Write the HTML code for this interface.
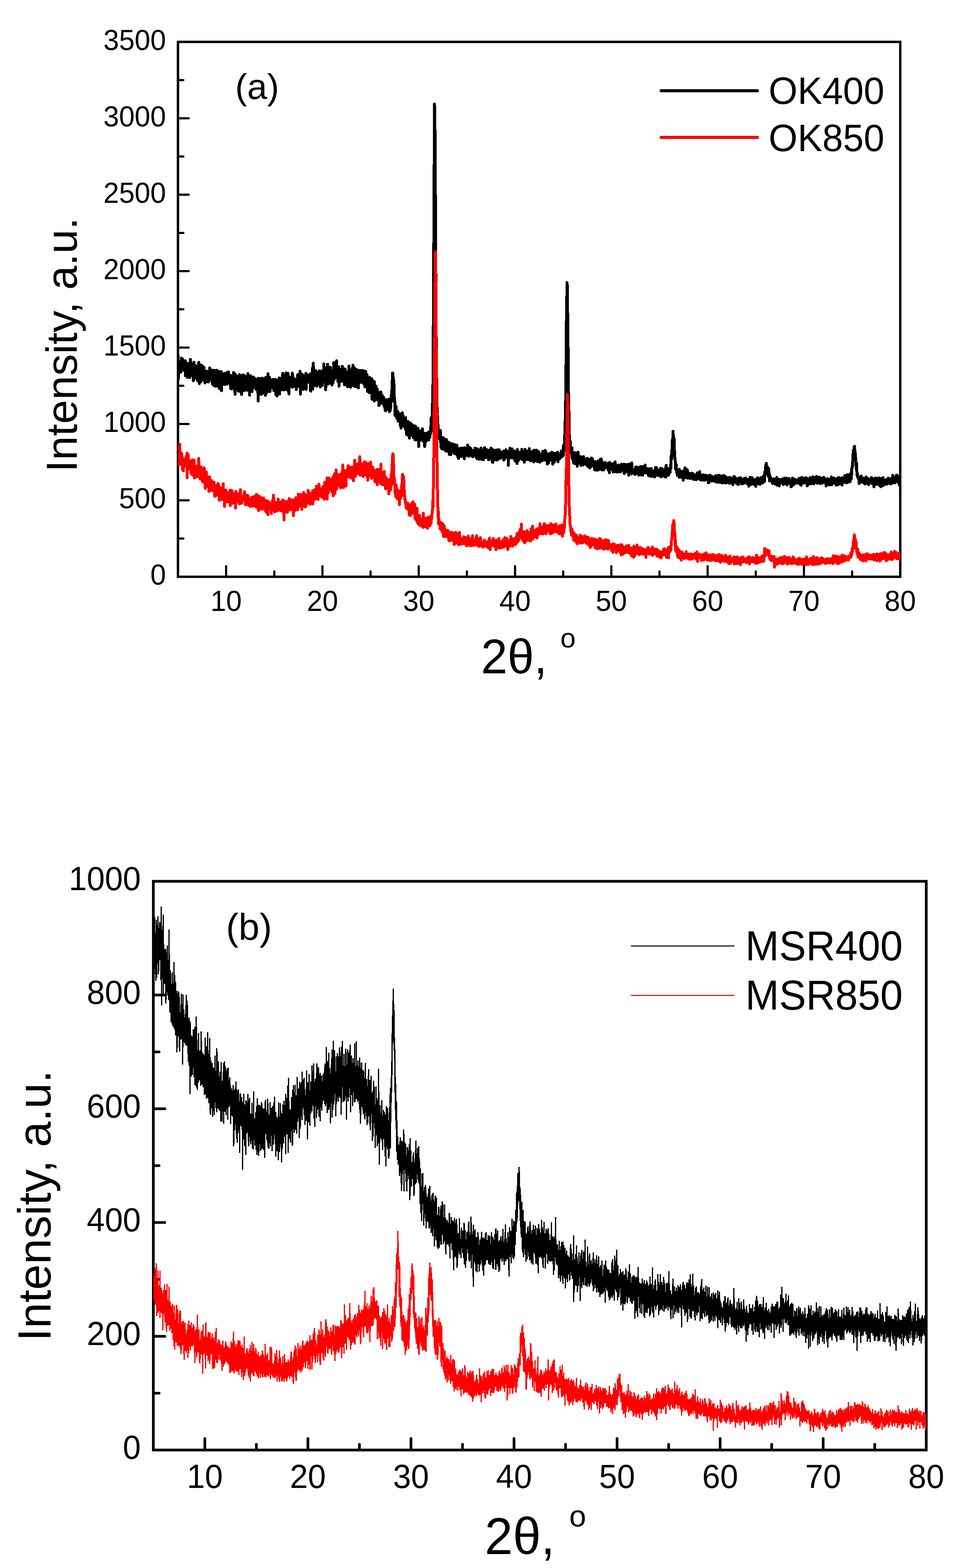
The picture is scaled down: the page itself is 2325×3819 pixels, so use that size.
<!DOCTYPE html>
<html lang="en"><head><meta charset="utf-8"><title>XRD patterns</title>
<style>
html,body{margin:0;padding:0;background:#fff;width:2325px;height:3819px;}
svg{display:block;}
text{font-family:"Liberation Sans", sans-serif;fill:#000;}
</style></head><body>
<svg width="2325" height="3819" viewBox="0 0 2325 3819">
<rect width="2325" height="3819" fill="#fff"/>
<defs>
<clipPath id="ct"><rect x="433.3" y="102.0" width="1758.4" height="1302.8"/></clipPath>
<clipPath id="cb"><rect x="373.3" y="2146.5" width="1881.7" height="1385.2"/></clipPath>
</defs>
<rect x="433.3" y="102.0" width="1758.4" height="1302.8" fill="none" stroke="#000" stroke-width="5.8"/>
<path d="M550.5 1404.8V1378.8M785.0 1404.8V1378.8M1019.4 1404.8V1378.8M1253.9 1404.8V1378.8M1488.3 1404.8V1378.8M1722.8 1404.8V1378.8M1957.2 1404.8V1378.8M667.8 1404.8V1391.8M902.2 1404.8V1391.8M1136.7 1404.8V1391.8M1371.1 1404.8V1391.8M1605.6 1404.8V1391.8M1840.0 1404.8V1391.8M2074.5 1404.8V1391.8M433.3 1218.7H459.3M433.3 1032.6H459.3M433.3 846.5H459.3M433.3 660.3H459.3M433.3 474.2H459.3M433.3 288.1H459.3M433.3 1311.7H446.3M433.3 1125.6H446.3M433.3 939.5H446.3M433.3 753.4H446.3M433.3 567.3H446.3M433.3 381.2H446.3M433.3 195.1H446.3" fill="none" stroke="#000" stroke-width="5.2" stroke-linecap="round"/>
<path shape-rendering="crispEdges" clip-path="url(#ct)" d="M433.3 867l.47 25.3 .47 2.6 .47 27.1 .47-32.7 .46 4 .47 2.9 .47-10.4 .47-1.1 .47 18.5 .47-2 .47-4.9 .47-14.2 .47 1.8 .46 23.2 .47-2.1 .47-22.7 .47-10.2 .47 20.1 .47 8.3 .47-21.8 .47 17.6 .47-12.6 .46-9.9 .47 11.5 .47 7.1 .47-7.9 .47 17.1 .47-5.5 .47 5.1 .47-4.3 .47 3.6 .47-3.4 .46 2.6 .47-5.6 .47 .5 .47-2.6 .47-13.4 .47 36.4 .47-34.7 .47 19.1 .47 12.4 .46-12.8 .47-3.1 .47-11.7 .47 26.3 .47-15.5 .47 1.4 .47 22.3 .47-5.9 .47-21.7 .46-.9 .47-4.6 .47 7 .47 1.9 .47 3.5 .47-13.1 .47 25.3 .47-8.4 .47-6.2 .46 24.1 .47-35 .47 25.8 .47-8.6 .47-26.9 .47 36.5 .47-3.4 .47-25.3 .47 32.3 .46-7.7 .47-11.3 .47 .9 .47-1.5 .47 2.9 .47-11.6 .47 4.2 .47 5.3 .47 15.6 .46 .6 .47 14.7 .47-31.3 .47 30.6 .47-32.6 .47-11.5 .47 35.4 .47-4.4 .47-2.3 .46-15.7 .47 20.7 .47-8.7 .47 4.9 .47-3.1 .47-18.4 .47 27.4 .47-12.4 .47-2.2 .47-6.9 .46 25.8 .47-28.6 .47 8.4 .47-5.1 .47 9.8 .47 20.8 .47-11.8 .47-17.5 .47 9.6 .46 1.2 .47-22 .47-4.7 .47 27.1 .47-23.6 .47 47.4 .47 .8 .47-34.9 .47 13.8 .46-10 .47 .9 .47 7.5 .47-9.1 .47 6.5 .47 20.3 .47-20.8 .47 .5 .47-19.5 .46 35.6 .47-13.6 .47 5.5 .47-3.4 .47-21.3 .47 15.5 .47 10.2 .47-7.2 .47-7.2 .46 21.2 .47-8.6 .47-21.4 .47 8.3 .47 10.9 .47 5.4 .47-3.8 .47 16.8 .47-29.6 .46 7.4 .47 2.5 .47 17.3 .47-6.8 .47-14.5 .47 3.2 .47 9.1 .47-11.8 .47-5 .46 19.3 .47-1.6 .47 4.2 .47 3.5 .47-23.1 .47 3.6 .47 2.1 .47 18.1 .47-1.4 .47-11.4 .46 4.2 .47-6.2 .47 9.8 .47-15.9 .47-13.5 .47 3.2 .47-.6 .47 18.3 .47-9.9 .46 15.5 .47-15.3 .47 15.5 .47 1.5 .47 1.9 .47-15.8 .47 5.2 .47 1.1 .47 15.9 .46-15.1 .47 18.8 .47-34.3 .47 19.1 .47-3.8 .47 3.7 .47 17.6 .47-2.4 .47-15.8 .46-17.8 .47 30.9 .47-4.8 .47-7.6 .47 19.4 .47 .3 .47-15.1 .47-4.2 .47 4.2 .46-22.6 .47 20.1 .47-6.1 .47-14.5 .47-1.1 .47 38.9 .47-14.2 .47-18 .47 30 .46-5.2 .47 4.4 .47 .9 .47-2.6 .47-15.3 .47-12.8 .47-2.9 .47 17.9 .47 23.4 .46-22.4 .47 3.4 .47-8 .47 5.7 .47 19.7 .47-25.9 .47 29.3 .47-16.1 .47-11.7 .47-.4 .46-14.2 .47 46.2 .47-31.6 .47-4 .47 12 .47-11.2 .47 20.5 .47-20.6 .47 1.5 .46 17.9 .47-3.6 .47-5.5 .47 5.5 .47-19.8 .47 10.3 .47-13.3 .47 1.7 .47 13.1 .46 3.1 .47 8.9 .47-1.6 .47 .1 .47-13.4 .47 14.5 .47-11.2 .47-1.2 .47 8.1 .46-3.5 .47-19 .47-1.9 .47 28.1 .47-6.8 .47 2.1 .47-1 .47-21.1 .47 10 .46-6.6 .47-6 .47 26 .47-2.9 .47-2.5 .47-11.5 .47 13.2 .47-8.6 .47-6 .46 .2 .47 8.4 .47 14.5 .47 9 .47-31.1 .47 7.8 .47 16.3 .47-4.9 .47-.6 .46 14.4 .47-22.4 .47 12.2 .47-5.7 .47-11.9 .47 9.8 .47-7.4 .47 1.5 .47 4.6 .47-.1 .46-21 .47 23.7 .47-20.8 .47 29.6 .47-19 .47 6.5 .47 10.6 .47 22.4 .47-49.3 .46 32.1 .47-2.2 .47-12.6 .47 .9 .47-2.5 .47 6.3 .47 14.5 .47-27.4 .47 20.6 .46-13 .47-4 .47-7 .47 16.4 .47 1.1 .47-.8 .47 18.8 .47-12.6 .47 3 .46 1.7 .47-15.2 .47 5.6 .47-22 .47 1.3 .47 39.2 .47-23.2 .47 13.1 .47-18 .46 4.7 .47-8.9 .47 7.3 .47-5.2 .47 12.4 .47 25.6 .47-15.2 .47-3.8 .47-4.1 .46 6.1 .47-30.6 .47 20.9 .47-16.8 .47 18.9 .47-22.9 .47 33 .47-20.7 .47 22.4 .46-20.5 .47-13.1 .47 37.3 .47-8.8 .47-12.8 .47 5 .47 13.8 .47-29.1 .47 12.8 .47-14.3 .46 11.3 .47 17.1 .47-7.7 .47-21.5 .47 32 .47-10.5 .47-12.3 .47-4.7 .47 2.2 .46 26.6 .47-40.9 .47 26 .47-2 .47 .2 .47 2.7 .47 8.5 .47-7.3 .47-18.9 .46 31 .47 12.3 .47-34.1 .47 2.4 .47-4.5 .47-11.4 .47 28.3 .47-10.4 .47-3.7 .46-8.3 .47 2.4 .47 21.6 .47 6.2 .47-12.7 .47 15.5 .47-31.3 .47 17.4 .47-.4 .46 6.2 .47-27.7 .47 14.2 .47 8.1 .47-11.7 .47 8.1 .47-7.8 .47-8.3 .47 18.3 .46-8.9 .47 .4 .47-7.5 .47 6.3 .47 6.5 .47 7.8 .47-10.8 .47 15.5 .47-19.5 .47 6.9 .46-5.6 .47 12.3 .47 3.3 .47 1.3 .47-23.1 .47 15.2 .47 .2 .47 17.9 .47-19.8 .46 39.1 .47-55.3 .47 18.4 .47-3 .47 16.7 .47-3.8 .47-19.5 .47 9.4 .47-7.3 .46-9.6 .47 7 .47 29.4 .47-10.4 .47 1.7 .47-2.5 .47 13.4 .47-.3 .47-15 .46-1.6 .47-12.7 .47 9.6 .47-20 .47 37.3 .47-5 .47-18.8 .47 6.1 .47 8.2 .46-20.1 .47-3.7 .47-2.5 .47 19.6 .47-4.4 .47-2.7 .47 2 .47-11 .47 17.3 .46-9.8 .47 29.5 .47-33.9 .47-10.1 .47 19.1 .47-12.2 .47 30.9 .47-15.2 .47 13.9 .46-21.3 .47-2.3 .47 21.7 .47-6 .47-3 .47-34.5 .47 28.6 .47-2.2 .47-2.7 .47 .7 .46 6.2 .47 12.5 .47-7.5 .47-26.5 .47 15.8 .47 7.2 .47 11.2 .47-14.8 .47-1 .46 7.8 .47-17.7 .47 17 .47-4.8 .47-11.6 .47 7.1 .47-10.3 .47 15.5 .47 2.3 .46-10.3 .47 2.9 .47-11.2 .47 8.9 .47 5 .47-5.5 .47-2.3 .47 20.3 .47-11.2 .46 2.2 .47-17.6 .47 19.2 .47-17.7 .47 26.6 .47-13.8 .47-12.9 .47 15.2 .47-16.2 .46 36.4 .47-23.6 .47-1.5 .47 3.2 .47 15.8 .47-24.9 .47 34.3 .47-37.6 .47 7.5 .46-8 .47 14.2 .47 9.8 .47-6.8 .47-.7 .47-12.2 .47 10.4 .47-8.3 .47-.9 .46-10.8 .47 39.1 .47-18.2 .47-12.6 .47-.1 .47 14.3 .47-3.4 .47-2.1 .47-2.6 .47 7.9 .46 .9 .47 5.4 .47-8.5 .47-20.4 .47 26.8 .47-22 .47-11.3 .47 19.9 .47-24.8 .46 28.6 .47-20.8 .47 19.6 .47 13.3 .47-18 .47-17.7 .47 28.3 .47-12.3 .47 16.8 .46-1.3 .47-15.5 .47 7.3 .47-8.7 .47-8.2 .47 28.1 .47-5.7 .47-8.5 .47-26.2 .46 30.3 .47 1.8 .47-10.7 .47-19.3 .47 30.8 .47-3.2 .47-4.1 .47-8.3 .47-16.5 .46 39.4 .47 4.7 .47-21.1 .47-4.4 .47 31.8 .47-18.8 .47-18.2 .47 17.1 .47-11.8 .46 3.5 .47-5.6 .47 2.4 .47 1.9 .47-11.4 .47 20.7 .47-7.9 .47-11.7 .47 19.4 .46-2.3 .47 4.3 .47 2.1 .47-34.3 .47 17.8 .47-16.3 .47 13.1 .47 7.5 .47 4.1 .47-6.4 .46 3.5 .47-11.2 .47 20.6 .47-12.1 .47-3.5 .47 7.9 .47 0 .47-9.2 .47-.2 .46 7.6 .47-1.1 .47 6.2 .47-12.9 .47 7.7 .47 16.7 .47-14.6 .47-10.8 .47 3.8 .46 13.5 .47-18.8 .47 1.4 .47-.1 .47-10.7 .47 21.5 .47-10.9 .47 9.9 .47-14.5 .46-2 .47 7.7 .47-3.1 .47 18 .47-16.7 .47 21 .47-39 .47 11.7 .47 31.1 .46 13.1 .47-46.1 .47 25 .47-16.3 .47 21.4 .47-16 .47 8.3 .47-14.5 .47 10.7 .46-21.2 .47 26 .47-23.8 .47 15 .47-6.3 .47 24.5 .47 1.8 .47-32.7 .47 26.4 .46-10.4 .47-.3 .47 6.7 .47-13 .47 18.7 .47-2.6 .47-24.7 .47 20 .47-18.1 .47 .9 .46-10.1 .47 12.3 .47 26.6 .47-13.9 .47-2.9 .47-19.2 .47 10.2 .47 9.7 .47-10.9 .46 9.2 .47-10.7 .47 4.5 .47-11.2 .47 8.9 .47-7.8 .47 11.7 .47-8.6 .47 10 .46-9.4 .47 4.8 .47 4 .47 3.4 .47-1.8 .47-8.9 .47 32.3 .47-41.4 .47 42.1 .46-25.6 .47 1.6 .47-12.6 .47 5.8 .47 3.1 .47-1.5 .47-10.3 .47-16.4 .47 22.9 .46 28.5 .47-19.3 .47-10 .47-34 .47 47.8 .47-4.7 .47-11.1 .47 2.7 .47 19.3 .46-26.8 .47 26.5 .47-12.4 .47-18.8 .47 30.9 .47-11.5 .47-23.8 .47 22.6 .47 9.2 .46-5.6 .47-16.8 .47 28.3 .47-11.2 .47 9.7 .47-3.7 .47-28.9 .47 16.1 .47 4.1 .47-10.3 .46 13.4 .47 5.7 .47-27.9 .47 3.1 .47 20.3 .47-18.5 .47-9 .47 11.4 .47-.2 .46 20.4 .47-13.1 .47 20.4 .47-35.4 .47 15.1 .47-17.8 .47 24.7 .47-19.6 .47 29.1 .46-14.2 .47-11.4 .47 2.2 .47 4.8 .47 18.8 .47-35.5 .47 7.8 .47-5.9 .47 .1 .46 17.8 .47-9.3 .47-27.1 .47 41.5 .47-15 .47 11.4 .47-27.7 .47 18.7 .47 14.4 .46-5.4 .47 9.5 .47 10.4 .47 5 .47-23.9 .47 4.7 .47-15.5 .47 11.6 .47-12.8 .46-18.7 .47 35.3 .47 .3 .47-26.6 .47-16.5 .47 38.6 .47 9.7 .47-17 .47 1.3 .47-13.6 .46 21.2 .47-9.7 .47 .4 .47 15.2 .47-.2 .47-24.5 .47-1.3 .47 16.1 .47-28.7 .46 7.5 .47 5.6 .47-1.9 .47 3 .47-4.6 .47-1.8 .47 9.5 .47 25.6 .47-23 .46 8.1 .47 4.2 .47-21.8 .47 28.9 .47-31.9 .47 17.8 .47 7.1 .47-4.4 .47-39.1 .46 10.4 .47 21.3 .47-16.5 .47-8.7 .47 32.3 .47-7.2 .47-14.8 .47 6.3 .47 9.4 .46-24.5 .47 13.7 .47-3.5 .47-19.6 .47 23.2 .47-26.4 .47 28.6 .47 5.7 .47-3.5 .46-9.2 .47 2.7 .47 3.5 .47 22.7 .47-4.8 .47-10.1 .47-12.1 .47-8.8 .47 47.1 .46-27.5 .47 3.8 .47-4.2 .47-3.9 .47 13.1 .47 5.8 .47-28.6 .47 3.2 .47 14.4 .47-3.6 .46 7.1 .47 8.8 .47-25.1 .47 16.1 .47 5.6 .47-6.3 .47-27.3 .47 14.7 .47 2.6 .46 1.8 .47-9.4 .47 1.7 .47 25 .47-13 .47 5.1 .47-10.5 .47 3.5 .47 23.7 .46-38.4 .47 11 .47 24.4 .47-35 .47 12.5 .47-4.1 .47 5.5 .47-1.5 .47 8.2 .46 14.2 .47-12.6 .47-9.6 .47 1.8 .47-7.4 .47 9.2 .47 26.3 .47-36.1 .47 18.9 .46 6.6 .47-12.3 .47 12.8 .47-20.9 .47 15.7 .47-34.7 .47 26.8 .47 3.8 .47 1.3 .46 18.4 .47-15.6 .47-1.2 .47-5.1 .47 23 .47-27.3 .47-15.1 .47 20.9 .47-4.5 .46-5.7 .47 14.9 .47-4.3 .47-16.8 .47 9.3 .47 17.2 .47 6.8 .47-49.1 .47 22.3 .47 24.6 .46-21 .47-6.2 .47 6.8 .47 24.2 .47-44.5 .47 14.7 .47 9.7 .47-10.5 .47 11 .46 1.4 .47-14.7 .47 34.7 .47-35.9 .47 7.4 .47-4.3 .47-1.8 .47-7.7 .47 1.5 .46 6.8 .47 15.4 .47-12.9 .47 14.2 .47 5.8 .47-16.9 .47 1.3 .47-10 .47 40.2 .46-32.8 .47-.8 .47 6.8 .47-16.3 .47 28.4 .47-14.4 .47 8.6 .47-4.1 .47 11.6 .46-9.9 .47-9.5 .47 6.7 .47-2.5 .47 13.5 .47-28.1 .47 27.6 .47-8.4 .47-6.6 .46 9.3 .47-11 .47 7 .47-17.9 .47 14 .47 2.1 .47 14.6 .47-14.9 .47-6.2 .46 7.3 .47 16.3 .47-4.2 .47-3.4 .47-2.7 .47 17 .47-38.2 .47 23.7 .47-2.1 .47 7 .46-4.3 .47-22.7 .47 34.3 .47-4.6 .47 6.6 .47-5.2 .47-23.9 .47 25.9 .47-1.5 .46 16.3 .47-16.3 .47-6.3 .47 8.9 .47-.4 .47-13.3 .47 3.8 .47 7.9 .47 8.5 .46 9 .47-36.2 .47 37.9 .47-24.6 .47 10.3 .47 6.8 .47-17.9 .47 19.3 .47-22.3 .46 26.8 .47-16.7 .47-8.3 .47 26.2 .47-34.2 .47 14.7 .47 35.4 .47-40.1 .47-5.3 .46 25.2 .47-.2 .47-5.7 .47 26.1 .47-22.5 .47-8.1 .47 17.2 .47-18 .47-11.6 .46 47.2 .47-1.1 .47-11.8 .47-14.3 .47 3.4 .47 15 .47 3 .47-3.9 .47-26.3 .46 29.9 .47-3.6 .47-16.3 .47 14.1 .47 8.5 .47-26.1 .47 12.6 .47 11.8 .47-2.8 .47-13.9 .46 14.7 .47-6.2 .47-6.4 .47-.6 .47 31.4 .47-14.2 .47-1.1 .47-4.2 .47-6.8 .46-3.7 .47 18 .47 7.6 .47-13.5 .47 9 .47-24.5 .47 15.2 .47 3.8 .47-9.6 .46 18.3 .47-2.9 .47-1.3 .47-8.3 .47-6.4 .47 5.9 .47 .9 .47 10.9 .47-5.9 .46 7 .47-14.3 .47 19.4 .47-5.4 .47-2.8 .47-5.3 .47 16.4 .47-4.8 .47 6.7 .46 5.9 .47-25 .47 7 .47 21 .47-5.1 .47-15.6 .47 12.6 .47 5.1 .47-23.6 .46 18.4 .47-.8 .47-9.3 .47 13.6 .47-7.2 .47-1.1 .47-5.7 .47 15.6 .47-18.6 .46 8 .47-14.8 .47 16.5 .47 7.9 .47 .2 .47 6.2 .47-11.6 .47 .5 .47-10.1 .47 7.9 .46 8.9 .47-20.6 .47 13.5 .47-9.9 .47-16.2 .47-3.1 .47 15.1 .47-14.6 .47-25.8 .46-7 .47-6.4 .47-15 .47 27.9 .47-27.2 .47 14.4 .47-4.2 .47 6.4 .47 1.6 .46 4.4 .47 16.2 .47 16.1 .47 15.7 .47-10.1 .47 16.5 .47 25.5 .47-14.2 .47-3.1 .46 16.9 .47-10.4 .47-11.7 .47 18.9 .47-1 .47 .7 .47 10.1 .47-4.2 .47 6 .46-6.4 .47 5.7 .47-16.9 .47 11.3 .47-8.9 .47 21.4 .47-11.7 .47-5.4 .47-.6 .46 13.5 .47-4.6 .47-1.6 .47 4.9 .47 1.2 .47-8.7 .47 17.2 .47 6.6 .47-12.5 .47-7 .46 25.4 .47-34.8 .47 12.6 .47-4.2 .47 14.2 .47-7.2 .47-17.6 .47 .1 .47 12.4 .46 9.2 .47-1.2 .47-13.2 .47 20 .47 2.5 .47-7.1 .47-9.5 .47 19.4 .47-13.1 .46 .4 .47 2.8 .47 3.2 .47-9.8 .47 3.9 .47 19.7 .47-28.4 .47 11.3 .47 1.9 .46 6.8 .47 0 .47 21.4 .47-21 .47-7.2 .47 .3 .47 12.6 .47 16.2 .47-11.1 .46-7.1 .47-14.3 .47 27.3 .47-14.7 .47-4.8 .47 .1 .47 7.1 .47 25.2 .47-30.8 .46 4.8 .47-3.3 .47 14.1 .47-3.9 .47-17.8 .47 15 .47-.4 .47 6.9 .47-17.7 .46 26.9 .47-9.9 .47-8.3 .47 4.7 .47-8 .47 4.5 .47-8.9 .47 15.5 .47-.5 .47-3.4 .46 18.9 .47-28.4 .47 21.2 .47-18 .47-2.5 .47 4.2 .47 7.7 .47 7.7 .47 13.8 .46-23.8 .47 7.5 .47-17.1 .47 18.2 .47-7.8 .47 9.5 .47-7.1 .47 7.2 .47-1.2 .46 15.5 .47-10.1 .47-4.6 .47-12.3 .47 9.2 .47 13.5 .47-24.4 .47 11.2 .47-6.4 .46 18.1 .47 21.2 .47-21.8 .47 2.6 .47-11 .47 16.1 .47-5.4 .47 4.5 .47-12.9 .46 9.6 .47-19.8 .47 5.4 .47-.2 .47 9.4 .47-3.7 .47-5.1 .47 15 .47-17.8 .46 11.6 .47-11.4 .47-8.3 .47 6.2 .47 23 .47-19.6 .47 13.4 .47 1.1 .47-1.5 .46 8.3 .47-12.1 .47 8.3 .47-15.6 .47 6.9 .47 25.1 .47-13.9 .47 .5 .47-2.7 .47-.2 .46-7.5 .47 3.1 .47 8 .47-13.2 .47-4.1 .47 7.6 .47-10.2 .47 6.3 .47 8.3 .46-1.6 .47-3.7 .47-4.9 .47 2.7 .47-7.3 .47-2 .47 18.2 .47 .7 .47-9.7 .46-5.7 .47-4.8 .47 1.4 .47-.9 .47 12.4 .47-12.9 .47 7.5 .47-11.3 .47-6.4 .46 11.7 .47-6.7 .47-28.1 .47 25.6 .47-7.3 .47-.7 .47-4.8 .47-35.5 .47 1.5 .46-21.8 .47-26.9 .47-13.9 .47-95.3 .47-48.1 .47-84.3 .47-108 .47-78.8 .47-102 .46-88.4 .47-76.1 .47 10.6 .47 12.9 .47 82.9 .47 60.2 .47 91.1 .47 111.7 .47 59.6 .46 91.1 .47 52.4 .47 74.2 .47 20.8 .47 56 .47 11.8 .47 18.9 .47 17.1 .47-11.2 .47 10.1 .46 23.9 .47-8.3 .47 9 .47 2.6 .47-1.2 .47 12 .47-3.9 .47 .9 .47 9.5 .46 .7 .47-10.3 .47 8.3 .47-18.5 .47 3.1 .47 25.1 .47-7.8 .47 20.4 .47-10.5 .46 2.8 .47-.3 .47 12 .47-19.2 .47 1.6 .47 8.4 .47-5.5 .47-7.7 .47-5 .46 24.4 .47-23.3 .47 27.3 .47-6.8 .47-3.1 .47-15.3 .47 8 .47 .5 .47-7.5 .46 11.1 .47 5.8 .47-15 .47 13.8 .47 8.8 .47 4 .47-14.8 .47-13.4 .47 9.3 .46 5.9 .47-9 .47 21.8 .47-15 .47 8 .47-14.9 .47 17.8 .47-12.7 .47 5.1 .46 1.7 .47-5.1 .47 6.8 .47-12.1 .47 13.2 .47 15.7 .47-28.1 .47 1.1 .47 6.8 .47-6.7 .46 5.7 .47 12.1 .47 9.8 .47-7.6 .47-5.7 .47-6 .47 15.3 .47-3.8 .47-18.5 .46 17.4 .47 .5 .47 1.9 .47-19.6 .47 6.6 .47-.5 .47-5.7 .47 5.6 .47-2.7 .46 7.7 .47-3.7 .47 2.1 .47-.4 .47 14.5 .47-7.1 .47 1.3 .47 2.4 .47-4.4 .46-13.9 .47 6.7 .47 6.7 .47-1.7 .47-7.9 .47 20 .47-12 .47-9.4 .47-.9 .46 6.9 .47 2.8 .47 18 .47-8.2 .47-4.9 .47-3 .47-.1 .47 20.4 .47-13 .46-6 .47 7.9 .47-3.9 .47-5.4 .47 1.6 .47 1.1 .47-4.1 .47-2.9 .47 10.7 .46 5.8 .47-2.6 .47-1.4 .47-3.3 .47 11 .47-5.5 .47-3.7 .47-11.9 .47 6.3 .47 5 .46-7.6 .47 5.3 .47-.3 .47-6.2 .47 5.5 .47 1.4 .47-4.1 .47 9.4 .47-4.3 .46 16 .47-12.5 .47-14.4 .47 14.1 .47-2.6 .47 3.2 .47 4.5 .47-11.2 .47 3.9 .46-8.2 .47 14.7 .47-6.8 .47 2.8 .47 1.9 .47-12.3 .47 13.5 .47-.1 .47-23.9 .46 19.2 .47 1.1 .47-4.9 .47 10.8 .47-9.9 .47 11.3 .47-5.1 .47 .7 .47-14.1 .46 5.4 .47-8.9 .47 1.3 .47 17.4 .47-8.9 .47 7.1 .47 1.5 .47-13.4 .47-1.7 .46 9.7 .47-1.5 .47 .3 .47-.2 .47-.1 .47 10 .47-11.9 .47 9.6 .47 3.7 .47-7.6 .46-3 .47-4.1 .47 3.4 .47 .7 .47 7 .47-7.7 .47 1.4 .47-.5 .47 7.6 .46-17.9 .47 7 .47 .6 .47 4.3 .47 2.8 .47-8.9 .47 16.6 .47-6.3 .47-1.2 .46-6.3 .47 6.5 .47-12.6 .47 23.3 .47-24.3 .47 9.2 .47-4.6 .47 10.7 .47-11.3 .46 10 .47-4.2 .47 12.7 .47-14.8 .47 3.1 .47 14.7 .47-12.9 .47 1.6 .47-8.3 .46 10.9 .47-6.3 .47-7.9 .47 15.8 .47-20.1 .47 12 .47 3.4 .47 8.4 .47 3 .46-19.9 .47 10.4 .47 1.2 .47-12.3 .47 2.8 .47 4.1 .47 11.6 .47 3.6 .47-21.1 .46 7.2 .47 1.6 .47-15.8 .47 17 .47-5.6 .47-13.1 .47 11.3 .47 8.5 .47 2.1 .47-15 .46 17.9 .47-15.1 .47-5.7 .47 12.6 .47-6.7 .47 5.5 .47-9.8 .47 8.3 .47 7.1 .46-7.7 .47 1.6 .47 5.6 .47-2.8 .47 7.1 .47-2.6 .47-10.8 .47 18.2 .47-15.5 .46 2 .47 4.4 .47-14.5 .47 5.2 .47 9.4 .47-5.8 .47-5.2 .47 18.2 .47-13 .46 3.4 .47-4.7 .47-12.4 .47 20.1 .47-2.2 .47 6.2 .47-10.3 .47-2.9 .47 22.5 .46-28.6 .47-.9 .47 31 .47-8.3 .47-14.5 .47 2.8 .47-7.8 .47 10.6 .47-11.5 .46 19.3 .47-12.9 .47 6.2 .47 .2 .47 9.5 .47-9.9 .47-12.9 .47 14.7 .47-3 .46-2.6 .47 8 .47-9 .47-2.1 .47 5.8 .47 11.8 .47-24.6 .47 10.7 .47 .6 .47 1.4 .46 2.7 .47 7.8 .47-11.7 .47-1.4 .47-6 .47-4.7 .47 17.1 .47-16.9 .47 11 .46-3.6 .47 11.7 .47-9.9 .47 9.3 .47-11.6 .47 13.9 .47-9.3 .47 3.3 .47-5.6 .46 .8 .47 .7 .47 4.8 .47-9.9 .47 2.1 .47 9.8 .47-11.1 .47 10.1 .47-5.3 .46 1.4 .47-.1 .47-6.4 .47 18.8 .47-22.2 .47 22 .47-21.8 .47 4.9 .47 14.8 .46-13.3 .47 4.9 .47 6.2 .47-17.3 .47 .7 .47 5.3 .47-9.4 .47 11.1 .47 3 .46-11.5 .47 14.9 .47-11.1 .47-2.3 .47 6.4 .47 .9 .47-2.8 .47 1.8 .47 6.8 .46 20.9 .47-22.2 .47 6.9 .47-17.7 .47 10.4 .47-5 .47-3.7 .47-2 .47 14.2 .47-22.4 .46 9 .47 2 .47 11.3 .47-21.2 .47 9.8 .47-3.3 .47 10.3 .47-16 .47 3.2 .46 11.4 .47-15.2 .47 22.2 .47-14 .47 1.7 .47-.3 .47 10.2 .47-2.4 .47-9.6 .46-.7 .47 8.2 .47 1.6 .47 1.9 .47-13.4 .47 10.8 .47 2.9 .47 9.9 .47-.8 .46-4.7 .47 6.7 .47-11.7 .47-.7 .47 5.1 .47-4.1 .47-2.4 .47 12.2 .47-17.9 .46 25.2 .47-34.2 .47 24.9 .47-10.9 .47 2.8 .47-5.3 .47 8.2 .47-9.3 .47 15.3 .46-16.9 .47 7.6 .47-4.8 .47-4.6 .47 16 .47-4.3 .47 1.2 .47-4.7 .47-1.9 .46-4 .47 3.7 .47 2.7 .47-5.1 .47-3.5 .47 .5 .47-8.2 .47 19.8 .47-6.2 .47 11.4 .46-4.7 .47-9.5 .47-4.6 .47 12.7 .47-7 .47 2.9 .47-3.1 .47 2.1 .47 5 .46 12.8 .47-5.4 .47-13.5 .47 3.4 .47-15.6 .47 14.7 .47-6.3 .47 15.2 .47 1.5 .46-11.5 .47-10.5 .47 9.1 .47 5.2 .47-5.1 .47-1.5 .47 1.2 .47 3.1 .47 7.8 .46 .6 .47-4.5 .47-2.7 .47 8.5 .47-20.9 .47 7.2 .47 8.1 .47-9.2 .47-12 .46 15.7 .47 .2 .47-5.7 .47 17.1 .47-5.7 .47 1.5 .47-11 .47 17.6 .47-14.3 .46 5.8 .47-1.4 .47 1.9 .47-14.4 .47 16.7 .47 2.4 .47-10.7 .47 6.3 .47-7.7 .46 4.1 .47-.7 .47-.1 .47 12.5 .47 2.4 .47-28.7 .47 22.7 .47-12 .47 11.7 .47-7.3 .46 1.3 .47-12.2 .47 11.8 .47 9.5 .47-.8 .47-12.2 .47-4.1 .47-8 .47-.8 .46 25.2 .47-9.2 .47 7.8 .47-10.6 .47-3.7 .47 18.8 .47-19.1 .47 1 .47 6.9 .46 2.5 .47-16 .47 12.9 .47 6.7 .47-8.5 .47-6.6 .47 2.5 .47 18.9 .47-4.3 .46-6.7 .47-3.9 .47 0 .47 10 .47-15.4 .47 3.2 .47 14.6 .47-4.4 .47-6 .46 10.1 .47-11 .47-1 .47 4.3 .47-7.1 .47-8.7 .47 17.5 .47-8 .47 6.5 .46-14 .47 2 .47 8.9 .47 4.4 .47-9.9 .47 6 .47 8.3 .47-1.5 .47-6 .47-16.5 .46 7.7 .47-2 .47 3.1 .47-3.1 .47-.8 .47 18.5 .47-12.1 .47-.2 .47 1 .46 .6 .47 20.7 .47-19 .47 10.9 .47-16.3 .47 10.4 .47-1.7 .47-1.5 .47 14 .46-13.1 .47 7.7 .47-15.6 .47 10.5 .47 4.3 .47-16.8 .47 10.9 .47 4.7 .47-6 .46 .6 .47-3 .47 8.7 .47-14.6 .47 5.3 .47-9.2 .47 7.5 .47 10.9 .47-14.4 .46 9.3 .47-2.5 .47 18 .47-8.5 .47-18.5 .47 1.9 .47 20.1 .47-14.7 .47-.1 .46-6.4 .47 16.5 .47 4.5 .47-14.4 .47 6.8 .47-.5 .47 2.1 .47-15.1 .47 14.8 .46-12.9 .47 2.4 .47 8.9 .47-11.6 .47-2.1 .47 6.4 .47 4.1 .47-7.1 .47 10.6 .47-8.9 .46-7.4 .47 20.2 .47 3.2 .47-18 .47 11.2 .47-3.1 .47-4.5 .47 5.3 .47-5.4 .46 7.7 .47-3.4 .47-3.4 .47-4.8 .47 6.6 .47-5.7 .47-2.2 .47 .3 .47 4.1 .46-10.7 .47 14.5 .47-13.7 .47-.3 .47 .1 .47 9.5 .47-11.7 .47 2.6 .47 10.7 .46-7.2 .47 6 .47-14.3 .47-9.7 .47 1.1 .47 11.8 .47-3.7 .47-11.4 .47-7 .46-16.5 .47-2.9 .47-29 .47-5.1 .47-41.7 .47-5.2 .47-47.1 .47-49.9 .47-56.3 .46-43.4 .47-26.3 .47-29.1 .47-35.2 .47 .8 .47 23.2 .47 30 .47 60.1 .47 24.3 .46 40.5 .47 65.8 .47 36.7 .47 10 .47 28.3 .47 38.2 .47 14.6 .47 20.9 .47-9.6 .47 9.2 .46 6.5 .47-13.1 .47 21.8 .47 2 .47-.7 .47 5.1 .47-8 .47 10.7 .47-1 .46-14.3 .47 21.4 .47 5.2 .47-8.9 .47 6.3 .47 .7 .47-5.4 .47-3.9 .47 17.3 .46-8.9 .47 13.7 .47-20.7 .47 14.1 .47-11.3 .47-7.7 .47 3.5 .47 6.8 .47 17 .46-26.6 .47 16.2 .47-8.1 .47 9.3 .47-1.6 .47-12.5 .47 22.7 .47-2.7 .47-6.3 .46-9 .47 24.5 .47-25.5 .47 11.6 .47-7.4 .47-13 .47 14.7 .47-3.9 .47-1.7 .46 11.6 .47-2.9 .47 2.3 .47-2.4 .47 3.6 .47 1.7 .47 .7 .47-9.1 .47 14.3 .46-9.5 .47-8.4 .47 18.8 .47 2.6 .47-16.2 .47 10 .47-.3 .47-9 .47 2.3 .47 6.8 .46-2.2 .47 7.9 .47-5.9 .47-3.2 .47-4.1 .47-.1 .47-7.6 .47 12.3 .47-7 .46 5 .47 8.4 .47-8.5 .47-.1 .47-2 .47 1.3 .47 2.6 .47 6.9 .47-3.7 .46-3.8 .47-2.3 .47-.9 .47 3.1 .47-1.7 .47-5.1 .47 8.2 .47 5 .47 5.9 .46-9.4 .47-3.7 .47 6.6 .47-12 .47 15.5 .47-3.1 .47-2.1 .47 8 .47-14.6 .46 11.7 .47 2.9 .47 4.4 .47-17.8 .47-2.2 .47 15 .47 2.8 .47-6.2 .47-2.7 .46 3.5 .47-6.5 .47 10.1 .47-20.2 .47 11.2 .47-4.2 .47 9.3 .47-8.7 .47-4.5 .46 15.5 .47-5.4 .47-5.5 .47 3.8 .47 8.2 .47-2.3 .47-6.7 .47 1.7 .47 6.5 .47-6.3 .46 16.5 .47-14.6 .47-5.6 .47 .3 .47 8.8 .47-4.3 .47 .3 .47 2.3 .47 4.6 .46 4.1 .47-5.1 .47 4.2 .47 5.9 .47-20.9 .47 17.2 .47-4.9 .47 .2 .47 7.3 .46-13 .47 13.2 .47-22 .47 20.3 .47-3.7 .47-3.8 .47-.1 .47-.8 .47-7.1 .46-1.6 .47-6.7 .47 21.8 .47-14.5 .47 2.4 .47 6.2 .47 6.5 .47-23.6 .47 7.6 .46 19.1 .47-20.9 .47 6.8 .47 1.5 .47-3.4 .47 9 .47-2.9 .47-6.8 .47 13.5 .46 1.4 .47 2.1 .47-15.3 .47 11.6 .47-4.4 .47 1.1 .47-6.8 .47 1.6 .47 7.5 .46-13.9 .47 6.2 .47 .7 .47 5 .47-.5 .47-.5 .47-1.6 .47-2.5 .47 .1 .47 4.4 .46-.7 .47-5.1 .47-3 .47-.3 .47 8.1 .47 7.8 .47-8.8 .47 .1 .47 .6 .46-2.6 .47 6.4 .47-3.8 .47 15.2 .47-25.3 .47 10.9 .47 2.3 .47-5.1 .47 4.8 .46 3.1 .47-9.6 .47 4.9 .47 4.6 .47-8.3 .47 1.6 .47 .5 .47 4.2 .47-8.4 .46 12.3 .47-10.6 .47-4.2 .47 15.1 .47-6.9 .47 12.5 .47-11.2 .47 10.8 .47-2.2 .46-9.3 .47-5.3 .47 3.6 .47 4.5 .47 3.5 .47-4.8 .47-14.6 .47 6.2 .47 16.9 .46-3.7 .47 4.5 .47-12.1 .47 5.2 .47 7.7 .47-8.2 .47 1.9 .47 3.6 .47-4.2 .47-7.4 .46 11 .47-3.4 .47 6.6 .47-6.1 .47-10.8 .47 5.1 .47 7.7 .47-.6 .47-11.2 .46 8.4 .47 2.4 .47-10 .47 9.4 .47 1.9 .47-6.8 .47 10.4 .47-5.2 .47 2.1 .46-5.5 .47 1.5 .47-11.7 .47 7 .47 4 .47-3.2 .47 4.8 .47-2.9 .47-1.9 .46 .8 .47-5.7 .47 5.2 .47 7.7 .47-5.8 .47 8.4 .47-18.8 .47 23.4 .47-10.4 .46-3.7 .47 8.7 .47-3 .47-8.6 .47 13.5 .47-12.8 .47 7 .47 .8 .47-13.9 .46 7.2 .47 2.4 .47 3.9 .47-2.5 .47 2.1 .47-11.9 .47 9.8 .47 5.6 .47-1.3 .46-5.4 .47 9 .47-2 .47 5.1 .47 4.2 .47-27.2 .47 14.8 .47-11.8 .47 7.2 .47 1.7 .46 8.3 .47-6.3 .47-1.2 .47 6.4 .47-9.5 .47-3 .47 4.5 .47 1.6 .47 11.4 .46-26.5 .47 12 .47 11.5 .47-.1 .47-2.8 .47 1.9 .47-6.1 .47 5.4 .47-5.8 .46 3.5 .47-1.1 .47 5.5 .47-8 .47-.5 .47 6.4 .47 5 .47-10 .47 11 .46-5.9 .47-7.3 .47-4.6 .47 9.1 .47-3.6 .47-5.6 .47 13.9 .47-3.6 .47-4.2 .46-6.1 .47 14.9 .47 .2 .47-12.8 .47-1.3 .47 10.8 .47-4 .47-5.3 .47 7 .46 10 .47-12.4 .47-4.2 .47 13 .47-15 .47 9.6 .47 8.7 .47-11.7 .47 10.2 .46-16.9 .47 5.2 .47-7.6 .47 20.4 .47-10.6 .47-7.7 .47 1.5 .47 3.4 .47 1.6 .47-1.6 .46-2.1 .47-4.6 .47 20.9 .47-4.3 .47-2.5 .47-4.5 .47-1.1 .47 4.4 .47-1.6 .46-4.9 .47-2.4 .47 11.7 .47-3.1 .47-1.8 .47-14.2 .47 18.5 .47-5.6 .47 1.5 .46 2.8 .47-7.9 .47 6 .47 2.5 .47-3.2 .47-1.2 .47 5.4 .47 .6 .47-10.8 .46 10 .47-8.7 .47 6.4 .47 4 .47 1.8 .47 3.3 .47-13.7 .47 .3 .47 6.2 .46 3.9 .47-3 .47-3.9 .47-6.4 .47 11.1 .47 6.1 .47-11 .47 3.5 .47 2.8 .46 6 .47-14 .47-4.8 .47 14.1 .47 2.8 .47-5.4 .47-1.3 .47-4.7 .47 2.5 .46 10.4 .47-11.3 .47 0 .47 4.8 .47-4.7 .47 9.6 .47-5.8 .47 5.9 .47-7.8 .47-4.4 .46 15.7 .47-11.4 .47-4 .47 2.8 .47-7.8 .47 9.7 .47-12.8 .47 11.9 .47 7.5 .46-6.1 .47 3.1 .47-10.8 .47-2.4 .47-.5 .47 5.4 .47 5.1 .47 2.6 .47 3.2 .46-10.3 .47 11.1 .47-5.7 .47-2.7 .47-1.3 .47 10.6 .47-.8 .47-.4 .47-11.6 .46 11.4 .47-1.2 .47-8.6 .47-1.9 .47-5.4 .47 10.8 .47-5.4 .47 15.4 .47-13.7 .46-1.3 .47-.6 .47 8.2 .47-10.8 .47-1.2 .47 9.1 .47-.2 .47 2.2 .47-.2 .46-1.6 .47 7.2 .47 .6 .47-6.2 .47 1.4 .47-8.4 .47 6.7 .47 4.2 .47 4.7 .46-8.3 .47 4.2 .47 4.1 .47-21.1 .47 21.7 .47-20.4 .47-8.2 .47 16.8 .47 3.1 .47-6.5 .46 8.9 .47-6.4 .47-3.4 .47 11.4 .47-16.2 .47 8.2 .47-1.4 .47-6.2 .47 15.4 .46-1.1 .47-9.4 .47-1 .47 2.9 .47-1.5 .47-.1 .47 3 .47 .7 .47-5.2 .46-7.6 .47-4.7 .47 7.5 .47-23.3 .47-8.9 .47 9.2 .47 1.4 .47-10.6 .47-13.9 .46-.1 .47-22.3 .47 11.1 .47-15.4 .47 .1 .47-17.1 .47 15.5 .47 1.6 .47 15 .46 .4 .47 14.6 .47-28.5 .47 31.3 .47 8.5 .47 4.7 .47 3.3 .47 4.3 .47 19.9 .46-15.7 .47 11.1 .47 3.6 .47-8.8 .47 11.3 .47 7.8 .47 1.7 .47-8.5 .47 5.1 .46 .3 .47 8.7 .47-7.7 .47 5.1 .47 1.2 .47-11.4 .47 5.9 .47 3.5 .47-6.9 .47-4.7 .46 19.2 .47-13.5 .47 4 .47 2.1 .47-8.1 .47 3.3 .47 7.3 .47-9.3 .47 8.2 .46-.9 .47 7.3 .47-7.3 .47-2.9 .47 5.2 .47-1.9 .47-6.7 .47 7.9 .47 2.8 .46-12.7 .47 13.3 .47 9.3 .47-6 .47-5.5 .47 5.3 .47-.2 .47-3.5 .47-1.6 .46 .5 .47-1.3 .47-5.9 .47-11.9 .47 11.5 .47 2.9 .47 7.4 .47-4.1 .47 6.3 .46-5.6 .47 5.9 .47-11.7 .47-5.4 .47 6.2 .47-9.1 .47 20.4 .47-10.7 .47 5.5 .46-1.5 .47 6.7 .47-5.4 .47 .3 .47 3.3 .47-9.8 .47 2.1 .47-2.2 .47 9.2 .47 .8 .46 2.8 .47-10.6 .47-.7 .47 5.4 .47 3.7 .47-4.2 .47-2.1 .47-.1 .47 4.2 .46-7.3 .47-.9 .47 11.7 .47-6.3 .47 1.3 .47 7.3 .47-3.8 .47-4.3 .47-4.9 .46 10.1 .47-1.6 .47-.9 .47 1.2 .47 5.4 .47-12 .47 5.7 .47-3.5 .47-1.2 .46 6 .47 2.9 .47-1.4 .47-.9 .47 1.7 .47-2.7 .47 5.9 .47-5 .47 .8 .46-4.4 .47-1.2 .47-6.8 .47 3.2 .47 2.7 .47 3.6 .47-.3 .47-1.5 .47 3.1 .46-1.3 .47 4.7 .47-6.4 .47 6.7 .47-2.2 .47 .5 .47-16 .47 12.6 .47-4.3 .46 11.5 .47-9.4 .47 4.6 .47-6.3 .47 6.9 .47 3.9 .47-9.7 .47 3.7 .47 7.1 .47-6.2 .46 4.4 .47-8.4 .47 3.2 .47-1.3 .47 6.7 .47-11.6 .47 9.8 .47-4.4 .47 2.8 .46-1.5 .47 6.7 .47-6.6 .47-1.6 .47 8.6 .47-11.7 .47 10.4 .47-2.2 .47 .5 .46-9.1 .47 8.6 .47-.4 .47-3.8 .47 1 .47-5 .47 8 .47 1 .47 1 .46 .1 .47-7.5 .47 1.1 .47 4.3 .47-.9 .47 10.5 .47-15.3 .47 2 .47 13 .46-7.8 .47-2.3 .47-7.6 .47 6 .47-4.9 .47-1.6 .47 4.3 .47 8.5 .47 1.9 .46-5.1 .47-5.3 .47 1.8 .47 8.7 .47-10.1 .47 8.2 .47-2.5 .47-6.9 .47 4.4 .46 3.4 .47 1.2 .47-4.1 .47-1 .47 2.2 .47 3.2 .47-6.1 .47-1.8 .47 9.8 .47-8.7 .46 6.2 .47-1.7 .47-5.9 .47 10.9 .47-5.5 .47-8.9 .47 1.2 .47 10.1 .47 2.6 .46-11.5 .47 5 .47-.1 .47 9 .47-8 .47 8.1 .47-6.2 .47-10.3 .47 3 .46-1.6 .47 7.6 .47-1.6 .47 3.8 .47-11.7 .47 12.5 .47 4.4 .47-4.6 .47-7.4 .46 7.8 .47-3.4 .47 8 .47-3.7 .47 3.3 .47-.9 .47-4.1 .47-4 .47-6.5 .46 6.6 .47 8.1 .47 .2 .47 2.1 .47-6.8 .47 4.2 .47-3.5 .47 4.4 .47-13 .46 9.1 .47-5 .47 5 .47-12.4 .47 17.9 .47-9.5 .47-4.1 .47 6.8 .47-4.8 .46 4.8 .47-5.7 .47 5.6 .47-8.6 .47 16.1 .47-11.3 .47 6.1 .47-.3 .47-4.8 .47 5.9 .46 .2 .47-6 .47 8.3 .47-4.2 .47-6.1 .47 9 .47-9.8 .47 11.1 .47-6.3 .46 .8 .47 7.2 .47-10.4 .47 10.6 .47-13.5 .47-.6 .47 10.5 .47-3.4 .47 1.3 .46 6.1 .47-2.9 .47-3.7 .47-.2 .47-6 .47 8.3 .47 .4 .47-5.9 .47-.5 .46 4.9 .47-2.2 .47 3.9 .47-2 .47 9.4 .47-1.7 .47-12.6 .47 7.3 .47 2.2 .46-7.7 .47-7.5 .47 5 .47 2.9 .47 1.9 .47-8.7 .47 .4 .47 7.1 .47 2.8 .46-2.2 .47-2 .47 3.3 .47 1.7 .47 .5 .47 4.1 .47-5.6 .47-2.6 .47 7.7 .46-2.1 .47-8.7 .47 8.6 .47-5.7 .47 7.2 .47 4 .47-10.9 .47-1.2 .47 1.9 .47 1.4 .46-7.2 .47 8.4 .47 2.4 .47-5 .47-3.7 .47 3.4 .47-3.3 .47-2.4 .47 11 .46-3.1 .47 .7 .47-4 .47 10.4 .47-12.2 .47 11.2 .47-8.4 .47 3.4 .47 .6 .46-4.7 .47 8.4 .47-8.6 .47 4.4 .47 4.9 .47-11.1 .47 10.4 .47-8.6 .47 4.8 .46-.2 .47-8.2 .47 5.1 .47 2.5 .47-5.2 .47 6.3 .47-9.6 .47 10.3 .47-5.3 .46 5.1 .47-5.9 .47 7.4 .47-3.7 .47-3.7 .47 9.4 .47-5.1 .47-2.8 .47 4.2 .46-.6 .47-4.9 .47-.8 .47 11.4 .47-3.1 .47 8.1 .47-12 .47-3 .47 7 .46 1.6 .47-7.7 .47 4.5 .47-12.1 .47 2.7 .47 15.7 .47-11.9 .47 .1 .47-.3 .47 3.5 .46 6.7 .47-7.3 .47 3 .47-10.9 .47 5.7 .47-3.3 .47 10.9 .47-4.9 .47 1.1 .46 3.1 .47-2 .47 5.2 .47-7.8 .47 4.8 .47-4.8 .47-1.1 .47 3 .47 2.2 .46-7.2 .47 .1 .47 6 .47-7.2 .47 17.2 .47-13 .47-1.6 .47 2.4 .47 7.6 .46-7.8 .47-4.5 .47 3 .47 7.5 .47-6.5 .47-8 .47 2.2 .47-1.2 .47 7.3 .46-4 .47 3.6 .47 .3 .47 4.5 .47-5.2 .47-4.8 .47 4.2 .47 9.2 .47-11.5 .46 7.9 .47-7.8 .47 6.2 .47-11.3 .47 8.2 .47-6.1 .47 11.6 .47-6.1 .47-1.7 .47 7.2 .46-4.3 .47-.5 .47-3.4 .47-.4 .47 7.9 .47-14.5 .47 1.9 .47 5.2 .47-8.9 .46 4.9 .47 .4 .47 2.6 .47 5.3 .47-17.2 .47-6.5 .47 .7 .47-2.1 .47-9.7 .46 17.6 .47-14.7 .47-9.6 .47 11.1 .47-13.7 .47 12.8 .47 1.3 .47 8.4 .47-14.5 .46-.3 .47 3 .47 3.9 .47-1 .47 7.3 .47 10.7 .47-9.2 .47 .6 .47-9.8 .46 18.8 .47-1.4 .47 11.3 .47 1.4 .47-2.1 .47-12.1 .47 7.6 .47 1.1 .47 3.6 .46-3.1 .47-2.6 .47 1.8 .47 3.6 .47-.9 .47-.8 .47-1.2 .47 1.7 .47 3.3 .46 5.4 .47-7 .47 .6 .47 .7 .47 1.6 .47 3.5 .47-10.2 .47 8.2 .47-2.7 .47 2 .46 3.8 .47-9.1 .47 10.5 .47-7.1 .47 2 .47-2 .47 4.8 .47-9.4 .47-1.3 .46 2.8 .47 5.6 .47 4 .47-15.7 .47 18.7 .47-3.5 .47-7.2 .47-.8 .47 7.9 .46-7.6 .47 8.7 .47-9.9 .47 1.5 .47 1.9 .47-5.1 .47 3.5 .47 12.4 .47-14.6 .46 2.4 .47-3.2 .47 5.6 .47-4.7 .47 5.2 .47-3.7 .47-2.1 .47 6.7 .47 .4 .46-3.2 .47-3.5 .47 2 .47 1 .47-2.4 .47 1.4 .47 6.5 .47-11 .47 .3 .46 1 .47 12.8 .47-13.6 .47 10.8 .47-5 .47 .9 .47-8.5 .47 3.1 .47 4.6 .46-2.3 .47 5 .47 2.2 .47-8 .47-.5 .47 3.3 .47-7 .47-1.1 .47 10.3 .47-3.3 .46-1.1 .47 11.1 .47-14.2 .47 .8 .47 2.7 .47 1.9 .47 1.6 .47-8.1 .47 9.2 .46-4.7 .47 2.3 .47-6.4 .47-.8 .47 6.1 .47 .6 .47 5.7 .47-.7 .47-6.5 .46-.3 .47 1.9 .47 5.7 .47-1.1 .47 9 .47-12.4 .47 11 .47-2.6 .47-4.2 .46-9 .47 10.1 .47-8.3 .47-6 .47 5.6 .47 .7 .47 8.2 .47-4 .47 6.2 .46-10.6 .47 .4 .47-4.1 .47 6.3 .47-1.3 .47 5.5 .47-5.9 .47-3.8 .47 3.3 .46-1.5 .47 3.3 .47-1.8 .47 1.6 .47 4.5 .47-3.7 .47-3.8 .47 1.8 .47 2.2 .46 3.4 .47-6.4 .47 4.8 .47-1.5 .47-3.9 .47-2 .47 7.5 .47-.7 .47-5.3 .47 4.7 .46-9.2 .47 3.4 .47 4.1 .47 5.4 .47-8.8 .47 2.9 .47 7.8 .47-2.8 .47-3.3 .46-3.9 .47 12.3 .47-8.5 .47-1.2 .47-9.6 .47 9 .47 .3 .47 1.1 .47-1.7 .46-1.2 .47 3.8 .47-3.3 .47-6.4 .47 9.8 .47-4.1 .47-5.9 .47 12.3 .47-3.4 .46 2.8 .47-6.9 .47-1.2 .47 3 .47 2.2 .47 .2 .47-1.2 .47-4.3 .47 3.3 .46-5.2 .47-2.3 .47 10.5 .47-9.1 .47 1.6 .47 6.3 .47 10.5 .47-6.2 .47-7.9 .46 12 .47-14.7 .47 10.1 .47-5.1 .47 4.2 .47-1.1 .47-2.9 .47 6.6 .47-4.4 .46 1.4 .47-6 .47 8.1 .47-14.2 .47 1.5 .47 13.7 .47 .2 .47-3.5 .47-4 .47-1.2 .46-.3 .47-.9 .47 4.2 .47 5.1 .47-1.1 .47-2.5 .47 1.8 .47-14.7 .47 13 .46-7.7 .47 2.2 .47 7.3 .47 2.3 .47-4.7 .47-2.9 .47 3 .47-6.7 .47 8 .46 0 .47-4.2 .47-8 .47 5.4 .47-4.8 .47 10.5 .47-7.2 .47 2.9 .47-9.3 .46 13.1 .47-2.9 .47 4.9 .47 1.4 .47-8.9 .47 1 .47 6.9 .47-9 .47 4.9 .46-.7 .47-8.7 .47 5 .47-1.6 .47-2.1 .47 5.6 .47 2.9 .47-8.3 .47-1.1 .46 14.8 .47-2.9 .47-.3 .47 .1 .47-9.9 .47 7.4 .47-.3 .47-2.2 .47-1.8 .46 2.9 .47-1.8 .47 8.2 .47-6.9 .47 4.2 .47-3.6 .47-6.1 .47 4.2 .47 2.2 .47-6.4 .46-2.3 .47 5.6 .47 6.1 .47-10.2 .47 6.6 .47 4.5 .47-6.5 .47 5.6 .47-.2 .46 2.8 .47-.6 .47-7.6 .47 14.8 .47-14.3 .47-1.2 .47 .7 .47 3.5 .47 5.4 .46-5.4 .47-3.2 .47-3.2 .47 5.8 .47 9.5 .47-5.5 .47 1.7 .47-8.1 .47 1.3 .46 1.2 .47 1.7 .47 7.4 .47-7.1 .47-6.1 .47 9.6 .47-.6 .47 2.3 .47-4.3 .46-3.6 .47 10.1 .47-10.3 .47 6.4 .47-15.1 .47 12 .47-3.4 .47 9.9 .47-12.7 .46 4 .47 2.3 .47-8.8 .47 7.3 .47 1.3 .47-8.6 .47 8.9 .47-5.2 .47 5.9 .47 2.1 .46-12.4 .47 5.5 .47-3.1 .47 .4 .47 3.9 .47-1.9 .47 4.5 .47 .1 .47-4.1 .46 11.5 .47-9.4 .47 4.4 .47-4.6 .47 5.1 .47-11.2 .47 2.9 .47 6.3 .47-6.4 .46 12.4 .47-2.4 .47-9.6 .47-5.2 .47 8.1 .47-3.9 .47 2.6 .47-6.8 .47 10.2 .46 5 .47-3.8 .47-4.1 .47-2.3 .47 5.7 .47-8.4 .47 12.5 .47-8.2 .47 5.8 .46-2.8 .47 .7 .47-7.9 .47-2.4 .47 17.9 .47-8.7 .47-3.3 .47 5.7 .47-3.5 .46-.3 .47-4.2 .47 7.4 .47-7.5 .47 4.6 .47-1.3 .47 3.3 .47-2.6 .47-1 .46-11.6 .47 7.2 .47 2.7 .47 1.2 .47 4.2 .47-9 .47 10.8 .47-2.2 .47-7.7 .47 6.8 .46 1.7 .47-17.6 .47 17.7 .47-3.3 .47 4.6 .47-7.3 .47-4.4 .47-7.7 .47 6 .46 3.3 .47 2.5 .47-6.1 .47 5.7 .47-3.7 .47 9.5 .47-10.2 .47 9 .47-5.7 .46 6.6 .47-3.7 .47-15.2 .47 4.9 .47 5 .47-13.6 .47 15.4 .47-13.4 .47 3.7 .46-14.1 .47-5.7 .47 2.8 .47-4.2 .47-3.2 .47-16.5 .47-.3 .47-17.7 .47 6.4 .46-3.5 .47 5 .47-2.4 .47-14.7 .47 7.5 .47-8.7 .47 6 .47 12.8 .47 3.3 .46-5.5 .47 6.7 .47 5.8 .47 16.9 .47-1.8 .47 10.8 .47-14.3 .47 19.6 .47 1.6 .46 4.7 .47 5.8 .47-5.3 .47 7.9 .47-1.9 .47-.7 .47 3.7 .47 3 .47-4.4 .47 3.9 .46 6.7 .47 5.7 .47-4.5 .47-6.1 .47-5.3 .47 9.7 .47-3.6 .47 6.1 .47-8.8 .46-4.5 .47 12.9 .47-4.3 .47-9.7 .47 12.3 .47 1.9 .47-4 .47-1.5 .47 2.8 .46-.8 .47-5.5 .47 9.8 .47-9.8 .47 8.4 .47-7.3 .47-1.4 .47 5.5 .47 2.8 .46 3.1 .47 1.4 .47-9.9 .47 11.5 .47-7.9 .47 1.9 .47-6.6 .47 7.3 .47-8.7 .46 6.8 .47-10.3 .47 11.4 .47 .2 .47 2.9 .47-10.3 .47 7.7 .47-6.7 .47 6.6 .46 4.6 .47-13 .47 .9 .47 7.5 .47-6.2 .47 13.3 .47-12.5 .47 5.1 .47-2.7 .46 2.4 .47-1.9 .47 1.8 .47 1.3 .47-1.7 .47-1.5 .47-3.1 .47 3 .47 4 .47-2.1 .46 .8 .47-10.4 .47 14.6 .47-6.7 .47 6.2 .47-7.8 .47 5.2 .47-2.8 .47 2.9 .46-6.7 .47-1.8 .47 2.9 .47-1.1 .47 2.1 .47 16 .47-9.2 .47-6.3 .47 3.4 .46 4.9 .47 2.6 .47-6.1 .47-10.9 .47 11.8 .47-9.7 .47 9.1 .47-7.4 .47 1.6 .46 6.5 .47-.8 .47-.3 .47-5.9 .47 10 .47-6.9 .47 2.7 .47-11 .47 13.8 .46-7.5 .47 .7 .47-5.8 .47 2 .47 11.9 .47-15.3 .47 9.9 .47-4.1 .47 13.4 .46-18.1 .47 6.5 .47-.1 .47 2.5 .47-7.7 .47 19.2 .47-12.6 .47 3.6 .47-3.7 .46-7.5 .47 11.4 .47-3.6 .47 5 .47-9.5 .47 4 .47-5.9 .47-3.2 .47 19.2 .47-1.6 .46-5.8 .47-3.7 .47 4.3 .47-6.8 .47 3.2 .47 6.2 .47-6.4 .47 4.5 .47 1.4 .46-5 .47 .4 .47-4.7 .47 10.3 .47 .8 .47-10.9 .47 4.3 .47-.6 .47 .4 .46 6.3 .47-1.6 .47-7.4 .47 .9 .47 1.6 .47-4.9 .47-3.3 .47 7.7 .47-3.9 .46-1.7 .47 5.2 .47 .4 .47 4.5 .47-10.5 .47 3.1 .47 1.4 .47 3.7 .47-8.1 .46 12.5 .47-10.9 .47-2.1 .47 5.8 .47 4.5 .47 0 .47-8.8 .47 4.6 .47-4.3 .46 6.9 .47 2.3 .47-19 .47 17.7 .47-8.2 .47-1.7 .47 5.2 .47-1.4 .47-.6 .46-6.6 .47 8.4 .47-2.8 .47-5.6 .47 12.7 .47 1 .47-6.4 .47 1.4 .47-5.6 .47 .5 .46 4 .47-3.5 .47 4.4 .47-13.3 .47 6.5 .47 6 .47-12.7 .47 11.2 .47-3.3 .46 8.1 .47 1.3 .47-13.5 .47 10.1 .47 2.6 .47-.9 .47-7.6 .47 6.3 .47 2.2 .46 7.9 .47-8.4 .47-4.8 .47 3.5 .47 .6" fill="none" stroke="#000" stroke-width="7.0" stroke-linejoin="round" stroke-linecap="round"/>
<path shape-rendering="crispEdges" clip-path="url(#ct)" d="M433.3 1107.4l.47 13.4 .47-10.3 .47 22.5 .47-27.9 .46 26.5 .47-17.4 .47 1.7 .47 8.2 .47-41.8 .47 40 .47-11.9 .47-6.8 .47 26.7 .46-28.8 .47 17 .47-12.6 .47 22.3 .47 1.6 .47-25 .47 8.4 .47 4.4 .47-5.3 .46 1.7 .47 19.4 .47 12.3 .47-5.6 .47 1.5 .47 5.2 .47-17.4 .47-.9 .47-5.2 .47-2.5 .46 7.1 .47-1.1 .47-3.3 .47 12.4 .47-2.9 .47-8 .47 8.3 .47-.8 .47-4.9 .46-15.8 .47 11.8 .47 7.7 .47 3.1 .47-4.9 .47-26 .47 60.5 .47-40.8 .47 3.8 .46-6.8 .47 22.8 .47-35.9 .47 12.7 .47 12 .47-2 .47 10.1 .47-8.2 .47 2.5 .46-11.7 .47 6.8 .47 5.2 .47-8 .47 1.7 .47 4 .47 19.6 .47-27.8 .47 24.5 .46-1.4 .47-9.6 .47-6.5 .47-9.5 .47 34.3 .47-34.3 .47-1.5 .47 23.4 .47-2.6 .46 4.4 .47 .7 .47 8.4 .47 4.1 .47-15.9 .47-4.7 .47-16.8 .47 31.2 .47 12.2 .46-24 .47 7 .47-8.6 .47 8.5 .47 9.7 .47-5.9 .47-15.8 .47 6.1 .47 13.8 .47-19.6 .46 25.4 .47-9.5 .47-7.6 .47 17.2 .47-1.5 .47-12.7 .47 1.4 .47 2.2 .47 3.7 .46 6.1 .47-3.1 .47-40.6 .47 39.7 .47-22.5 .47 22.7 .47-20.5 .47 1.8 .47 8.7 .46 12 .47 8.3 .47-24.7 .47 24.4 .47 .2 .47-29.4 .47 1 .47 15.6 .47 3.4 .46 4.8 .47-10.4 .47 9.2 .47 11.3 .47-7.6 .47-10.3 .47 19.8 .47-6.1 .47-11.2 .46-16.1 .47 16.3 .47 2 .47-19.6 .47 31.9 .47-3.1 .47-16.1 .47-2 .47 6.9 .46 32.6 .47-34.6 .47 1.1 .47 7 .47-6 .47-7.3 .47 14.6 .47 10.7 .47 9.8 .46-19.3 .47 8.6 .47-1.1 .47 6.3 .47-14 .47-4.3 .47 3.6 .47 16.5 .47-20.1 .47 6.4 .46 29.2 .47-31.1 .47 27.5 .47-8.7 .47-21.9 .47 4.6 .47 13.8 .47 3 .47-12 .46 22.3 .47-21.9 .47 7.7 .47-9.9 .47 9.2 .47 10.3 .47-12.5 .47 6.1 .47 11.3 .46-2.1 .47-1 .47-10.1 .47-6.6 .47 8.5 .47 12.3 .47-7.7 .47-9 .47-4.5 .46 20.6 .47-11.7 .47 7.2 .47 18 .47-8 .47-6.7 .47 0 .47-.7 .47 2.5 .46-9.1 .47 13.5 .47 6.7 .47-20.1 .47 11.5 .47-13.4 .47 16.4 .47-20.5 .47 25.3 .46 0 .47-18 .47-10.1 .47 25.4 .47-22.6 .47 .9 .47 7.5 .47 10.1 .47 19.4 .46-5.7 .47-6.9 .47-12.3 .47 7 .47 4.8 .47-6.8 .47 17 .47-19.3 .47 13.1 .47-21 .46 11 .47 9 .47-1.9 .47 10.5 .47-16.7 .47 11.5 .47-8.3 .47-11.8 .47 7.9 .46-1.1 .47-20.4 .47 18.8 .47-3.8 .47 13.3 .47 9.1 .47-13.3 .47 13.4 .47 17.7 .46-34 .47 2.6 .47 13.5 .47-22.2 .47 13.2 .47 3.9 .47 4.8 .47-19.9 .47 15.3 .46 .8 .47-.1 .47 3.1 .47 8.7 .47-8.8 .47 1.5 .47-14.7 .47 19.1 .47-18.7 .46 11.5 .47 2.9 .47-5.8 .47-1.9 .47-.4 .47-4.4 .47 3.6 .47 16.8 .47-8 .46-21.6 .47 16.5 .47 21.1 .47-23.5 .47-14.2 .47 5.1 .47 10.6 .47-1.4 .47-3.9 .46 7.7 .47 3.2 .47-19.7 .47 19.2 .47-13.1 .47 24.3 .47-7.2 .47 3.5 .47-14.5 .47 9.9 .46 .3 .47 2.7 .47-9.9 .47-7.6 .47 14.8 .47-11.1 .47 5.9 .47 5.8 .47-8.9 .46-9.1 .47 36.7 .47-30.5 .47-9.8 .47 18.1 .47-8.6 .47-1.9 .47 4.4 .47 2.6 .46-9.6 .47 1.8 .47 8.7 .47-4.3 .47 14.7 .47-6.8 .47-2.6 .47 1.7 .47 5.9 .46-17.8 .47 8.6 .47-3.5 .47 18.9 .47-7.1 .47 1.7 .47-4.6 .47-17.1 .47-7.7 .46 21.6 .47-1.5 .47 5.3 .47 3.3 .47-13.1 .47 12.1 .47 5.9 .47-15.3 .47 7.4 .46-4.4 .47 .2 .47-6 .47 3.3 .47-2.7 .47 9.5 .47 0 .47-4.4 .47 1.4 .46-2.2 .47 1.2 .47-16.3 .47 21.7 .47-6.1 .47 3.2 .47-10.9 .47 19.4 .47 4.4 .47-22.2 .46 4.2 .47 5.3 .47 8.7 .47-18.4 .47 7.8 .47 9.5 .47-.9 .47 1.6 .47-18.6 .46 14.5 .47 7.9 .47-3.9 .47-15.5 .47 4.7 .47 12.2 .47 4.3 .47-5.2 .47-7.8 .46 6.4 .47 1.5 .47-5.2 .47 5.5 .47 4.9 .47 2.9 .47-4.2 .47-1.9 .47-8.8 .46 1.7 .47 8.4 .47-17.4 .47 21.1 .47-19.7 .47 19.4 .47-7.4 .47-10.5 .47-.2 .46 15.7 .47-8.3 .47 10.9 .47-8.2 .47-5.6 .47 9 .47-18.4 .47 9.1 .47-1.6 .46 11.4 .47-3.8 .47-3.8 .47-5 .47 1.5 .47 10.2 .47 4 .47 3.2 .47-29.9 .47 9.2 .46-2.7 .47 14.5 .47-19.5 .47 13.8 .47 2.6 .47 7 .47 8.1 .47-18.8 .47 5.6 .46 .9 .47 12.2 .47 6 .47-7.9 .47-17.9 .47-9 .47 23.1 .47-2.8 .47 11.3 .46-4.9 .47-11.8 .47 9.9 .47-7.7 .47-10 .47 12.8 .47 8.9 .47-25.2 .47 9.6 .46 3.7 .47-.9 .47 4.9 .47-8 .47 18.8 .47-12.1 .47 10.5 .47-9.9 .47-6.2 .46 7.4 .47-17.1 .47 16.1 .47 6 .47-8.9 .47 .8 .47-.7 .47 2.6 .47 1.5 .46-9.1 .47 22.9 .47-21 .47 11.9 .47-4.1 .47 7.1 .47-19 .47 29.6 .47-7.2 .46-7 .47-9.7 .47 17.8 .47-16.2 .47-4.8 .47 17.6 .47 14.8 .47-29.2 .47 8.3 .47-.6 .46-10.2 .47 2.9 .47 11.8 .47-6.2 .47 9.2 .47-11.6 .47 4.7 .47-5.1 .47 10.3 .46-7.5 .47-.9 .47-2 .47 4.3 .47 18.7 .47-22.2 .47 15 .47-19.4 .47 9.3 .46-.1 .47 5.8 .47-21.1 .47 22.3 .47-18.9 .47-2.2 .47-13.3 .47 15.7 .47 12.9 .46 7.4 .47-1.7 .47 6.6 .47-25 .47 9 .47 12.7 .47-16.3 .47 5.8 .47-8.2 .46 5.9 .47 12.8 .47-11 .47-6.5 .47 7 .47 .1 .47 11.8 .47-5.2 .47-6.1 .46-6.5 .47 12.1 .47-1.8 .47-22 .47 27.3 .47-6.4 .47 6.4 .47-8.4 .47-7.1 .46-.1 .47 3.6 .47-7.5 .47 11.2 .47-5.8 .47 14.5 .47-17.8 .47 14.4 .47-16.7 .47 20.4 .46-11.9 .47 .1 .47 0 .47 3.9 .47-15.1 .47 10.1 .47 13.6 .47-5.6 .47-15.5 .46 18.7 .47-24 .47 19.3 .47 12.8 .47-24 .47 15.7 .47 24.7 .47-32.9 .47 11.5 .46-13 .47-4.5 .47-1.1 .47 9 .47 12 .47-25.6 .47 10.5 .47 .3 .47 14 .46-7.5 .47-7.6 .47 3 .47-3.3 .47 10.1 .47 6.2 .47-18.1 .47 4.1 .47-11.1 .46-2.5 .47 13.2 .47 1.7 .47-14.8 .47 3.2 .47 15.8 .47-24.5 .47 14 .47 3.6 .46 10.2 .47-8.6 .47-8.4 .47 1.5 .47-9.4 .47 3.7 .47 17.3 .47-7 .47 1.2 .46 3.2 .47-.2 .47 1.8 .47 0 .47-7.8 .47-4.1 .47-8 .47 18.4 .47-3 .47 23.1 .46-26.6 .47-3.4 .47 6.4 .47-5.4 .47 7.5 .47-.6 .47 5.8 .47-3.1 .47 6.7 .46-27.5 .47 3 .47 6.6 .47 1.6 .47-14.9 .47 8.5 .47 10.9 .47-7.1 .47-2.6 .46 .2 .47-.4 .47 17.8 .47-8.2 .47 10.8 .47-21.1 .47 6.3 .47 7.7 .47-31.6 .46 8 .47 16 .47-12.2 .47 12.9 .47-14.5 .47 1.2 .47 11.6 .47-10.1 .47-11.3 .46 7 .47 19.6 .47-14.8 .47-3.6 .47 4.7 .47-8.4 .47 16.3 .47 14.8 .47-35.6 .46 24.1 .47-9.4 .47 13 .47-22 .47 17.1 .47-11.1 .47 1 .47-13.7 .47-4.3 .46 10.3 .47-2.6 .47 7 .47 .2 .47 9.8 .47-13.1 .47 23.7 .47-26.8 .47 6.8 .47 1.1 .46-11 .47 27.7 .47-8.5 .47-14.2 .47 8.1 .47-8.7 .47 7.5 .47 8.4 .47-15 .46 1.9 .47-3.3 .47 0 .47-14.2 .47 27.6 .47-3.6 .47-19.3 .47 21.2 .47-9.1 .46-9.7 .47 6.5 .47-1 .47 4.9 .47 16.1 .47-24 .47-1.4 .47 3.7 .47 7.8 .46-6.2 .47-5 .47 10 .47 1.1 .47 5.2 .47-14.7 .47 15.7 .47-7.3 .47-17.5 .46 31.8 .47-12.1 .47-16.3 .47 11 .47-14.1 .47 22.3 .47-2.8 .47-19.8 .47 20.1 .46-10.1 .47 2.6 .47-15.8 .47 23.3 .47-11.6 .47-7.8 .47-4.3 .47 10.5 .47-6.6 .46 13.5 .47-25.1 .47 13.5 .47-3.4 .47-10 .47 14.3 .47 2 .47-7.1 .47-6.1 .47 26.3 .46 2.6 .47-22.7 .47 7.7 .47-2.4 .47-19.5 .47 21.2 .47-1.2 .47-13.2 .47 19.8 .46-9.7 .47 3.2 .47-3.8 .47-.9 .47 13.7 .47-7.3 .47 1.3 .47 7 .47-17.4 .46 10.2 .47 4.9 .47 4 .47-11 .47 6.4 .47-15.5 .47-5.8 .47 13.8 .47 2.1 .46-3.1 .47-11.4 .47 13.7 .47-13 .47 11.5 .47 17 .47-40 .47 7.5 .47 10.2 .46-4 .47-.6 .47-15.1 .47 19.4 .47-6.4 .47 5 .47 3.1 .47-10.9 .47-.5 .46 9.6 .47-29.3 .47 51.8 .47-43.2 .47 25.8 .47-4.1 .47-14.3 .47-3.4 .47-4.7 .47 27.6 .46-35.5 .47 30.7 .47-13.9 .47-10.2 .47 12.2 .47 1 .47-9.6 .47 8.1 .47 11.3 .46-23.1 .47-.4 .47 4.7 .47 1.7 .47-7.9 .47 1 .47-2.5 .47 7.9 .47 23.4 .46-27.1 .47 .1 .47-2.5 .47-6.5 .47 29.1 .47 15.8 .47-40.5 .47 2.8 .47 6.5 .46 12.7 .47-30.7 .47 21.3 .47-25.5 .47 17.8 .47-8.2 .47 38.1 .47-32.9 .47 13.4 .46 5.8 .47-10.3 .47-32.8 .47 35 .47 11.9 .47-30.5 .47 20.9 .47-8.6 .47-18.4 .46 5.8 .47 3.6 .47-4.8 .47 12.1 .47 12.1 .47-11.9 .47 3.2 .47-5 .47 .7 .46-6.4 .47-5.2 .47 15.8 .47-3.3 .47-6.5 .47-9.7 .47 15.9 .47 16.9 .47-31.3 .47 23.6 .46-9.8 .47 .6 .47-11.9 .47 25.1 .47-33.5 .47 17.9 .47-17.3 .47 15.3 .47-34.3 .46 28.7 .47 4.5 .47 3.7 .47 18.3 .47-44.4 .47 33 .47-18 .47-7.2 .47 .9 .46 8 .47 6.8 .47-14.4 .47 7.2 .47 15.8 .47-6.8 .47-17.7 .47-3.4 .47 36 .46-30 .47 5.6 .47-13 .47 8.8 .47 3.1 .47-13.2 .47-2.2 .47-1 .47 12.1 .46-5.8 .47-14.2 .47 20.1 .47 6.5 .47-13.3 .47 14.7 .47-20.8 .47 19 .47-5.9 .46-16.4 .47 22.1 .47-6.7 .47-8.3 .47 .2 .47 19.2 .47-26.1 .47 11.8 .47-3.7 .46-6.5 .47-1.4 .47 5.8 .47-7.2 .47 6.8 .47 16.5 .47 .1 .47-4.5 .47 1 .47-7.3 .46 21.1 .47-26.1 .47-7.2 .47-.5 .47 7.9 .47 12.3 .47-36.2 .47 31.6 .47-3.1 .46-6 .47 16.9 .47-1.9 .47-15.4 .47-11.9 .47 16.2 .47-9.5 .47-1.2 .47 2.8 .46 12.7 .47-21.7 .47 13.7 .47 8.7 .47 .9 .47-23.3 .47 9.6 .47 8.6 .47-18.9 .46 2.7 .47 8.2 .47 13.4 .47-12.1 .47-4.8 .47 14.1 .47-38.9 .47 29.1 .47 10.5 .46 5.8 .47-29.6 .47 13.3 .47-1.1 .47 7.7 .47-15.6 .47 3.8 .47 15.9 .47-7 .46 9.6 .47-19.3 .47 5.2 .47-10.5 .47 3.9 .47-2.7 .47 28.9 .47-11.7 .47 4.8 .46 3.4 .47-6.6 .47-20.7 .47 2.6 .47-7.4 .47 10.4 .47 .3 .47 9.6 .47 0 .47 .6 .46 5.3 .47 5.5 .47-15.7 .47-13.2 .47 26.2 .47 2.3 .47-24.6 .47 13 .47 17 .46-16 .47 24.2 .47-28.9 .47 7.6 .47 9.5 .47-15.6 .47 7.4 .47-20.6 .47 23 .46-12.5 .47 16 .47-14.8 .47-3.4 .47-1.1 .47-1.4 .47 24.3 .47-33.4 .47 1.9 .46 19.2 .47-3.1 .47-7.6 .47 29 .47-15.7 .47-6.8 .47-.6 .47 .5 .47 18.3 .46-22.7 .47 .5 .47 5.4 .47 11.9 .47 5.1 .47-9.3 .47-5.7 .47 16.6 .47-6.7 .46-10.3 .47 1.4 .47 14.3 .47 12.5 .47-18.2 .47 16.5 .47-2.3 .47-23.8 .47 4.7 .46 16.2 .47-9.7 .47-1.9 .47-4.7 .47-7.1 .47 7.7 .47 29.3 .47-28 .47 7.5 .47-1.4 .46-.7 .47 2.3 .47 2.4 .47-15 .47-.2 .47-3.6 .47 5.7 .47 1.5 .47 4.6 .46 17.8 .47-23.7 .47 14.8 .47-1.5 .47 15 .47-9.8 .47-37.4 .47 36.6 .47-11.8 .46-3.3 .47 7.4 .47 11.2 .47-3.6 .47-5.7 .47 9.4 .47 10 .47-2.2 .47-26.5 .46 9.2 .47 .8 .47-2 .47 7.4 .47 13.4 .47-32.8 .47 27.4 .47-6.1 .47 1.7 .46-10.9 .47 15.6 .47 13.8 .47 .8 .47-4.9 .47-18.3 .47-4.1 .47 15.7 .47 2.8 .46-10.9 .47 6.3 .47 8.6 .47 4.1 .47-11.4 .47-8.9 .47-.1 .47 3.8 .47 13.5 .46-17.2 .47 33.1 .47-22.2 .47-5.2 .47 16.6 .47 4.9 .47-29.1 .47 18.2 .47-.6 .47-17.2 .46 8.2 .47 16.1 .47-14.8 .47 .1 .47-14.7 .47-8 .47 26.1 .47-16.8 .47-33.1 .46 6.9 .47-9.8 .47-2 .47-21.1 .47 8.7 .47-7.4 .47 5.8 .47 16.2 .47 18.6 .46 12.7 .47 1.6 .47 8.4 .47-2.6 .47 10.6 .47 4.4 .47 15.2 .47-1.6 .47 4.2 .46 6.7 .47 2.9 .47-29.6 .47 18.2 .47-7.5 .47 9 .47 11.2 .47-21.3 .47 9 .46 6 .47 11 .47-10.6 .47-6.7 .47-2.7 .47 9.2 .47 4.7 .47 1.9 .47-7.3 .46 13 .47-8.2 .47 20.6 .47-33.6 .47 5.3 .47 10.5 .47 3.2 .47-12 .47 6.6 .47 2.5 .46-3.5 .47-3.5 .47 3.4 .47-24.9 .47 22.2 .47-25.6 .47-4.3 .47 9.5 .47-29.9 .46 22.2 .47-16 .47 2.4 .47-2.1 .47 7.1 .47-7.5 .47 19.3 .47 8.8 .47 6.4 .46 4.2 .47 14.9 .47-7.4 .47 8.6 .47 1.6 .47 6.5 .47 2.4 .47 1.6 .47 7.5 .46-6.4 .47-5.1 .47 13.7 .47-3.5 .47-5.1 .47 8.6 .47 1.9 .47-3.7 .47 .2 .46-10.6 .47 12.6 .47-6.1 .47 9 .47-8.9 .47-1.4 .47 .2 .47 23.1 .47-10.7 .46 9.9 .47-9.8 .47 1 .47 9.1 .47 1.4 .47-3.7 .47-5.6 .47-4.2 .47-9 .46-6 .47 22.8 .47-12.1 .47 1.5 .47-3.2 .47 8.2 .47-19.9 .47-1.1 .47 7.4 .47-8.4 .46 10.1 .47 18.3 .47-14.1 .47-.6 .47 10.4 .47-6.5 .47-12.2 .47 18.9 .47 5.4 .46 11.4 .47-7.8 .47 1.6 .47-8.4 .47 14.5 .47 3 .47 0 .47-17.2 .47 2.8 .46 14.5 .47-28.2 .47 32.9 .47-.5 .47-12 .47 9.6 .47 5 .47 2.7 .47-8.5 .46 .9 .47 .4 .47 8.4 .47-17.2 .47 15.9 .47-12.2 .47-8.2 .47 24.6 .47-6 .46-3.4 .47-2.9 .47 4.5 .47 8.3 .47-12.1 .47 5.5 .47-10.5 .47 13.5 .47 4.4 .46-1.1 .47-2.5 .47-6.7 .47-3.4 .47 15.9 .47-12.1 .47 13.6 .47-34.7 .47 22.5 .46 1.9 .47 4.3 .47-11.1 .47-4.5 .47 14 .47-3.3 .47 .5 .47-3.5 .47 10.2 .47-8.9 .46 4.6 .47-14.8 .47 22.1 .47-8.4 .47-3.6 .47-5 .47 3.4 .47 6.7 .47-3.5 .46-5.7 .47 18.7 .47-19 .47 11.9 .47-12.8 .47-6.9 .47 18.7 .47-1.9 .47-4.3 .46 2.8 .47-12 .47 .2 .47 17 .47 .4 .47-9.1 .47 3.4 .47-11.9 .47-5.3 .46 10.8 .47 6.1 .47-5.3 .47-9.4 .47-.4 .47-.3 .47-.6 .47-14.3 .47 2.9 .46-10.3 .47-15.8 .47 14 .47-30.5 .47-14.7 .47-26 .47-45.7 .47-34.3 .47-58.2 .46-114.1 .47-66 .47-71.7 .47-53.2 .47-68.4 .47-31.6 .47-7.4 .47 30.8 .47 58.1 .46 102.7 .47 53.2 .47 88.2 .47 59.7 .47 72.6 .47 38.6 .47 61.1 .47 6.6 .47 34 .47 14.6 .46 5 .47 10.7 .47 26 .47-28.2 .47 20 .47-.1 .47 3.2 .47 5.5 .47-.8 .46-.6 .47 5.2 .47 8.5 .47-3.1 .47-12.9 .47 9.4 .47 4.2 .47-11 .47 15.2 .46-16.8 .47 10.2 .47 5.6 .47 6 .47-.3 .47 .9 .47-13.9 .47-4.8 .47 7.9 .46 9.4 .47-3.9 .47 16.5 .47-5.8 .47-4.5 .47-15.6 .47 11.3 .47-4.6 .47 3.1 .46 11.1 .47-5.9 .47 5.8 .47 5.2 .47-11 .47 .4 .47-1.3 .47-.7 .47 10.5 .46 1.9 .47-5.1 .47-.1 .47-9.5 .47 7.5 .47 6.4 .47-7.9 .47 1.4 .47 7.9 .46-13.8 .47 21.2 .47-11.3 .47-6.2 .47 7.7 .47-2.6 .47 15.3 .47-13.1 .47-2.5 .47 9.2 .46-7 .47 3.3 .47-1.3 .47-2.7 .47 3.6 .47-4.2 .47 6 .47-11.9 .47 7.5 .46 11.2 .47-2.8 .47-9.5 .47-5 .47 13.4 .47-4.1 .47 6 .47-15.1 .47 8.4 .46 4.2 .47-10.1 .47 25.5 .47-19 .47 11.6 .47-10.1 .47 5.6 .47 3.7 .47-6 .46 2.1 .47-17.7 .47 17 .47-15 .47 7.2 .47 8 .47 9.1 .47-14.8 .47 2.4 .46 12.6 .47-24.2 .47 12.2 .47 2.8 .47-8.5 .47 2 .47 3.2 .47 2.3 .47-1.7 .46 15.6 .47-8.9 .47-1.1 .47-19.9 .47 14.4 .47 4.3 .47-2.3 .47 4.9 .47-7 .46 6.5 .47-4.9 .47 .4 .47 3.5 .47 1.5 .47 3 .47 3.9 .47-6.9 .47 1.2 .47-.6 .46-1.3 .47-2.2 .47 1.6 .47 1.2 .47-8.7 .47-2 .47 14.5 .47-5.9 .47-.1 .46 7.8 .47-9.3 .47 6.2 .47-12.3 .47 15.8 .47-8.4 .47 9.2 .47 1.3 .47-11.5 .46 3.7 .47-6.9 .47 2.3 .47 16.2 .47-18.8 .47 15.7 .47-5.3 .47 3.4 .47-7.7 .46 1.2 .47 1.3 .47-14.1 .47 17.9 .47-.7 .47 3.9 .47-17.4 .47 16.8 .47-5.6 .46 2.3 .47-1 .47-2.5 .47 9.7 .47-5.4 .47-7.1 .47 13.1 .47-13 .47 8.6 .46-9.8 .47 6.7 .47 3.8 .47 1.9 .47-18 .47 6.4 .47 10 .47-21.5 .47 21.5 .47 2 .46-14.1 .47 9.6 .47-9.3 .47 11.1 .47-9.4 .47 4.3 .47-.3 .47-2.6 .47 9.8 .46-1.4 .47-3.2 .47 1.5 .47-1.9 .47-3.4 .47 6.5 .47 1.3 .47-9.9 .47-12.1 .46 13.4 .47-.4 .47 7.6 .47 2.1 .47-9.2 .47-6.1 .47 10.8 .47-4.7 .47 6.6 .46 4.6 .47-2.7 .47 4.3 .47-9.1 .47 4.3 .47-13.1 .47 1.6 .47 9.5 .47-3.3 .46 3.9 .47-9.6 .47-6.2 .47 12.9 .47 6.5 .47 .6 .47-4.2 .47-2.7 .47 2 .46 1.3 .47-2.2 .47-.8 .47 2.6 .47 5.9 .47-5.1 .47 6.7 .47-7.4 .47 1.1 .46-5.9 .47 3.6 .47 6.6 .47-.9 .47-14.1 .47 14.6 .47-9.1 .47 3.1 .47 0 .47-4.1 .46 6.8 .47-5.1 .47 3.9 .47-5.3 .47 5 .47 3.8 .47-6.1 .47 .6 .47 2 .46 6.2 .47-11.9 .47 12.6 .47-7.8 .47 2 .47-8 .47 1.8 .47-3.7 .47 18.1 .46-10.6 .47 7.9 .47-11.7 .47-10.1 .47 17.3 .47-8.8 .47 19.5 .47-12.9 .47-7.2 .46 8.9 .47-1.7 .47-.2 .47-6.1 .47 6.5 .47 .7 .47 1.7 .47-6.1 .47-2.3 .46 7 .47-6 .47 2.1 .47-4.1 .47-7.4 .47 9 .47 1.5 .47 3.5 .47 2.8 .46 2.5 .47-6.2 .47 2.2 .47-7.3 .47 5.4 .47-8.4 .47 5.6 .47 5.1 .47-.7 .46 12.4 .47-23.4 .47 10.1 .47 8.4 .47-11.1 .47 7.9 .47-.4 .47-4.1 .47 4.3 .47-10.5 .46 7.4 .47 3.4 .47-8.4 .47 7.5 .47-2.7 .47-9.2 .47-6.6 .47 23.8 .47-2.1 .46-4.2 .47-9.3 .47 8.4 .47-7.4 .47 9.7 .47-7.1 .47 6.7 .47 5 .47-5.4 .46-8.2 .47 3 .47-4 .47 3.7 .47 9.2 .47-9 .47-1.7 .47-6.8 .47 1.8 .46 4.4 .47 4.3 .47-9.4 .47 15.8 .47-3.2 .47 1.6 .47-6.4 .47-7 .47 12 .46-20 .47 18.8 .47-16.5 .47 14.7 .47-7.3 .47 10.4 .47-6.3 .47 3.4 .47-11.6 .46 13.9 .47-11.1 .47-6.6 .47 11.8 .47 2 .47-6 .47 19.2 .47-15.8 .47-2.5 .46 2.6 .47 7.1 .47-8.7 .47-3.3 .47-.7 .47 7.8 .47-1.5 .47 1.2 .47 5.5 .47-3.4 .46 1.4 .47-5.4 .47-1.7 .47-14.3 .47 9.6 .47 2 .47 6.3 .47-14.2 .47 .9 .46 10.2 .47 2.6 .47-2.4 .47-.2 .47 8.6 .47-8.6 .47 1.1 .47-8.1 .47 4 .46 3 .47-8.9 .47 2.9 .47 3.5 .47 3.8 .47 1.9 .47-10.1 .47 1.6 .47 3.3 .46-3.6 .47 10.2 .47-15.8 .47 4.3 .47-6.5 .47 14.9 .47-8.1 .47 5 .47-12 .46-8.3 .47 15.2 .47-3.1 .47-7.3 .47 14.8 .47-8.2 .47 2 .47-4.4 .47 6.5 .46 .4 .47-2.8 .47-12.1 .47-1.1 .47-6.5 .47 .1 .47-3.6 .47 2.5 .47 1.4 .46-2.5 .47 6.7 .47-2.8 .47 2.8 .47-20.8 .47 32.8 .47-13.5 .47 2.7 .47 3.8 .47 2.8 .46 4.2 .47 6.8 .47-6.9 .47-.7 .47 6.6 .47-10.1 .47 13.1 .47-16.5 .47-6.9 .46 16.5 .47-2.8 .47-13.1 .47 26.5 .47-9.1 .47 3.7 .47-4.1 .47-12.5 .47 .9 .46 9.8 .47-10.8 .47 17.3 .47-6.1 .47-13 .47-5.7 .47 5.6 .47 2 .47 6.3 .46-8.7 .47 9.1 .47-10.8 .47 8.5 .47-4 .47 14.9 .47-9.2 .47-5.7 .47 13.1 .46-11.2 .47-1.9 .47 5.5 .47 2.4 .47-2 .47 11.6 .47-9.2 .47-19.1 .47 20.8 .46-7 .47 9.7 .47-25.9 .47 18.3 .47-4.1 .47-4.3 .47 5.6 .47-21.2 .47 14.1 .46 4.9 .47 12.4 .47-16 .47 7.8 .47-11.9 .47 8 .47 5 .47-13 .47 4.6 .47 2.1 .46 1.7 .47-1.5 .47 2.7 .47-10 .47 14.8 .47-10.1 .47 5.3 .47-12 .47 4.9 .46-6.7 .47 15.1 .47 6.4 .47-19.9 .47 6.7 .47 8.1 .47-13.1 .47-4.9 .47 11.2 .46-4.6 .47 8.1 .47-2.9 .47-6.7 .47 1.7 .47 .7 .47 2.7 .47-10.8 .47 2.7 .46-13.5 .47 19.8 .47 .5 .47-4.7 .47 6.1 .47 2 .47-1.4 .47-3.7 .47-1.5 .46 2.4 .47-9.2 .47-1.8 .47 1.6 .47 2.8 .47 6.6 .47-2.1 .47 7.4 .47-18.3 .46-1.3 .47-2.1 .47 18.4 .47-21.7 .47 11.7 .47-1.5 .47-7.9 .47 8.5 .47 5.8 .47-5.8 .46 6.2 .47-1.8 .47-10.1 .47 17.7 .47 1.8 .47-16.5 .47 2.8 .47 1.3 .47-4.3 .46 9.9 .47-12.3 .47 12.7 .47-.3 .47-13.3 .47 8.1 .47 .1 .47 5.6 .47-14.2 .46 .8 .47 13.7 .47-8.6 .47 .6 .47 2.6 .47 10.7 .47-19.2 .47 3.5 .47 16.3 .46-4.9 .47-19.9 .47 7.8 .47 15.9 .47-7.1 .47-2.4 .47 2.3 .47 .2 .47 1.3 .46-2.4 .47-8.4 .47 15 .47-18.6 .47 6.5 .47 4 .47-11.4 .47 3.1 .47 4.6 .46-1.7 .47 4.7 .47-3.8 .47-4.8 .47 2.1 .47 12.5 .47-2.7 .47-5 .47 5.5 .46 2.2 .47-18 .47 17.9 .47-7.1 .47 8.4 .47-9 .47-3.9 .47 8.9 .47-.7 .47-4.2 .46 3.3 .47 2.4 .47-5.8 .47 .2 .47 6.5 .47-9.2 .47 15.5 .47-2.7 .47-13 .46-3.3 .47 11.1 .47 9 .47-6.5 .47-8.2 .47-1.8 .47 1.7 .47-1.7 .47 15.1 .46-5.4 .47-.3 .47-2.1 .47-13.6 .47 6.1 .47 10.5 .47-4.5 .47 15.7 .47-23.6 .46 9.1 .47-6.8 .47-1.2 .47 14.4 .47-17.4 .47 5.8 .47-2.6 .47 3.8 .47-10.4 .46-10 .47-6.6 .47-2 .47-7 .47-22.2 .47-1.6 .47-23.5 .47-40.8 .47 7.6 .46-33.7 .47-36.9 .47-42 .47-31.9 .47-31.9 .47-33.9 .47 5.9 .47 37.6 .47 9.3 .46 38.5 .47 42.8 .47 20.1 .47 28 .47 53.5 .47 4.1 .47 37.3 .47 11.4 .47 6.6 .47 17.4 .46 3.2 .47 3.3 .47 .7 .47 8.6 .47 2.5 .47 5.9 .47-6.4 .47 .2 .47 12.3 .46-8.8 .47-6.6 .47 8 .47-2.4 .47 4.7 .47 4.6 .47 3.5 .47-.4 .47-.2 .46 8.8 .47-1.5 .47-15.6 .47 18.9 .47-1.2 .47 1.4 .47-9.5 .47 3.6 .47-4.7 .46 10.9 .47-14.7 .47 10.7 .47 3.4 .47-12.4 .47 .2 .47-.5 .47 18.4 .47-9 .46-1.8 .47 3.5 .47 10 .47-15.8 .47 1.6 .47 2.1 .47 6.9 .47-.8 .47-9.3 .46 7.9 .47-3.4 .47-.3 .47 1.6 .47-6.4 .47 6.7 .47-7.7 .47-4.7 .47 9.4 .46 9.8 .47-4.6 .47-7.5 .47-1.1 .47 12.2 .47-5.3 .47 1.1 .47 5.2 .47-7.7 .47 2 .46-9.8 .47 14.8 .47-10.4 .47 5.3 .47-3.7 .47 6.1 .47 1.1 .47-9.7 .47-1.3 .46 10.3 .47-7.6 .47 7.4 .47-2.5 .47-11.2 .47 5.7 .47 3.9 .47-1.9 .47 6.4 .46-2 .47-3.4 .47 8.9 .47-3.5 .47-11.6 .47 11.7 .47-1.1 .47-7.7 .47-2.5 .46 11.1 .47-7 .47 12.9 .47 .8 .47-6.1 .47-10.5 .47 13.5 .47-5.4 .47-1 .46 12.2 .47-5.3 .47-10 .47 1.5 .47 5 .47 13.3 .47-14.9 .47-2.8 .47 14.5 .46-11.8 .47 5.7 .47 5.6 .47-15 .47-3.2 .47 13.9 .47-9.4 .47 6.7 .47-.1 .46 2.9 .47-.6 .47 .8 .47-6.9 .47 6.5 .47-8.3 .47 7.1 .47 3.1 .47-5.5 .47-8.9 .46 5.8 .47-4.5 .47 20 .47-6.2 .47 1.6 .47-5.6 .47-.2 .47 10.3 .47-6.7 .46-4.1 .47-4.2 .47 17.6 .47-22 .47 12.5 .47-7.3 .47 12.2 .47-8.1 .47-5.5 .46-.7 .47 7.5 .47 9.2 .47-15.3 .47 7.8 .47-1.7 .47-7.7 .47 17.8 .47-24.3 .46 22.4 .47-13.8 .47-4.7 .47 10.8 .47-11.3 .47 17.8 .47-11.4 .47 3.3 .47 5.8 .46-7.1 .47 10.1 .47 2 .47-17.4 .47 3.3 .47 11.8 .47 3.5 .47-6.1 .47 1.1 .46-11.7 .47 10.2 .47-6.9 .47 7.6 .47 7.1 .47-21 .47 10.5 .47 8.5 .47-7.1 .46-6.7 .47 12.6 .47 1.8 .47-1.3 .47-12.4 .47-7.6 .47 19.4 .47-2.5 .47-1.3 .47-1.7 .46-8.5 .47 5.8 .47 4.2 .47-6.6 .47 4.7 .47 9.3 .47-6.4 .47-14.5 .47 10.9 .46 4 .47-4.5 .47 6.9 .47-2.4 .47 2.3 .47-1.6 .47-6.9 .47 5.3 .47-.2 .46-1.2 .47 3.2 .47-3.3 .47-2.5 .47 5.4 .47 6.7 .47-10.4 .47 13.6 .47-14.5 .46 3 .47 7.6 .47-2 .47-1.7 .47 11 .47-18.4 .47-2.4 .47 9.1 .47-2.3 .46 3.5 .47-4.5 .47-4.8 .47 2.1 .47 10.9 .47-3.2 .47-5.8 .47 8.5 .47 .9 .46-2.6 .47-4.4 .47-.8 .47 15.1 .47-9.4 .47-8.1 .47 9.7 .47-4 .47-.9 .47-.1 .46 1 .47 6.8 .47-13.2 .47 3.4 .47 3.6 .47-5.3 .47 7 .47 3.1 .47-.1 .46-6.2 .47-5.7 .47 2.7 .47 7.2 .47 7.6 .47-5 .47 1.3 .47-10.2 .47-4 .46 24.4 .47-10.7 .47-5.4 .47-9.1 .47 8.7 .47 .2 .47-6.8 .47 10.4 .47 .3 .46 3.8 .47-7 .47 13.1 .47-9.9 .47 2 .47-2.1 .47-1.9 .47-4.1 .47 2.1 .46 5.2 .47-5.7 .47 6.3 .47 1.8 .47-3.1 .47 5.5 .47-12.2 .47 3.1 .47 2 .46-6.3 .47-2.8 .47 14.3 .47-2.9 .47-4.6 .47 8.2 .47-7.1 .47 6.2 .47-3.7 .46-4.6 .47 .9 .47 10.3 .47-7.8 .47-9.9 .47 11.4 .47 1.1 .47-3 .47-.7 .47 10.1 .46-12.9 .47 3.9 .47 .5 .47 6.5 .47-3.1 .47 5.3 .47-13 .47 5.2 .47 14.2 .46-6.6 .47-3.4 .47-2.1 .47 5.9 .47-7.8 .47 .6 .47-.9 .47 3.4 .47-9.2 .46 14.4 .47 8.9 .47-12.1 .47-15.2 .47 .4 .47 16.6 .47 3 .47-13.3 .47 16.5 .46-15.9 .47 8.5 .47-1.6 .47 1.4 .47-1.9 .47-2.2 .47 1.6 .47 .8 .47-1.8 .46 .9 .47-15.4 .47 6 .47 12.6 .47-5.8 .47-7.1 .47 15.4 .47-7.6 .47 4.5 .46-.2 .47-8.8 .47 3 .47 10.9 .47-11.5 .47 11.6 .47-9.3 .47-4.9 .47 8.4 .46-11 .47 11.2 .47 3.7 .47-4.3 .47-.3 .47-7.6 .47 9.2 .47-9.5 .47 6.6 .47 2.8 .46-1.9 .47-1.5 .47 1.8 .47 5.7 .47-6.3 .47-5.7 .47 6.3 .47-6.4 .47 11.3 .46-6.8 .47 1 .47-1.6 .47 6.1 .47-6.5 .47 1.9 .47-.3 .47 3.4 .47 5.8 .46-4.9 .47 10.6 .47-19 .47 5.4 .47-3.4 .47 8.9 .47-9.4 .47 3 .47-2.4 .46 7.2 .47-9.9 .47 2.1 .47-7 .47 4.1 .47 10.2 .47-2.4 .47-9.4 .47 8.5 .46 5.3 .47-6.5 .47-.3 .47-1.3 .47-1.4 .47 8.3 .47-2.1 .47-2 .47-6.4 .46 2.6 .47 5.2 .47-7.2 .47 12.8 .47-5.5 .47 1.5 .47-8.6 .47 12.7 .47-18.7 .46 20.2 .47-14.8 .47 8.2 .47 .6 .47-4.2 .47 3.3 .47-6.1 .47-2.5 .47 2.1 .47 9.8 .46-6.5 .47-.5 .47 2.7 .47-5.7 .47 4.5 .47-3 .47-2.3 .47-.6 .47 10.3 .46-.3 .47-10.2 .47 15.5 .47-.1 .47 1.6 .47-14.9 .47 4 .47 8.8 .47-9.6 .46 8.8 .47-7.9 .47 2.5 .47 .5 .47-5.2 .47 2.8 .47 5.6 .47 7 .47-5.9 .46-1.4 .47 .3 .47 1.1 .47-5.1 .47-.8 .47 7.4 .47-7 .47 13.4 .47-3.4 .46-8.6 .47 2.8 .47-.3 .47-1.2 .47 1.2 .47-2.3 .47-1 .47-4.2 .47 8.1 .46 1.7 .47-5.5 .47-8.7 .47 6.7 .47 7.2 .47-15.2 .47 14.6 .47-3.1 .47-8.4 .46 8.1 .47-3.4 .47 1 .47 3.7 .47-5.2 .47 .8 .47 2.5 .47 10.5 .47-14.6 .47 3 .46 8.6 .47-4.6 .47 .4 .47-11.7 .47 7.6 .47-2 .47-4.9 .47-5.5 .47 25.2 .46-16.9 .47-8 .47 6.7 .47 4.6 .47-11.3 .47 6.3 .47 2.8 .47-1.7 .47-5.9 .46-4.5 .47 2.6 .47 7.3 .47-10.9 .47-1.6 .47-2.2 .47-10.8 .47-4 .47-2.3 .46-12.3 .47 .7 .47-17.8 .47 6.9 .47-6 .47 4.7 .47-10.7 .47 1.9 .47-8.5 .46 5.8 .47 .1 .47 6.2 .47 16.8 .47 8 .47 4.3 .47-5.1 .47 25.3 .47-12 .46 22.6 .47-9.3 .47 12 .47-10 .47 4.3 .47-4.9 .47 3.6 .47 7.3 .47-6.1 .46 17.7 .47-4.5 .47 2.9 .47-16.2 .47 13.8 .47 3.4 .47 4.1 .47-8.7 .47-4.7 .47-3.8 .46 18.2 .47-2.5 .47-12.9 .47 10.5 .47-8.4 .47 2.3 .47 4.2 .47 .5 .47-.5 .46-6.5 .47 1.3 .47 17.6 .47-18.6 .47 1.9 .47-3.2 .47 2.2 .47 3.4 .47 1.1 .46 4.2 .47-7 .47 7.8 .47-6.8 .47-.2 .47 2.6 .47-.8 .47 9.4 .47-5.6 .46 1.2 .47-2.9 .47 1.8 .47 3.2 .47-.2 .47-3.7 .47 4 .47-6.9 .47-.6 .46-7.1 .47 4.6 .47 .9 .47 8.7 .47-3.7 .47 5.7 .47-9.1 .47 2.5 .47-2.8 .46-1.4 .47 7.3 .47-3.2 .47 7.7 .47-3.5 .47-8.2 .47 6.5 .47-5.8 .47 .9 .47 11.7 .46-9.1 .47 4.7 .47-3 .47 2.6 .47-2.4 .47-1.4 .47-4.7 .47 3.2 .47 4.3 .46-3.4 .47 8 .47-1.5 .47-7.7 .47-1.3 .47 10.1 .47-8.8 .47 5.2 .47 1.5 .46-1.2 .47-1.6 .47-1.7 .47-3.9 .47 6.9 .47-4.4 .47 5.9 .47-3.9 .47 .1 .46 3.2 .47-2.6 .47-2.7 .47-5.8 .47 8.8 .47 5.2 .47-.2 .47-3.2 .47-5.3 .46 8.9 .47-17.2 .47 14.2 .47-6.5 .47 15.5 .47-16.4 .47 7.3 .47 1.8 .47-3 .46-6.1 .47 6.1 .47-6.7 .47 3.4 .47-.6 .47 3.1 .47-6.4 .47 1.6 .47 1.9 .46 2.8 .47-3.3 .47 .3 .47 5.4 .47-7.3 .47 14 .47-8.2 .47-3.1 .47 .7 .47 3.2 .46 .2 .47 .1 .47-7 .47 2.4 .47 8.9 .47-9.6 .47 1.3 .47 10 .47-8 .46 1.2 .47-3.6 .47-4.8 .47 6 .47-6.3 .47 11.3 .47-.1 .47-3.8 .47 2.1 .46 3.1 .47-9.6 .47-5.3 .47 16 .47-5.4 .47-2.6 .47 2.6 .47 6.9 .47-9.2 .46 6.4 .47-1.3 .47-1.3 .47-6.5 .47 12 .47-1.3 .47 2.3 .47-7.6 .47-6.3 .46 1.3 .47 8.7 .47-1.4 .47-1.8 .47 .2 .47-1.3 .47-3.9 .47 12 .47-2.7 .46 3.1 .47-9.7 .47 3.1 .47 2.5 .47-5.5 .47 6.4 .47-3.7 .47 3 .47-11 .46 6 .47-2.9 .47 7.1 .47 1.8 .47-.6 .47-4.9 .47 7.3 .47-2.5 .47-5.6 .47-4.8 .46 7.7 .47 1.6 .47 1.8 .47 2.5 .47-5.1 .47 1.1 .47 .2 .47 4.3 .47-7.6 .46 .1 .47 4.1 .47-3.2 .47 6.7 .47-11.8 .47 5.5 .47 3.8 .47 2.5 .47-7.5 .46 6.4 .47-7.6 .47 6.1 .47 3 .47-1.9 .47-13.4 .47 5.8 .47 7.9 .47-6.3 .46 9.2 .47-7 .47 4.8 .47 4.4 .47-6 .47 5.5 .47-7.3 .47 3.1 .47-2.8 .46-.1 .47-8.9 .47 8.8 .47-8.4 .47 9.6 .47 .4 .47-1.6 .47-5.1 .47 3.9 .46-2.7 .47 1.7 .47 7.1 .47-7.7 .47 8.7 .47-8.4 .47 5.4 .47-8.5 .47 9.7 .46-4.2 .47-2.2 .47 5 .47-11.7 .47 10.7 .47 2.3 .47-4.4 .47 1.8 .47-6.6 .47 11.8 .46-6.4 .47 2.8 .47 .4 .47-5.1 .47 5.9 .47 3.2 .47-11.3 .47 0 .47 9.6 .46-2.9 .47-7.5 .47 16 .47-15.7 .47 4.6 .47-3.3 .47 3.8 .47-1.7 .47-6.5 .46 5.7 .47 3 .47 8.9 .47-9.5 .47-.3 .47-1 .47 5.6 .47-4 .47-.1 .46 2.6 .47-2.1 .47 1.9 .47-2.6 .47 3.7 .47 1.7 .47-3.6 .47-3.9 .47-2.9 .46 8.6 .47-8.3 .47-1.1 .47 17.5 .47-8 .47-7.9 .47 8.9 .47-9.7 .47 3.9 .46 6.7 .47-6.1 .47-2.9 .47 4.2 .47-1.3 .47-4.1 .47 6.9 .47-5.2 .47 13.5 .46-1.4 .47-15 .47 8.1 .47 3.7 .47-9.2 .47 1.8 .47 3.4 .47-3.4 .47 2 .47 9.4 .46-10 .47 .4 .47 .7 .47 2.4 .47-2.1 .47-1.3 .47-.4 .47 13.3 .47-11.6 .46 4.2 .47-10.1 .47 9 .47-2.2 .47-2.3 .47 2.2 .47 1.1 .47 3.9 .47-8.2 .46 5.3 .47-3.1 .47-6.6 .47 2.9 .47-1.3 .47 7 .47 .8 .47-5.4 .47 7.3 .46-5.8 .47 2.6 .47 1 .47-1.9 .47 2.6 .47-3.6 .47 4.8 .47-.7 .47 .6 .46-6.6 .47 9 .47-5.3 .47-2.7 .47 3.4 .47-3.4 .47-.1 .47 5.6 .47-8.5 .46 4.8 .47-6.2 .47 1 .47 1 .47 3.3 .47 5 .47-11.6 .47 7.2 .47 9.6 .46-17.1 .47 2.5 .47 6 .47 3.6 .47-.1 .47 .6 .47-2.3 .47-1 .47-.6 .47 .5 .46-1.8 .47 3.9 .47-1.1 .47-5.9 .47 2 .47 3.8 .47-.2 .47 2.4 .47-10.6 .46 3.7 .47 3.7 .47 2.4 .47-6.6 .47 1.3 .47 .4 .47-2.7 .47 4.2 .47 1.2 .46 3.3 .47-2.8 .47 5.8 .47-10.4 .47 4.5 .47-5.9 .47 12.2 .47-7.5 .47-12.3 .46 12.6 .47-1.6 .47-2.8 .47-4.6 .47 15.7 .47-3.5 .47-2.3 .47 .4 .47-.9 .46-6.9 .47 10.3 .47-1.4 .47-3.5 .47 2.2 .47 .7 .47 2.4 .47-5.6 .47-4.2 .46 7.1 .47-1.9 .47 2.3 .47 .9 .47-2.8 .47-5.4 .47 6.3 .47 1.4 .47-12.3 .47 8.5 .46-3 .47 7.4 .47-5.7 .47-8.3 .47 4.9 .47 7.7 .47-1.4 .47-8.3 .47 10.1 .46-7 .47-4 .47-.3 .47-5 .47-14.6 .47 17.3 .47-.8 .47 2.6 .47-7.3 .46-8.4 .47 6.5 .47-.3 .47 1.1 .47-1.9 .47-3 .47 2 .47-.8 .47-3.4 .46 2.7 .47 7.7 .47 .8 .47-8.1 .47 2.2 .47 4 .47-7 .47-.7 .47 7.1 .46-6.2 .47 13.8 .47 2 .47-.8 .47-1.5 .47 7.2 .47-7.8 .47 2.4 .47 1.4 .46-2 .47 4.4 .47-2.9 .47-1.6 .47-2.4 .47 11.6 .47-7.3 .47 1.3 .47 4.9 .46 .3 .47-5.8 .47-.1 .47 1.2 .47 1.3 .47 .1 .47 3.1 .47 2.1 .47-3.2 .47-8.5 .46 26 .47-8.9 .47-5.2 .47-6.4 .47 3 .47 7.1 .47-8.9 .47 3.6 .47-4 .46 13.2 .47-13.6 .47 2.5 .47 7.5 .47-1.3 .47-5.3 .47-.5 .47 .9 .47 8.5 .46-10 .47-.6 .47 2.3 .47 0 .47 0 .47 .6 .47 1.2 .47 .3 .47 .8 .46 .5 .47-9.1 .47 2.5 .47 2.8 .47 5.5 .47-12.3 .47 6.9 .47-5.7 .47 10.2 .46-2.8 .47-8 .47 13.9 .47-6.5 .47-3.2 .47-3.4 .47 6.9 .47-7.2 .47 6.6 .46-7.5 .47 5 .47 9.4 .47-12.5 .47 2 .47 1.1 .47-8.1 .47 11.2 .47 .1 .46 1.3 .47 .9 .47 .5 .47-10.1 .47 7 .47-.2 .47 4 .47-6 .47 1.5 .47-5.7 .46-1 .47 3 .47 12.1 .47-8.7 .47-1.6 .47-4.5 .47 2.5 .47 8.4 .47 2.5 .46-3.8 .47 1.6 .47-8.2 .47 10.3 .47-14.4 .47 11.1 .47-5.2 .47-3.6 .47 3.2 .46 .9 .47 2.8 .47-5.8 .47 9.8 .47-6.5 .47 7.9 .47-7.4 .47-.5 .47 1.3 .46-4 .47 8.5 .47-7.7 .47 6.8 .47 2.9 .47-5.5 .47-9.9 .47 12.6 .47-.9 .46 .8 .47-10.1 .47 7 .47-3.3 .47 6 .47 .6 .47-2.5 .47-.3 .47-3.7 .46 5.5 .47-1.9 .47 6.1 .47-.3 .47-1.8 .47-3.4 .47 .3 .47 0 .47 0 .46 .9 .47-4.9 .47-1.5 .47 5.3 .47-1.8 .47-.2 .47 9.4 .47-6 .47-.4 .47-4.9 .46 5.2 .47 4.4 .47-13.3 .47 7.3 .47 4.7 .47-2.9 .47-1.4 .47 5.3 .47-9.8 .46 4.8 .47 2.5 .47-4.4 .47 1.3 .47-4.1 .47-.3 .47 2.5 .47 1.2 .47 8.1 .46-8.6 .47 4.8 .47-1.2 .47 1 .47-8 .47 5 .47-3.5 .47 0 .47-.2 .46-1.9 .47 2.3 .47 5.8 .47 4 .47-6.4 .47 6.4 .47-8.4 .47 2.8 .47 6.8 .46-14 .47 6.2 .47-11.4 .47 9.7 .47 3.9 .47-2.4 .47-1 .47 .1 .47-.1 .46-.5 .47 9.5 .47-2.9 .47-3.7 .47-4.7 .47 7.6 .47-3.5 .47-3.1 .47 4.9 .46-7.9 .47 6.9 .47 1.4 .47-4.3 .47 2.5 .47-.8 .47 1.4 .47 4.3 .47-13.6 .47 5.5 .46 2.4 .47-5.5 .47 5.9 .47 3.4 .47-11.4 .47 7 .47-1.4 .47-2.4 .47 3.5 .46 8.5 .47-19.6 .47 3.9 .47 7.5 .47-6.2 .47 2.5 .47 3.9 .47 1.1 .47 1.5 .46 .9 .47-4.2 .47 5.5 .47-6.1 .47 8.7 .47-13.9 .47 4.7 .47 4.5 .47-6.3 .46-5.4 .47 7.7 .47-1.4 .47 4.6 .47-10.8 .47 3.4 .47 12.2 .47-6.1 .47-3 .46-2.4 .47 11.1 .47-5.9 .47 6.1 .47-7 .47-1.5 .47 7.4 .47-6.2 .47-.7 .46 .9 .47-3.9 .47 3.8 .47-5.4 .47 3.4 .47 3.8 .47-8.5 .47-1.2 .47 12.6 .46-1.5 .47-5.2 .47 3 .47-.5 .47-2.3 .47 .2 .47-4.7 .47 3.2 .47 1.1 .47 .9 .46-2.3 .47 1.2 .47 4.9 .47-.7 .47-1.6 .47-1.4 .47-2.5 .47 2.1 .47 4.1 .46 3.2 .47-6.3 .47 3.9 .47-2 .47-6.1 .47 1.7 .47 .2 .47 .2 .47-2.2 .46 5.4 .47 .5 .47 2.8 .47-6.6 .47-1.5 .47-1.6 .47 .3 .47 4.7 .47-4.6 .46 9.1 .47-8.9 .47 7.1 .47-5.7 .47 3.1 .47-1.5 .47-1.5 .47 8.2 .47-7.6 .46 1.8 .47 2.8 .47-4.9 .47 1.3 .47-1.7 .47-1.6 .47 5.8 .47-3.1 .47-4 .46 2.6 .47-.3 .47-4.5 .47 14.8 .47-15.5 .47-3.2 .47 11.8 .47-9 .47 4.6 .47 5.5 .46-2 .47-6.9 .47 5.8 .47 2.2 .47-.4 .47-11.1 .47 14.9 .47-12.7 .47 12.9 .46-13.4 .47 .3 .47 10 .47-5.4 .47 0 .47 .8 .47-6.7 .47 10.9 .47 7 .46-7 .47 .3 .47-8.5 .47 7.9 .47-1.2 .47-7.5 .47 9.6 .47 5.3 .47-7.2 .46 .6 .47-6.2 .47 2.9 .47-1.2 .47 6 .47-2.4 .47-1.7 .47-3.5 .47-2.1 .46 4 .47-5.7 .47 13.9 .47-4.1 .47-12.3 .47 9.4 .47-10.1 .47 10.8 .47 .8 .46-1 .47-3.1 .47 6.7 .47-9.5 .47 5.5 .47 .2 .47-2.6 .47 1.1 .47-7.1 .46 6.4 .47-5.5 .47 10.4 .47-10.4 .47 5.2 .47-1.1 .47 0 .47 2.3 .47-4.9 .47 5.5 .46 1.8 .47-5.9 .47 .9 .47 1.6 .47-2 .47-2.3 .47-.2 .47 6.1 .47 .6 .46 1.8 .47-1.3 .47-4 .47-.2 .47 .7 .47-4.9 .47-.7 .47-.7 .47 1.7 .46 3.6 .47-6.6 .47-1.9 .47 7.4 .47-9.9 .47 6.7 .47 .2 .47-2.5 .47-1.1 .46-7.7 .47 2.4 .47-8.6 .47 5.3 .47-8 .47 4.1 .47-1.7 .47-13.5 .47-1.2 .46-5.7 .47 19.9 .47-8.9 .47-9.7 .47-14.6 .47 7.9 .47 6.2 .47-1.6 .47-2.1 .46-.2 .47 7.7 .47 3 .47 10.9 .47-6.2 .47-7.2 .47 18.4 .47-4.7 .47 12.5 .46-11.6 .47 6.3 .47 6.1 .47-11.1 .47 16.9 .47 2.5 .47-4.3 .47-2.1 .47-4.4 .47 6.9 .46 3.6 .47 .8 .47-9.1 .47 10.7 .47-6.1 .47 6.9 .47-6.9 .47 2.7 .47 7.9 .46-4.3 .47 1.1 .47-2.6 .47-4.9 .47 8.2 .47-5.9 .47 8.5 .47-11.4 .47 9 .46-4.8 .47 2 .47 1.8 .47 6.3 .47-7.3 .47-2.7 .47-4.4 .47 2.9 .47-3.3 .46 11.1 .47-2.1 .47 3.1 .47-6.2 .47-1 .47-2 .47-.9 .47 1.2 .47 9.7 .46-13.3 .47 15.4 .47-8.1 .47-1.2 .47 3.2 .47-3.4 .47-8 .47 12.2 .47-7.6 .46-1.8 .47 2.5 .47-.4 .47 1.8 .47-1 .47 5 .47 1.7 .47-10.1 .47 4.8 .46-.9 .47 2.2 .47-.4 .47-1.5 .47 4.4 .47-7 .47 5.8 .47-3.1 .47 4.7 .47-4 .46 5.5 .47-6.3 .47-2.8 .47 5.6 .47 2.8 .47-6.4 .47 .7 .47-.6 .47-1 .46-.5 .47-2 .47 10.4 .47-11.4 .47 13.6 .47-2.8 .47-.9 .47-.9 .47-2.8 .46-2 .47-.9 .47 5.6 .47 4.1 .47-8.9 .47 .6 .47-3.5 .47 8.6 .47-10.1 .46 7.9 .47-.2 .47 3.1 .47 5 .47-5.9 .47-.8 .47-9.1 .47 7.7 .47-4.7 .46 1.7 .47 3.3 .47 .8 .47 2.8 .47-4.8 .47 5.9 .47-9.6 .47 6.7 .47-2.1 .46 9.1 .47-7 .47-10.9 .47 7.3 .47-.2 .47-.5 .47-3.4 .47 9.9 .47-7.3 .46-4.1 .47 6.6 .47-8.5 .47 8.1 .47-6 .47 6.1 .47 .4 .47-3.3 .47 7 .47-7.3 .46 5.2 .47-11.1 .47 12.4 .47-.4 .47-14.4 .47 4.5 .47 4.7 .47-7 .47 10.3 .46-7.9 .47 3.5 .47-5.2 .47 5.7 .47 .1 .47 11.9 .47-4.5 .47 0 .47 2.6 .46-1 .47-11.8 .47 12.8 .47-3.8 .47-3.6 .47-3.4 .47-1.1 .47-.5 .47 9 .46-6.6 .47 2.5 .47-4.3 .47 6.4 .47-5.7 .47 7.5 .47 .9 .47-8.9 .47 2.2 .46-3.8 .47 6.8 .47-13.1 .47 13.6 .47 4.5 .47-8.6 .47-5.2 .47 5.9 .47-4.6 .46 5.7 .47 6.7 .47-2.5 .47-5.2 .47-7.3 .47 9.3 .47-3.8 .47 6.5 .47-4.2 .46-5.2 .47 2.4 .47-9.4 .47 10 .47-2.8 .47-3.7 .47 6.6 .47-1.9 .47-6.5 .47 9.7 .46-4.1 .47 7 .47-.8 .47 2.5 .47 1.4 .47-1.2 .47-1.8 .47-8.2 .47 11.8 .46-3.5 .47-2.2 .47-4.6 .47-1.3 .47 .4 .47-1 .47-1.8 .47 7.3 .47-3.7 .46 2.9 .47-6.9 .47 16.9 .47-10.5 .47-3.8" fill="none" stroke="#f00" stroke-width="7.0" stroke-linejoin="round" stroke-linecap="round"/>
<text transform="translate(404.0 1424.3) scale(1 1.03)" font-size="68.5" text-anchor="end">0</text>
<text transform="translate(404.0 1238.2) scale(1 1.03)" font-size="68.5" text-anchor="end">500</text>
<text transform="translate(404.0 1052.1) scale(1 1.03)" font-size="68.5" text-anchor="end">1000</text>
<text transform="translate(404.0 866.0) scale(1 1.03)" font-size="68.5" text-anchor="end">1500</text>
<text transform="translate(404.0 679.8) scale(1 1.03)" font-size="68.5" text-anchor="end">2000</text>
<text transform="translate(404.0 493.7) scale(1 1.03)" font-size="68.5" text-anchor="end">2500</text>
<text transform="translate(404.0 307.6) scale(1 1.03)" font-size="68.5" text-anchor="end">3000</text>
<text transform="translate(404.0 121.5) scale(1 1.03)" font-size="68.5" text-anchor="end">3500</text>
<text transform="translate(550.5 1487.6) scale(1 1.03)" font-size="68.5" text-anchor="middle">10</text>
<text transform="translate(785.0 1487.6) scale(1 1.03)" font-size="68.5" text-anchor="middle">20</text>
<text transform="translate(1019.4 1487.6) scale(1 1.03)" font-size="68.5" text-anchor="middle">30</text>
<text transform="translate(1253.9 1487.6) scale(1 1.03)" font-size="68.5" text-anchor="middle">40</text>
<text transform="translate(1488.3 1487.6) scale(1 1.03)" font-size="68.5" text-anchor="middle">50</text>
<text transform="translate(1722.8 1487.6) scale(1 1.03)" font-size="68.5" text-anchor="middle">60</text>
<text transform="translate(1957.2 1487.6) scale(1 1.03)" font-size="68.5" text-anchor="middle">70</text>
<text transform="translate(2191.7 1487.6) scale(1 1.03)" font-size="68.5" text-anchor="middle">80</text>
<text x="572.5" y="240.5" font-size="87.5" text-anchor="start">(a)</text>
<path d="M1609.5 221H1844" stroke="#000" stroke-width="7.5" stroke-linecap="round"/>
<path d="M1609.5 334.8H1844" stroke="#f00" stroke-width="7.5" stroke-linecap="round"/>
<text transform="translate(1871.3 253.4) scale(1 1.03)" font-size="90.5" text-anchor="start">OK400</text>
<text transform="translate(1871.3 367.8) scale(1 1.03)" font-size="90.5" text-anchor="start">OK850</text>
<text transform="translate(187.4 1150.0) rotate(-90)" font-size="105.6">Intensity, a.u.</text>
<text transform="translate(1171.0 1640.0) scale(1 1.03)" font-size="116.0" text-anchor="start">2θ,</text>
<text x="1364.3" y="1577.3" font-size="67.0" text-anchor="start">o</text>
<rect x="373.3" y="2146.5" width="1881.7" height="1385.2" fill="none" stroke="#000" stroke-width="6.6"/>
<path d="M498.7 3531.7V3503.7M749.6 3531.7V3503.7M1000.5 3531.7V3503.7M1251.4 3531.7V3503.7M1502.3 3531.7V3503.7M1753.2 3531.7V3503.7M2004.1 3531.7V3503.7M624.2 3531.7V3517.7M875.1 3531.7V3517.7M1126.0 3531.7V3517.7M1376.9 3531.7V3517.7M1627.8 3531.7V3517.7M1878.7 3531.7V3517.7M2129.6 3531.7V3517.7M373.3 3254.7H401.3M373.3 2977.6H401.3M373.3 2700.6H401.3M373.3 2423.5H401.3M373.3 3393.2H387.3M373.3 3116.1H387.3M373.3 2839.1H387.3M373.3 2562.1H387.3M373.3 2285.0H387.3" fill="none" stroke="#000" stroke-width="6.5" stroke-linecap="round"/>
<path shape-rendering="crispEdges" clip-path="url(#cb)" d="M373.3 2303.1l.25 2.7 .25-49.1 .25 98.1 .25-85.2 .25 104.9 .26-64 .25 1.3 .25-57.9 .25 48.8 .25 25.7 .25-84.5 .25-9.9 .25 98.2 .25-58.7 .25 48.8 .25-25.8 .26-3.9 .25 65.5 .25-56.8 .25 48.1 .25-2.9 .25-22.4 .25 65.2 .25-21.3 .25-72.5 .25-17.3 .25-8.6 .26 56.3 .25-49.2 .25-36.7 .25 16.8 .25 109.2 .25 15.8 .25-91.1 .25-35.5 .25 54.2 .25-41.2 .25 30.4 .25 1.2 .26-2.8 .25 3.6 .25 27.7 .25-96 .25 39.6 .25 63.1 .25-11.2 .25 32.4 .25-64.2 .25 81.3 .25-46 .26-45.5 .25 8.4 .25-.2 .25 74.7 .25-82 .25 38.5 .25-61.4 .25 68.3 .25-82.4 .25 53.9 .25-13.6 .26 48.7 .25 1 .25-.4 .25-58.2 .25 61.8 .25-13.6 .25-53.8 .25 28.1 .25 33.1 .25-22.4 .25 71.9 .26 4.9 .25-81.5 .25-97.4 .25 31.9 .25-20.9 .25 82.8 .25 46.8 .25-66.7 .25 95.9 .25 70.7 .25-137.7 .26-25.1 .25 14.4 .25-34.9 .25 33.6 .25 18.3 .25 59.5 .25-38.3 .25 44.9 .25-33.5 .25-94.8 .25 71.8 .25-6.4 .26 45.6 .25-137.6 .25 193.1 .25-43.7 .25-77.7 .25 71.8 .25 2.5 .25-53.8 .25-9.3 .25 3.5 .25 65.1 .26-66.5 .25 82.8 .25-11.4 .25 4.1 .25-54.5 .25 29.2 .25 25.8 .25-40.2 .25 44.8 .25-20.7 .25-7.2 .26 11.5 .25 19.1 .25 11 .25-96.7 .25 132.5 .25-97.4 .25 46.8 .25-3.2 .25 45.6 .25-71.8 .25 22.8 .26-66 .25 68.4 .25 22.7 .25 5.6 .25-88.3 .25 17.1 .25 39 .25-81.9 .25 58.6 .25 24.2 .25-32.4 .26 67.8 .25-48.4 .25 51.8 .25-69.2 .25-1.2 .25 31.7 .25-47.6 .25 74.3 .25-49.9 .25 28.4 .25 43.4 .25-74.3 .26-40.2 .25-55.9 .25 124 .25-14.6 .25-49 .25 113.9 .25-103.6 .25 130.9 .25-19.4 .25-36.8 .25 7.7 .26-53.7 .25 84 .25-37.1 .25 10.3 .25-19.6 .25-17.1 .25-11.7 .25 26.1 .25-1.3 .25 14.7 .25 66.4 .26 11.9 .25-87.2 .25 71.8 .25-23 .25-39.5 .25 24.2 .25 19.2 .25 5.4 .25-36.7 .25-56.4 .25 128.4 .26-57.2 .25-47.3 .25 29.1 .25 35.7 .25-24.1 .25-14 .25-23.2 .25 105.7 .25-28.4 .25-44.5 .25-5.2 .26 8.6 .25-5.6 .25-17.8 .25 18 .25-83.2 .25 130.3 .25-11.6 .25 44.5 .25-80.6 .25 15.1 .25 16.8 .25 40.2 .26-122.7 .25 62.3 .25-15.3 .25 87 .25-65.7 .25-5.8 .25-47.6 .25 45.8 .25-18.3 .25 104.7 .25-52.5 .26-11 .25 8.1 .25 8.2 .25 1.8 .25-63.1 .25 68.8 .25-45.2 .25 2.5 .25 42 .25-18.9 .25 99.9 .26-69.1 .25-66.4 .25 68.5 .25 56.7 .25-118.6 .25 89.8 .25-103.5 .25 55 .25 50.2 .25-23.4 .25-87.8 .26 54.6 .25 11 .25-9 .25 13.5 .25 19 .25-49.2 .25-32.7 .25 54.6 .25-58.3 .25 19.1 .25 103.4 .26-86.5 .25-24.5 .25 131.8 .25-56.4 .25-39.5 .25 53.2 .25-34.1 .25 13.7 .25 25.4 .25-30.3 .25 12.1 .25-13.6 .26 .1 .25 26 .25 5.3 .25-6.8 .25-42.6 .25 59.1 .25-91.8 .25 87.9 .25-108.4 .25 83.5 .25 8.9 .26 3.3 .25-39.1 .25 12.1 .25 42.2 .25-42.2 .25-11.6 .25 11.1 .25-42.8 .25 147.8 .25-88 .25 16.2 .26-42.3 .25-57 .25 129.1 .25-20.9 .25-23.2 .25-45.8 .25-3.7 .25 68.7 .25-60.9 .25 35.7 .25-41.8 .26 36.8 .25-17.9 .25 21 .25 35.1 .25 2.7 .25-54.7 .25 47 .25 11.4 .25-29.5 .25-26 .25-6.4 .26 52.5 .25-20.4 .25-27.1 .25 47.1 .25-61.6 .25 31.7 .25 45.3 .25-62.4 .25 36.1 .25-71.3 .25 67.4 .25-64.3 .26-28.7 .25 65.7 .25 3 .25 34.6 .25-18.1 .25-25.9 .25-45.4 .25 30.3 .25 79.1 .25-79.6 .25 76.9 .26-96.1 .25 24.3 .25 27.7 .25 66.9 .25-70 .25 50.7 .25 3.8 .25-23.1 .25 58.4 .25-63.8 .25-10.4 .26-18.6 .25 57.6 .25-3.6 .25-69.1 .25 4.8 .25 112.3 .25-84.5 .25-16.1 .25 65.6 .25-63.2 .25 47.9 .26 5.9 .25 32.8 .25-96.7 .25 90 .25 87.8 .25-67.7 .25-24.7 .25 23.7 .25-104.5 .25 93.5 .25-17.2 .26-19.2 .25-21.3 .25 78.5 .25 15.8 .25-30.2 .25-57.1 .25 33 .25-33 .25 52.2 .25-65.3 .25 26.6 .25 9.1 .26-16.9 .25 7.3 .25 4 .25 65.9 .25-67.2 .25 16.9 .25-21.5 .25 8.1 .25 25 .25-31.9 .25-39.9 .26 37.3 .25 19.3 .25-3.1 .25-32.9 .25 64.2 .25-24.9 .25 14.9 .25 41.6 .25-82.1 .25-5.4 .25 46.2 .26-5.2 .25-27.9 .25-42.4 .25 69 .25-74.6 .25 21.6 .25 120.4 .25-64 .25-22.1 .25 28.4 .25-47.7 .26 26.2 .25-5.8 .25 28.6 .25 57.5 .25-77.7 .25 53.3 .25-68.7 .25 22.1 .25-97.4 .25 92.9 .25 80.5 .26-149 .25 64.7 .25-24.4 .25-8.3 .25 86.7 .25 3.2 .25-66.3 .25 69.4 .25 28.7 .25-41.5 .25-16.9 .26-31 .25 42 .25 8.5 .25-40.1 .25 10.9 .25-23.4 .25 74.6 .25-120.8 .25 117.8 .25-81.7 .25 5.9 .25 62.5 .26-25 .25 16.6 .25-42.7 .25-10.7 .25 35 .25-7.9 .25 33.5 .25-51.4 .25 2.5 .25 32.5 .25 28 .26-73.2 .25 71.6 .25-14.2 .25 9.1 .25-37.9 .25 12.3 .25 46 .25-29 .25 4.2 .25-54.8 .25-52.8 .26 24.6 .25-1.2 .25 5.6 .25 74.4 .25-3.7 .25 29.8 .25-80.1 .25 28.7 .25 42.3 .25-51.8 .25 20.2 .26-35.7 .25 43 .25 14.3 .25-21.7 .25 3.7 .25-34.9 .25 43.5 .25 5.1 .25-20.3 .25 49.9 .25-25.3 .26-44.5 .25 60.1 .25-70.9 .25 60.4 .25-12.4 .25-27 .25 14.9 .25 50 .25 13.2 .25-65.5 .25 43.6 .25-23.3 .26-33.1 .25 30.3 .25 12.6 .25 20.8 .25-44.7 .25-79.9 .25 118.7 .25 18.7 .25-37.8 .25-57.8 .25 54.3 .26-5.7 .25-1.5 .25-8.3 .25 40.2 .25 11.8 .25-44.1 .25-68.3 .25 128.1 .25-50.7 .25 .7 .25 6.3 .26-20.6 .25 29.4 .25-53.4 .25 58.9 .25 22.5 .25-44 .25-28.2 .25-82.3 .25 111 .25-67.3 .25 116.6 .26-88.8 .25-18.5 .25 54.3 .25-35.5 .25 44.1 .25 7.3 .25-11.2 .25-31.2 .25 92.1 .25-117.6 .25 59.5 .26 12.8 .25-62.3 .25 34 .25-85.3 .25 134 .25-32.7 .25 9.8 .25-65.4 .25 76.7 .25 24.9 .25 39.7 .25-34.3 .26-56.3 .25 30.7 .25-72.5 .25 100.6 .25-50.9 .25 48 .25-44.5 .25 21.7 .25-9 .25 51.5 .25-101.3 .26 58.7 .25-6.5 .25 3.2 .25-1.8 .25-63.4 .25 6.2 .25 32.3 .25 45.3 .25-43 .25 22.1 .25 67.5 .26-59 .25-29.1 .25 32.3 .25-13.2 .25-46.9 .25-3.3 .25 105.3 .25-81.5 .25 8.9 .25-8.9 .25 33.5 .26-26.9 .25 85 .25-63.2 .25-38.6 .25 72.6 .25-27.1 .25 8.6 .25-33.4 .25-33.5 .25 57.3 .25-87.8 .26 91.6 .25-50.5 .25 11.1 .25 62.1 .25-8.4 .25-35.1 .25 41.7 .25 12.8 .25-41.3 .25 44.6 .25-48.9 .25 12.2 .26-35.9 .25-18.4 .25 100.5 .25-48.9 .25-40.1 .25-66.9 .25 92.9 .25-5.4 .25 29.4 .25-107.7 .25 100.2 .26-32.5 .25-12.2 .25 79 .25 3.5 .25-3.2 .25-45.8 .25-26.9 .25 55.6 .25-94.6 .25 92.8 .25-36 .26 18.5 .25 32.1 .25-24.2 .25-9.4 .25 46.4 .25-46.2 .25 32.9 .25-70.3 .25 75.1 .25 1.1 .25-6.9 .26-47.1 .25-33.6 .25 90.9 .25-66.3 .25-3.7 .25 40 .25-37.6 .25 4 .25 39.1 .25 55 .25-76.5 .26 18.5 .25-19.6 .25-14 .25-53.2 .25 84.1 .25-47.6 .25 27 .25 27.2 .25 15.6 .25 15.8 .25 23 .25-87.6 .26-3.6 .25 47 .25-56.3 .25 25 .25 6.3 .25 28 .25-3.9 .25-51.3 .25 9.3 .25 24.4 .25-39.3 .26 15.2 .25 62.7 .25-97.1 .25 53.6 .25-75.5 .25 100.8 .25 46.8 .25-97.9 .25-40.1 .25 71.4 .25-15.8 .26-69.2 .25 40.3 .25 9.4 .25 44.2 .25 6.6 .25 22.7 .25-8.1 .25-33.4 .25-21.5 .25-48.5 .25 11.9 .26 45.2 .25 2.8 .25-8.8 .25 20.6 .25-59.5 .25 79 .25-12.2 .25 40.5 .25-1.9 .25-63.1 .25-20.1 .26 3.8 .25-1.2 .25 67.5 .25-98.6 .25 46.4 .25 31.5 .25-12.1 .25 30.6 .25-3.7 .25-34.7 .25 23 .25-19.5 .26-.1 .25 63.2 .25-101.1 .25-26.4 .25 96.7 .25-40.4 .25-18 .25 34.2 .25-6.3 .25 31.4 .25-6.8 .26-26.2 .25-34.7 .25 39.8 .25-29.5 .25 24.4 .25 15.6 .25-33 .25 11.1 .25-22.6 .25-11.4 .25 35.6 .26 .1 .25-17.9 .25 51.2 .25-6.9 .25-38.8 .25 71.3 .25 19.1 .25-26.3 .25-52.5 .25 13.1 .25 12.3 .26-1.6 .25 33.9 .25-33 .25 22 .25-54.7 .25 33.6 .25-23.6 .25 7.4 .25 20.6 .25 10.9 .25 6.4 .26-40.5 .25-.9 .25 54.9 .25-20.4 .25-21.1 .25 8 .25-30.5 .25 27.4 .25-39.7 .25 68.9 .25-40.6 .26 28.7 .25 21.5 .25 70.4 .25-89.4 .25-11.3 .25-12.6 .25-24.9 .25 28.4 .25 22 .25 22 .25-14.6 .25-26.5 .26 68 .25-12.6 .25-40.5 .25-51.1 .25 44.8 .25-22.3 .25 36.3 .25 29.5 .25-19.2 .25-36.8 .25 37 .26-18 .25-7.6 .25-58.8 .25 19.8 .25 109.8 .25-17.8 .25-68.2 .25 27.7 .25-18.4 .25-6.2 .25-15.4 .26 115 .25-40.4 .25 42.7 .25-126.4 .25 47.4 .25 16.6 .25-14.4 .25-26.7 .25 21.5 .25 58.8 .25-69.6 .26-21.7 .25 54 .25-22.3 .25 42.9 .25-90 .25 95.3 .25-23.2 .25-17.8 .25-3.3 .25-8.3 .25 57.4 .26-57.1 .25 38.5 .25-21 .25-12.2 .25 38.1 .25 68.7 .25-143.2 .25 55 .25 21.6 .25-74.5 .25 0 .25 42 .26-45.9 .25 37.5 .25 29.9 .25-.8 .25-48.4 .25 34.8 .25 28.1 .25-35.4 .25-9.6 .25 26.1 .25-22.4 .26-30.8 .25 43.5 .25-40.4 .25 36.8 .25-20.8 .25 29.3 .25-2.1 .25 45.2 .25-53.5 .25 139.5 .25-101 .26-1.7 .25 .4 .25-63.2 .25 77.6 .25-40.1 .25-10.3 .25-15.2 .25 9.8 .25 5.4 .25-3.9 .25-43.5 .26 105.2 .25 7.4 .25-53.3 .25-2.3 .25-25.3 .25 29.4 .25-35 .25 102.5 .25-45.6 .25-38 .25 29.6 .26-34.2 .25 36.6 .25 1.8 .25-42 .25 2.9 .25 31 .25-54.8 .25 62.2 .25-24.5 .25 95.3 .25-109.7 .25-21.8 .26 28.6 .25 43.7 .25-57.1 .25 26.9 .25 33.6 .25 4.5 .25-46 .25 42.9 .25-3.2 .25-59.2 .25 10 .26-12.6 .25 55.8 .25-32.4 .25-52.5 .25 76.1 .25 11.7 .25-42.9 .25 3.6 .25 65.3 .25-61.6 .25-12.4 .26 74.8 .25 13.2 .25-34.9 .25-25.3 .25 .9 .25-16.3 .25 53.1 .25-85.3 .25-9.6 .25 44.4 .25 30.4 .26 2.8 .25-27.8 .25 8.2 .25-2.1 .25 27.9 .25-21.7 .25 21.2 .25 14.7 .25 2.3 .25 12.3 .25-75.1 .26 75.4 .25-36.5 .25-14.4 .25-13.6 .25 30.4 .25-38.4 .25 38 .25-1 .25 8.3 .25 18.4 .25-19.2 .25-10.7 .26-9.8 .25-52.7 .25 110.6 .25-36 .25 11.7 .25-51.6 .25-7.8 .25 42.7 .25 13.6 .25-55.1 .25 28 .26 57.4 .25-32.4 .25-26.6 .25 34.1 .25-117 .25 118.7 .25-25.3 .25-10.9 .25-1 .25 38 .25-14.7 .26-26 .25-11.7 .25-.5 .25 19.4 .25 10.9 .25-13.2 .25 17.1 .25 31.7 .25-7.2 .25-55.4 .25 36.4 .26-6.1 .25-34.2 .25 36.4 .25 5.9 .25-57.3 .25 56.6 .25 35.2 .25-32.4 .25-23.6 .25-50.1 .25 48.4 .26-20 .25 64.2 .25-64.8 .25 90.3 .25-97.1 .25 10.7 .25-51.1 .25 64.8 .25-13.9 .25 28 .25 17.5 .25-30.6 .26-28.3 .25 76 .25-59.8 .25-37.3 .25 101.1 .25 14.6 .25-23.9 .25 31.7 .25-100 .25 42.8 .25 22.1 .26 27 .25-84.3 .25 42.4 .25-17.1 .25-7 .25-49.7 .25 76.2 .25-58.7 .25-.4 .25 31.2 .25-45.1 .26 92.6 .25-50 .25-36.2 .25-7.5 .25 21.8 .25-3.6 .25 91.5 .25-62.4 .25-2 .25 21.4 .25 29.5 .26-25.2 .25-73.6 .25 64.7 .25 11.6 .25-82.9 .25 32.2 .25 30.6 .25-21.8 .25 73.4 .25-27 .25-72.3 .26 76.3 .25-23.6 .25-53.2 .25 25.4 .25 38.4 .25 7.7 .25-11.7 .25-37.4 .25 61.7 .25-45.4 .25-16 .25 9.4 .26 14.1 .25 56.1 .25-76.5 .25-24.2 .25 12.6 .25 35.8 .25 20.3 .25 3.1 .25-14.8 .25 25 .25 24.4 .26 13.2 .25-40.9 .25-31.5 .25-28.5 .25-36 .25 42.4 .25 1.5 .25-47.8 .25 82.5 .25-72.5 .25 14.7 .26 47.1 .25-20.7 .25 10.9 .25 7.4 .25-31.2 .25 24.6 .25-14.7 .25 11.5 .25 9 .25 28.2 .25-67 .26 19.5 .25-3.9 .25 53.1 .25-59.4 .25 2.8 .25-45.3 .25 58.7 .25 48.7 .25-59.5 .25 71.2 .25-67.3 .26-39.7 .25 45.9 .25 50.9 .25-58.3 .25 46.1 .25-8.3 .25 34 .25-42.5 .25-16.9 .25-23.6 .25 6.1 .26 25 .25-17.7 .25-15.7 .25 36.4 .25 10.4 .25-9.7 .25 35.3 .25-60.3 .25-40.6 .25 85.9 .25-33.2 .25 4.9 .26 50.2 .25-80.5 .25 40.8 .25-21.8 .25 26.6 .25-2.3 .25 7.7 .25-64.1 .25 45.2 .25 21.8 .25-25.4 .26-3.8 .25-7.2 .25 21 .25 .9 .25 43.2 .25-18.6 .25 28.8 .25-55.5 .25-25.3 .25-29.3 .25 90.6 .26-18.3 .25-70.9 .25 63.1 .25-21.9 .25 6.8 .25 44.2 .25-29.6 .25-63 .25 28.4 .25-37 .25 49.7 .26 39 .25-42.3 .25 21.4 .25-14.9 .25-33.5 .25-35.3 .25 65.7 .25 27 .25-35.8 .25 9.1 .25 12.5 .26 11.9 .25-2.6 .25 .2 .25 27.5 .25-61.8 .25 9 .25 7.6 .25 75.5 .25-61.9 .25-47 .25 19.7 .25 47.2 .26-20.6 .25-28.8 .25 32.6 .25-32.7 .25 71.7 .25-57.6 .25-17.6 .25 82 .25-79.9 .25 46.2 .25-5.7 .26 .6 .25-12.5 .25-24 .25 30.7 .25 12.3 .25-30.1 .25 1.1 .25 .6 .25 82.8 .25-112.1 .25 14.5 .26 29.1 .25-20.3 .25-51.5 .25 81.3 .25-18.5 .25-29 .25 46.7 .25-43.4 .25 55.8 .25-50.2 .25 47.1 .26 30.5 .25-39.7 .25-4.4 .25 16.4 .25-43.1 .25 24.6 .25-72.3 .25 67 .25-21.9 .25-1.2 .25 43 .26-56.2 .25-11.6 .25 31.3 .25-26.4 .25 16.5 .25 67.8 .25-82.2 .25 118 .25-94.2 .25 39.4 .25 24.8 .25-36.9 .26 20.8 .25-56.2 .25 19.5 .25 44 .25 2 .25-27.2 .25-77.5 .25 57.3 .25-34.8 .25-13.2 .25 28.3 .26 17 .25-26.2 .25-15.7 .25 2.2 .25 80 .25-21.5 .25-12.7 .25-69 .25 33.4 .25 51.8 .25-37.6 .26-20.6 .25 11.9 .25-7.3 .25 10.4 .25-4.4 .25 49.2 .25-65.6 .25 20 .25-8.8 .25-4.3 .25-10 .26-7.9 .25 119.4 .25-147.2 .25 137 .25-41.1 .25-78.8 .25 31 .25-20.7 .25-10.7 .25 61.6 .25-67.9 .26 65.8 .25 4.7 .25-8.4 .25 19.7 .25-11.1 .25 17.5 .25-29 .25 24.1 .25 3.9 .25-62.5 .25 18.8 .25 43.6 .26-116.9 .25 95.3 .25-30.5 .25-37.9 .25 68.8 .25 67.6 .25-133.1 .25-49.4 .25 68.5 .25 79.2 .25-91.1 .26 33.5 .25-11.7 .25 43 .25 26.9 .25-27.5 .25-9.6 .25-26.4 .25 63.1 .25-3.9 .25-42.6 .25-24.8 .26 2.9 .25 35.8 .25-19.6 .25-12.4 .25 19.5 .25 55.2 .25-69.1 .25 1.3 .25 7.6 .25-18.8 .25 4.3 .26 5.2 .25-41.7 .25 71.7 .25-38.5 .25 31.6 .25 17.8 .25-75.8 .25 25.5 .25-5.9 .25-21.2 .25-.5 .26 57.2 .25 57.3 .25-74.7 .25 22.2 .25-3.9 .25-80.5 .25 72 .25-2 .25-38.5 .25 27 .25 24.9 .25-94.9 .26 106.4 .25-56.7 .25 4.2 .25-37.2 .25 84.3 .25-38.5 .25 13.1 .25 40.9 .25-47.1 .25 8.3 .25-23.4 .26 25.4 .25-4.3 .25-53.4 .25-23.1 .25 35.5 .25 14.9 .25 59.9 .25-20.3 .25-56.4 .25 3.8 .25 28.4 .26-39.8 .25 70.8 .25 3.1 .25 3.2 .25-60.7 .25 24.5 .25-6.2 .25-17 .25-1.1 .25 76.2 .25-62.7 .26-35.9 .25 35.8 .25 1 .25-76.2 .25 109.3 .25-27.4 .25 9.6 .25-23.9 .25 33.5 .25-21.4 .25 11.9 .26-47.5 .25 11.3 .25-27.2 .25 31.5 .25 41.3 .25-25.3 .25 .7 .25 18.9 .25-62.3 .25 69.4 .25-19.7 .25-2.2 .26 69.3 .25-74.8 .25-62.1 .25 35.8 .25 35.2 .25 43.4 .25-39.1 .25-69.3 .25 68.7 .25 11.3 .25 22.3 .26-44.4 .25 7.8 .25-44.2 .25 40.4 .25-36.3 .25 51.3 .25-80.3 .25-2.2 .25 82.7 .25-23.3 .25-53.1 .26 36.6 .25-20.3 .25 26.8 .25 42.7 .25-37.5 .25-40.4 .25-40.2 .25 27.9 .25 37.1 .25-14 .25-.1 .26-18.9 .25 31.5 .25-44.5 .25 59.1 .25-19 .25-2.8 .25 31.1 .25-15.8 .25-5.3 .25-13.5 .25 39.1 .26-23.8 .25 21.1 .25 17.7 .25-91.3 .25 83.4 .25-55.6 .25 50.8 .25-17.6 .25 24.1 .25 .7 .25-9.9 .25-24.5 .26 63.1 .25-70.4 .25 28.9 .25 28.8 .25 2.9 .25-11.9 .25-37.6 .25-13.7 .25 27.4 .25 35.3 .25-22.9 .26-58.3 .25 57.1 .25 7.7 .25 4.2 .25-110.6 .25 59.3 .25 40.6 .25-51.8 .25 75 .25-56.9 .25 40.3 .26 61.2 .25-88.8 .25 62.6 .25-112.2 .25 30.9 .25 14.1 .25 22.4 .25-13.7 .25-3.8 .25-4.6 .25-28.6 .26 2.5 .25 21.4 .25 29.8 .25 27.1 .25-5.1 .25-112.4 .25 46.4 .25-19.2 .25 64.5 .25-31.8 .25-1.6 .26-15.2 .25 52.8 .25-37.9 .25 67.7 .25-50.8 .25-34.8 .25 30.8 .25-5.9 .25 9.8 .25-56.8 .25 29.2 .26 48.3 .25-40.8 .25-32.7 .25 24.3 .25 22.3 .25 20.3 .25-45.1 .25 20.4 .25-19.3 .25 23 .25 6.8 .25 15.7 .26-37.5 .25-73.6 .25 75.7 .25 20.2 .25-39.4 .25-17.6 .25 52.9 .25-70.7 .25-8.3 .25 77.2 .25-66.9 .26 53.6 .25 17 .25-65.2 .25-34.1 .25 55.3 .25 49.8 .25-68.2 .25 28.9 .25-6.8 .25-5.6 .25 81.9 .26-67.9 .25 13.3 .25 40.1 .25 8.1 .25 26.3 .25-38.3 .25-10.8 .25-10.1 .25-58.7 .25 67.1 .25-32.7 .26 33.1 .25-9.9 .25 8.9 .25-46.6 .25-18.3 .25 18.5 .25-18.3 .25 60.6 .25-48 .25 3.8 .25 77.6 .26-60.6 .25-45.2 .25-27.3 .25 82.7 .25 38.9 .25-79.2 .25 27.2 .25-6 .25 19.4 .25-66.4 .25 45.9 .25-54.5 .26 103.6 .25-18.1 .25-43.5 .25 5.2 .25 18.4 .25 20.9 .25-84.5 .25 36.9 .25-6.8 .25 41.2 .25 14.4 .26 34.3 .25-84.6 .25 23 .25-9.7 .25-29.9 .25 46.5 .25-2.5 .25-6 .25-38.3 .25 72.6 .25-22.4 .26-10.4 .25-45.1 .25 117.9 .25-66.7 .25 2.9 .25-21.9 .25 32.6 .25-41.2 .25 31.1 .25 18.9 .25-53 .26-13.8 .25 31.1 .25 4.3 .25 41.7 .25-9.4 .25-16 .25 33.4 .25-43.9 .25 28.7 .25-22.2 .25 19.1 .26-53 .25 .2 .25 1.8 .25 33.6 .25-32.4 .25 14.7 .25 20.9 .25-55.7 .25 17.7 .25 8.2 .25 16.6 .25 18.8 .26 2.9 .25-21.8 .25-4.3 .25-37.1 .25 31.7 .25-38.8 .25 20.3 .25 3 .25 46.3 .25-15.8 .25 23 .26-29.3 .25 31.1 .25-99.5 .25 49.8 .25-27.8 .25 2.4 .25 79.8 .25-92 .25 25.8 .25-30.1 .25 58.4 .26-35.8 .25-19.5 .25 61.7 .25 9.5 .25-95.3 .25 80.8 .25-107.4 .25 118.8 .25 19.2 .25-65.9 .25 22.6 .26 23.6 .25-39.4 .25 81.7 .25-126.2 .25 82.2 .25 27.1 .25 13.2 .25-60.8 .25-59.7 .25 74.4 .25-21.9 .26-37.3 .25 65.5 .25-56.1 .25 77.8 .25-27.5 .25 5.5 .25 35.8 .25-138.4 .25 89.9 .25-7 .25 13.6 .25-24 .26-23.9 .25-2.8 .25 8.1 .25 4.4 .25-21.6 .25 95.6 .25-54.7 .25-24.9 .25 71 .25-17.7 .25 65.7 .26-122.1 .25 50.4 .25-13.2 .25-29.9 .25 65.8 .25-60.5 .25 12.3 .25-1.4 .25-32.2 .25 34.4 .25-62.4 .26 47.6 .25-15.3 .25 11.8 .25 100.7 .25-166.5 .25 101 .25 2 .25-12.2 .25-10.2 .25-47.3 .25 58.3 .26-49.1 .25 105.3 .25-69.2 .25-7.5 .25-48.8 .25-43.1 .25 104.9 .25 40 .25-72.9 .25 41.3 .25 34.3 .26 7.7 .25-14.8 .25-47.1 .25-10.6 .25-1.5 .25 11.5 .25-1.2 .25 28.4 .25-96.7 .25 46.1 .25-.3 .25-29.4 .26 46 .25 43.8 .25-35.8 .25-1.5 .25 6.5 .25 36 .25 49.7 .25-75.5 .25-1.8 .25 25.1 .25-54.8 .26 77.4 .25-41.5 .25-75.7 .25 47.2 .25 64.4 .25-50.4 .25-6 .25 22 .25 10.4 .25-74.5 .25 55.1 .26-75 .25 53.6 .25 48.3 .25 6.2 .25-2.5 .25-17.2 .25-10.5 .25-62.4 .25 91 .25-70.6 .25 81.5 .26-28 .25-82.2 .25 68.8 .25-16.8 .25 43.7 .25-84.1 .25 35.6 .25 20.3 .25-89 .25 79.1 .25-26.6 .26 44.6 .25-85.8 .25 111.7 .25-11.9 .25-56.1 .25-21.5 .25 25.4 .25-2.9 .25 32.5 .25-32.9 .25 45.7 .25 14.7 .26 .1 .25-69.5 .25-26 .25 60.9 .25 81.9 .25-75.7 .25-89.6 .25 36.6 .25 51.8 .25-13.8 .25 6.3 .26-43.3 .25 34.5 .25-86.3 .25 97.6 .25 15.7 .25-47.2 .25 10.8 .25 .3 .25-14.3 .25 18.4 .25 35 .26 15.8 .25 16.8 .25-40.7 .25-3.2 .25 9 .25-3.4 .25-38.1 .25-40.4 .25 63.4 .25-38.4 .25 .7 .26 21 .25 67.9 .25-60.7 .25 42.5 .25 12.9 .25-50.3 .25 14.1 .25-2.1 .25 31.4 .25-29.6 .25-16.6 .26-26.2 .25 24.3 .25 37.4 .25 .8 .25-105.9 .25 61 .25 40.2 .25-69.9 .25 39 .25 10.1 .25 17.9 .25 74.8 .26-93.1 .25 23 .25-8.2 .25-53.2 .25 15.6 .25 35 .25 5.5 .25 9.2 .25-60.2 .25-44.7 .25 116.2 .26-47 .25-35.4 .25 93 .25-46.9 .25-49.8 .25-17.7 .25 27.6 .25 32 .25-30.9 .25 18.5 .25-20.5 .26 75.4 .25 2.7 .25-108.9 .25 49.7 .25-50.9 .25 69.6 .25-40.3 .25 6.4 .25 47.3 .25-87.8 .25 86.5 .26-7.5 .25-78.2 .25-14.6 .25 106.9 .25-18.1 .25 75.6 .25-34.8 .25-93.7 .25 23.2 .25 44.4 .25-28.6 .26 2.8 .25 26.8 .25-78.2 .25 48.5 .25 47.6 .25-75.1 .25 23.4 .25 43.8 .25 4 .25-20.9 .25-22.2 .26 27.6 .25-53.8 .25-4.1 .25 49.8 .25 54.9 .25-49.2 .25 5.5 .25-73.7 .25 38.4 .25-22.4 .25 44.4 .25-43.4 .26 32 .25 11.6 .25-30.3 .25 50.2 .25-68.7 .25 79.7 .25-44.7 .25 61.9 .25-43.2 .25 1 .25 25.1 .26-126.9 .25 106.5 .25-51.3 .25 87.8 .25-60.5 .25 43.2 .25-69.8 .25 4.5 .25 10.6 .25-11.9 .25 76.8 .26-50.9 .25-1.8 .25-1.4 .25-25.5 .25-61.3 .25 118.7 .25-41.1 .25 1.2 .25 6.4 .25 55.7 .25-72.3 .26-8.3 .25 31.1 .25-17.6 .25 25.9 .25-12.9 .25 60.2 .25-37.2 .25-51.6 .25 40.6 .25 16.3 .25-68.8 .26 28.5 .25 56.9 .25-2.7 .25-40.5 .25 21.1 .25-3.8 .25-45.3 .25 82.9 .25-82.2 .25 58.8 .25 15.6 .25-54.8 .26 44.2 .25 40.6 .25-126.1 .25 57.3 .25 16.7 .25-14 .25-47.9 .25 24.5 .25 64.2 .25 49 .25-123.9 .26 37 .25 98.2 .25-31.1 .25-63.1 .25 33.3 .25-39 .25 28.6 .25-31.8 .25 14.3 .25 .5 .25 5.4 .26-66.3 .25 49.9 .25 58.4 .25-79.4 .25 39.8 .25 29.9 .25-5.2 .25-75.3 .25 23 .25 40 .25-36.1 .26 46.9 .25 23.4 .25-69.5 .25 3.1 .25 75.8 .25-5.8 .25-46.9 .25-53.7 .25 78.1 .25-22.8 .25 42.1 .26-93.4 .25 67 .25-28.6 .25 13.2 .25-15.2 .25-13.2 .25 73.6 .25 16 .25-88.3 .25 76.5 .25-86.5 .25 2.1 .26 98.8 .25-136.5 .25 30.4 .25 73.8 .25-51 .25-4 .25 69.9 .25-72.1 .25 5.9 .25 29.5 .25 21.3 .26 17.7 .25-27.3 .25-54.8 .25 33.3 .25 10.1 .25 47.7 .25-14.3 .25-36.3 .25 70.7 .25-51.1 .25-39.8 .26 36 .25 49.5 .25-82.1 .25-6.7 .25 89.4 .25-26.9 .25-17.4 .25-69.9 .25 46.3 .25 18.1 .25 11.4 .26 22.3 .25-114.3 .25 85.7 .25 .7 .25-51.9 .25 7.3 .25 35.3 .25-17.2 .25 44.5 .25-64.8 .25 44.9 .26 15.4 .25-74.3 .25 58.6 .25-14.6 .25 65.6 .25-98.7 .25 23.4 .25 36.8 .25 52.3 .25-52.9 .25-50.4 .25 15.3 .26 15.1 .25-60.2 .25 59.3 .25-25.8 .25 25.8 .25-3 .25 16.2 .25 15.3 .25 5.8 .25-52.2 .25 8.3 .26 26.9 .25-21.3 .25 103.3 .25-49.3 .25-18.6 .25-7.3 .25 2.9 .25-48.4 .25 64 .25 26.5 .25-84.9 .26 51.8 .25 52.8 .25-58.2 .25-78.5 .25 64.9 .25-39.5 .25 42.2 .25 2.7 .25 34.5 .25-78.7 .25 28.1 .26 34.9 .25-29.8 .25-43.5 .25 53.3 .25 9.7 .25 21.6 .25 7.1 .25 2 .25 54.8 .25-58.5 .25-27.3 .26 56 .25-30.6 .25-45.1 .25 28.6 .25 46.7 .25-119.3 .25 60.6 .25-30.2 .25 60.5 .25-20 .25-11.1 .25 .4 .26 18.9 .25-7.6 .25 47.5 .25-14.4 .25-77.1 .25 80.9 .25-38 .25 75.5 .25-28.1 .25-56.5 .25 53.4 .26-40 .25 26.2 .25-.3 .25 22.2 .25-32.7 .25 43.9 .25-52.8 .25-12.3 .25-111.9 .25 181.5 .25-126.5 .26 94.8 .25-44.9 .25 30.5 .25-3.7 .25-28.8 .25 130.3 .25-95 .25 41 .25-54.2 .25-5 .25-31.7 .26 37.3 .25-5.6 .25 47.9 .25-57.2 .25 34.4 .25 22.3 .25-3.5 .25-20 .25-13.2 .25-8 .25 1.6 .26-16.2 .25 27.8 .25 35.3 .25-37.5 .25-12.4 .25-44.3 .25 71.8 .25-15.3 .25 16.5 .25 0 .25 26.4 .25-10.8 .26-51.9 .25 43.1 .25 40.7 .25-76.7 .25 16.5 .25 18.4 .25 16 .25-50.9 .25 29 .25-45.7 .25 2.2 .26-6.4 .25 68.9 .25-46 .25 47.9 .25-54 .25 1.1 .25-13 .25 35.4 .25 21.7 .25-30 .25 25.8 .26 1.5 .25 1.8 .25 37.8 .25-61.8 .25 75.9 .25-102.7 .25 53.5 .25 17.9 .25-22.3 .25-27.6 .25 13.6 .26 92.1 .25-39.2 .25-3.8 .25-43.5 .25 1.2 .25 6.9 .25-68 .25 61.7 .25-15.4 .25 38.6 .25-52.1 .26 32.8 .25-29.7 .25 62.2 .25-11.3 .25-24.3 .25 31 .25 10.8 .25-100.5 .25 43.4 .25 55.2 .25-10.7 .26-36 .25 25.3 .25-30 .25-8.9 .25 78.8 .25 6.3 .25-68.6 .25 3.2 .25 21.7 .25 3.9 .25-16.2 .25 49.9 .26-105.2 .25 28.4 .25-6.6 .25 38.1 .25-73.7 .25 57.6 .25-31.6 .25 23.3 .25-46.1 .25-50.3 .25 107.3 .26-32.2 .25 72.3 .25-123.5 .25 6.8 .25 54.3 .25-46.6 .25-23.4 .25-41.8 .25 29.1 .25 33.8 .25-39.3 .26-46.9 .25-14.1 .25 67.5 .25-71 .25-43.6 .25 80.7 .25-102.1 .25 14.9 .25 11 .25-69.7 .25 3.6 .26 4.9 .25-11.1 .25 28.6 .25-44.6 .25-32.5 .25 115.2 .25-41.6 .25-87.1 .25 72.6 .25 5.9 .25 27.1 .26-15 .25-38.9 .25 49 .25-15.6 .25 55.3 .25 23 .25-44.4 .25 28.9 .25 26.5 .25-27.6 .25 65.3 .25 41 .26-40.4 .25 51.1 .25-20.7 .25 52 .25-80.8 .25 37.3 .25 11.9 .25 18.8 .25 21.8 .25 37.9 .25-38.1 .26-6.1 .25-24.3 .25 80.1 .25-78.2 .25 120.7 .25-8.6 .25-65.6 .25 53.6 .25-20.8 .25 42.9 .25-18.6 .26-8.9 .25 8.5 .25 38.5 .25-57.7 .25 36 .25 5.7 .25-24.8 .25 15.5 .25 36 .25-20.7 .25 10.8 .26-8.2 .25-13.8 .25-8.5 .25-3.8 .25 7.4 .25-1.2 .25 40.2 .25-50.1 .25 50.4 .25-47.8 .25 22.4 .26 51.1 .25-84.3 .25 40.6 .25 34.9 .25-31.4 .25 28.7 .25-82.7 .25 30.7 .25 15.1 .25 20.2 .25-26.6 .25-4.7 .26 31.6 .25 19.2 .25-34.9 .25 61 .25-10.3 .25-34.4 .25-19 .25-40 .25 122.8 .25-49 .25 21.2 .26-68.3 .25 45.2 .25-22.6 .25-11.6 .25 44.7 .25-62.4 .25-17.6 .25 54.4 .25-32.8 .25-.4 .25 9.1 .26 28.4 .25-26.2 .25 7.9 .25 30.3 .25-54.2 .25 50.7 .25-96.7 .25 82.1 .25 68.5 .25-43.9 .25-37.4 .26-7.5 .25-14.7 .25 39.6 .25 10.9 .25-2.3 .25-1.9 .25-62.5 .25 6.8 .25 53.7 .25-32 .25 36.3 .26-14.9 .25-43.9 .25-1.9 .25 71.3 .25 1.2 .25-23.6 .25-2.5 .25-2.1 .25 48.5 .25-8.7 .25-15 .25 24.7 .26-65.3 .25 87.1 .25-62.8 .25 45.4 .25-28 .25-9.8 .25 30.2 .25-6.4 .25-76 .25 52.7 .25-8.5 .26-19.2 .25 44.1 .25-30.5 .25 5.8 .25-23.7 .25 8.4 .25 22.2 .25 8.7 .25-20.2 .25 4.3 .25 1.5 .26 15.3 .25 16.8 .25-70.3 .25 33.6 .25 22.9 .25-72.3 .25 79.7 .25-54.4 .25 .6 .25 110.9 .25-80.6 .26 71.3 .25-141.2 .25 98.7 .25-35.2 .25 32.1 .25-63.6 .25 42.3 .25-44.5 .25 61.6 .25 15 .25-65.6 .26 48.9 .25 28.7 .25-42.7 .25-18.7 .25 30.8 .25 9.2 .25-15.3 .25 14.8 .25-10 .25 1.5 .25 3.4 .25-10.3 .26 3.8 .25-3.5 .25 11.3 .25 7.3 .25-48.4 .25 20.5 .25 22.6 .25 2 .25-61.7 .25 47.1 .25 33.7 .26-31.7 .25-24.8 .25 81.5 .25-81.6 .25 7.5 .25 34.7 .25-9 .25-8.5 .25 53.5 .25-51.3 .25-26.8 .26 23.6 .25 7.7 .25-10.9 .25 22.5 .25 11.2 .25-63.7 .25 10.4 .25-30.8 .25 53.4 .25 28.3 .25-15.7 .26 1.5 .25-90.6 .25 24.7 .25 77.9 .25-57 .25 6.6 .25 27.9 .25-21.5 .25-22.2 .25-3.5 .25 23.3 .26-22.3 .25 24.1 .25-9.7 .25-5.8 .25-16.3 .25-8.5 .25 46.4 .25 19 .25-16.6 .25-36.1 .25-8.2 .25 72.6 .26-66.8 .25 52.3 .25 11 .25-42.3 .25 3 .25-9.9 .25-28.2 .25 89.5 .25-62 .25 56.2 .25-7.7 .26-27.9 .25-13.6 .25 10.1 .25 12.6 .25 30.8 .25 7.8 .25 36.5 .25-50.6 .25 58 .25-37.1 .25-49 .26 44.9 .25 10.5 .25-12.6 .25 12.3 .25 53.4 .25-44.2 .25 39.1 .25-51.6 .25 19.4 .25 26.3 .25-16.6 .26 47.5 .25-58.1 .25 5.8 .25-17.8 .25 43.4 .25-34.5 .25-54.8 .25 68.7 .25 5.4 .25-18.8 .25-14.7 .26 24.5 .25-66.6 .25 40.4 .25 34.3 .25-29.7 .25 1.9 .25 26.1 .25-22.1 .25 35 .25-41.9 .25 84 .26-62.4 .25-.7 .25 45 .25-2.1 .25-2.1 .25-71.7 .25 8.5 .25 54.4 .25-44.1 .25 18.7 .25 13.2 .25 15.6 .26-14.7 .25-9.9 .25 19.4 .25-65.6 .25 36.2 .25 35 .25-67.7 .25 79 .25-5.5 .25 28.7 .25-52.3 .26-33.7 .25 65.6 .25-23.2 .25 11.4 .25-19.2 .25 16.5 .25 16.4 .25-10.5 .25 7.2 .25-55 .25 11.6 .26 42.6 .25-47.6 .25 54.7 .25-17.4 .25 14.1 .25-35.1 .25 1.2 .25 30.4 .25-22.8 .25-1 .25-37.5 .26 68.7 .25-33.8 .25-48.1 .25 4.5 .25 82.7 .25-1.2 .25-47 .25 56.6 .25-9.6 .25-14.9 .25-31.3 .26 57.1 .25-41.3 .25 12.6 .25-74.8 .25 49.1 .25 35.6 .25-58.5 .25 71.7 .25-14.6 .25-48 .25 15.6 .25-1.5 .26 44.3 .25 21.3 .25-60.3 .25 28.2 .25-35.4 .25 31.2 .25-18.8 .25 17.4 .25 5.4 .25-45.5 .25 50.4 .26-65.6 .25 23.8 .25 67.9 .25-1.6 .25-8.6 .25-7.7 .25 27.2 .25-103.8 .25 92.6 .25-88 .25-7.1 .26 35.9 .25 20.7 .25 16 .25-43.1 .25-8.5 .25-3.4 .25-1.8 .25 32.4 .25-6.6 .25 39.7 .25 2.1 .26 27.3 .25-54.9 .25 75 .25-63 .25-14.7 .25 10.4 .25-10.5 .25 32.8 .25-14.2 .25-6.9 .25 27.1 .26-84.4 .25 99.5 .25-29.5 .25 2.1 .25-30 .25 32.9 .25 2.6 .25-25.7 .25 56.8 .25-104.3 .25 48.4 .25 49.3 .26-31.9 .25 10.1 .25-13.5 .25-16 .25-4.4 .25 78.9 .25-74 .25 24.8 .25 31.9 .25-61.9 .25 18.9 .26 28.5 .25-37 .25 .9 .25 72 .25-76 .25 41.9 .25-37.3 .25 11.2 .25-8.1 .25-34.1 .25 47.4 .26 6.2 .25 21.9 .25-47.8 .25-3.1 .25 20.5 .25 54.5 .25-77.8 .25 26.1 .25 20 .25-6.5 .25-14 .26-.8 .25-16.5 .25 1.2 .25 24.9 .25-16.5 .25-35.2 .25 48.8 .25 34.4 .25-91.3 .25 88.4 .25 3.4 .26 4.2 .25-44.4 .25-46.3 .25 31.7 .25 9.3 .25 11.5 .25-2.7 .25 12.1 .25-76.9 .25 38.3 .25 27.3 .25 .4 .26 3 .25 8.6 .25 4 .25-37.1 .25 37.5 .25-8 .25-23 .25-45.3 .25 83.3 .25 15.2 .25-39.7 .26 25.5 .25-42.5 .25 14.3 .25-23.1 .25 47 .25 10.8 .25-30 .25-1.5 .25-2.1 .25 0 .25-54.7 .26 72.5 .25-22.5 .25 17.4 .25-9.9 .25-2.7 .25 22.3 .25 1.8 .25-47.7 .25 36.7 .25 21.7 .25 29.5 .26-27.9 .25 29.6 .25-72.4 .25 20.9 .25-30.8 .25 32.9 .25-23.4 .25 16.4 .25 11.9 .25 20.2 .25-12.9 .26-9.5 .25-6.4 .25 10.5 .25-42 .25 33.2 .25 10.7 .25 4.7 .25-44.5 .25 7 .25 21.5 .25 27.8 .25-3.3 .26-26 .25-4.2 .25 18 .25-23.8 .25 4.5 .25 20.3 .25 11.4 .25-5.9 .25-38.9 .25-27.7 .25 73.2 .26 6.9 .25-4.5 .25-58.1 .25 20.5 .25-39.2 .25 111 .25-27.9 .25-56.2 .25 68.4 .25-52.8 .25 3.6 .26 28.7 .25-28.1 .25 22.6 .25-9.2 .25-4.8 .25 7.1 .25-52.5 .25 33.6 .25-13.6 .25 37.4 .25-26.5 .26 22.8 .25 6.7 .25 3.6 .25-37.9 .25 7.1 .25 48.1 .25-17 .25-1.1 .25-8.1 .25-47.5 .25 20.9 .26 28.5 .25 8.6 .25 4.8 .25-44.8 .25 62.6 .25 15.3 .25-85.6 .25-8.2 .25 30.8 .25-8.5 .25 62.1 .25 35.9 .26-67.4 .25-22.6 .25 0 .25-5.6 .25 28.1 .25-7.8 .25-25.1 .25-27.9 .25 33.1 .25-2.5 .25 1.7 .26 55.8 .25-37.3 .25 37.2 .25 1.9 .25 5.6 .25-63.7 .25 31.5 .25-40.3 .25 19.2 .25 34.6 .25 16.6 .26-49.6 .25-38.2 .25 69.9 .25 24.7 .25-97.3 .25 32.5 .25-18.7 .25 15.5 .25 90.3 .25-68.4 .25 40.4 .26-27 .25 49.7 .25-36.6 .25-26.9 .25 45 .25-60.2 .25 20.5 .25 22.8 .25-17.3 .25 13.3 .25 10.2 .26-19.5 .25-.6 .25-6.8 .25-24.3 .25 13.5 .25-8.8 .25 1.4 .25 13.6 .25-1.4 .25-53.4 .25 58.6 .25-21.4 .26 5.2 .25 46.1 .25-58.6 .25 44.3 .25-8 .25 5.1 .25 8.4 .25-24.1 .25-4.8 .25 26.9 .25-2.3 .26-10.9 .25 31.5 .25-35.8 .25 9.4 .25 9.2 .25-56.7 .25 5.1 .25-4.6 .25 43.5 .25-36.3 .25 36 .26-29.1 .25 10.1 .25 21.1 .25-26 .25 30.6 .25-1.5 .25-8.9 .25 5.9 .25 16.7 .25-55 .25 50 .26 .1 .25-34.3 .25 26.3 .25 24.5 .25-33.7 .25 12.4 .25-40.5 .25 37.2 .25-23.1 .25-3.6 .25-34.7 .26 48.2 .25 14 .25-56.2 .25 94.9 .25-69.5 .25 4 .25 3.9 .25 8.1 .25 6.1 .25 17.6 .25-51.9 .26 85.1 .25-54.7 .25 .9 .25 60.1 .25-47.8 .25-17.8 .25 16 .25-2.1 .25 34.9 .25-38.1 .25-14.7 .25 30 .26-7.3 .25 .3 .25-17.1 .25-23.3 .25 4.9 .25 5.3 .25-1.4 .25-2.2 .25 12.6 .25 16.3 .25-10.7 .26 6 .25-33.7 .25 28.3 .25 8.1 .25 18.5 .25-9.1 .25-10.1 .25-29.6 .25 48.2 .25-77.5 .25 12.6 .26 4.3 .25 30.5 .25 50.7 .25-14.4 .25-58 .25 3.7 .25 41 .25-11.1 .25-1.2 .25-8.9 .25-16.1 .26 61.6 .25-43.4 .25-10.1 .25-1.4 .25 8.2 .25 34.6 .25-18.8 .25 3.1 .25-79 .25 99.5 .25-85 .26 111 .25-47.5 .25 11.9 .25-75.3 .25 71.3 .25-15.2 .25-11.7 .25 18.7 .25-5.8 .25-3.2 .25 8.7 .25 2.5 .26 12.6 .25-18.2 .25 9.4 .25-13.7 .25-34.5 .25 33.7 .25 8.3 .25-3.2 .25 96.6 .25-58.4 .25-93.1 .26 90.3 .25-55.2 .25-14.2 .25 32.2 .25-14.6 .25 39.4 .25 13.5 .25-8.4 .25-18.4 .25-49 .25 3.7 .26 48.2 .25-12.7 .25-43.5 .25 44.5 .25-31.6 .25 10.4 .25 5.8 .25 1.7 .25 46.9 .25-28.7 .25 52.6 .26-19.8 .25-62.9 .25 40.4 .25 12.5 .25 20.8 .25-24.7 .25-7.1 .25-10.8 .25 34.5 .25-65.8 .25 23.4 .26 63.3 .25-6.1 .25-23 .25 7.6 .25-.6 .25-40.1 .25 6.7 .25 .8 .25-15.6 .25 46.7 .25-14.2 .25-60.8 .26 48.3 .25-37.7 .25 17.8 .25 49.6 .25-12.6 .25 5.8 .25-23.9 .25 7.4 .25 41.4 .25-39.8 .25-1 .26 13.8 .25-30.5 .25 22.3 .25 15.2 .25-35.8 .25-18.3 .25 25.7 .25-29.2 .25 41.6 .25-5.2 .25 9 .26 15.2 .25-29.8 .25-27.1 .25 38.1 .25-29.8 .25 30.9 .25-31.3 .25 37.3 .25-55.1 .25 31.3 .25-1.1 .26 17 .25-59.9 .25 25.3 .25 14.1 .25-2.5 .25 31.3 .25-.6 .25 16.4 .25-55.6 .25 15.5 .25 8 .26 11.1 .25-15.6 .25-31.4 .25 79.1 .25-47.1 .25-34.6 .25 43.7 .25-6.7 .25-16.3 .25 73 .25-58.3 .25-9.8 .26 .1 .25-23.2 .25 54.5 .25 12.2 .25-16.3 .25 3.4 .25-9.6 .25 5.6 .25-34.1 .25 4.9 .25 7.3 .26-18.4 .25 39 .25-36.7 .25 52.1 .25-76.4 .25 1.2 .25 14.2 .25 45.6 .25-49.7 .25 37.1 .25 16.8 .26-68.2 .25 41 .25 13.3 .25 14.9 .25-7.1 .25-40.7 .25-2.3 .25 17.1 .25-.2 .25 5.3 .25 21.3 .26-26.8 .25-4.9 .25-.3 .25 37.8 .25-26.1 .25-15.1 .25 38.5 .25-1.7 .25-56.9 .25 45.2 .25-27.7 .26-13.5 .25 64.8 .25-36.9 .25-14.7 .25 23.6 .25 3.5 .25 27.3 .25-24.2 .25 22.3 .25 2.5 .25-69.3 .25 42.8 .26-43.8 .25 33.2 .25 8.6 .25 28.7 .25-.7 .25-15.3 .25-18.9 .25 2.7 .25-10.6 .25-8.4 .25 52 .26-40.2 .25-8.9 .25 39.3 .25-18.3 .25 12.5 .25-64.7 .25 50.1 .25 6.4 .25-25.6 .25 .8 .25 36.4 .26-18.4 .25 3 .25-20.1 .25-5.7 .25 48.8 .25-53.5 .25-11.3 .25 20.5 .25-4.4 .25 60.8 .25-71.6 .26 28.4 .25 3.6 .25 4.7 .25 37.5 .25-70.8 .25 11.3 .25-3.8 .25 20.7 .25-12 .25 24.7 .25-10.6 .26 12.9 .25-28.4 .25 20.2 .25-15.8 .25 27.6 .25-61.4 .25 39.8 .25 22.4 .25-16.9 .25-.4 .25 3 .25-2.2 .26 4.1 .25-40.4 .25 78.3 .25-101.6 .25 45.3 .25 55.2 .25-59.4 .25 21.2 .25-24.6 .25-.9 .25 23.3 .26 26.7 .25-25.4 .25-36.3 .25 18.4 .25 22.6 .25 9.4 .25 3.3 .25-51.1 .25-16.6 .25 25.6 .25-4.3 .26-27.1 .25 54 .25-3.1 .25 37.2 .25-60.8 .25 23 .25 36.4 .25-33.2 .25 10.5 .25-30.4 .25-2.8 .26 70.3 .25-50 .25-18.6 .25 6.9 .25 20.2 .25-35.7 .25 11 .25 62 .25-67 .25 32.8 .25-10.1 .26-19.7 .25 33.6 .25 6.5 .25-15 .25 10.6 .25-24.2 .25-25.8 .25 50.5 .25-18.5 .25-36.8 .25 21.8 .25 18.3 .26-12.4 .25 9.4 .25-18.9 .25 17.7 .25 18.8 .25-5.3 .25-14.4 .25-11 .25 3.3 .25 35.2 .25-46.8 .26-6.9 .25 22.8 .25-5.2 .25 20.4 .25-64.2 .25 61.9 .25-51.6 .25 19 .25 38.8 .25 2.3 .25-37.1 .26 20.6 .25-4.3 .25 27.9 .25-44.4 .25 16 .25-3.5 .25 18.2 .25 23.7 .25-56.4 .25 29.4 .25-25.5 .26-10.6 .25 12.3 .25 3.1 .25-11.8 .25 50.6 .25-70.8 .25 33.6 .25 8.6 .25-61.7 .25 56.7 .25 21.4 .26 11.6 .25-41.9 .25 38.4 .25-3.1 .25-5 .25-44.2 .25 43.9 .25-23.7 .25 6.1 .25-2.5 .25 7.1 .26 2.7 .25 1.8 .25-2 .25 4.1 .25-20.1 .25-7.3 .25 7.6 .25 33.5 .25-66.2 .25 20.6 .25 20.7 .25 2.8 .26-16 .25-17.1 .25 55.9 .25-39.8 .25-11.2 .25 68.4 .25-36.6 .25 28 .25 32.4 .25-78.9 .25 55.9 .26-25.5 .25-71.6 .25 42.1 .25 29.5 .25-29.7 .25 27.4 .25-49.9 .25 39.8 .25-16.8 .25-23.7 .25 15.7 .26 34.5 .25-37.3 .25-22.1 .25 54.5 .25 8.8 .25-33.1 .25-1.7 .25 50.3 .25-1.1 .25-74.1 .25 12 .26 7.8 .25 15.3 .25 16 .25-52.7 .25 56 .25-24 .25-63.9 .25 46.6 .25 41.4 .25-26 .25-33.8 .26 13.9 .25 12.8 .25-30 .25 71.1 .25-21 .25-15.8 .25 5.1 .25-42.9 .25 44.5 .25-61.6 .25 94.5 .25-11 .26-22.4 .25-24.1 .25-1.3 .25 4.5 .25-32.5 .25 81 .25-12.4 .25-51.5 .25 0 .25-22.1 .25 42.4 .26-12.8 .25 3.4 .25-28.6 .25 52.2 .25-31.1 .25-53.1 .25 27 .25-28.3 .25 53.9 .25-2.1 .25-21.2 .26 6.9 .25-37.5 .25 33.9 .25-20.4 .25 22.4 .25-76.7 .25 34.5 .25 34.7 .25-72.8 .25 23.3 .25 41 .26-40.7 .25-36.4 .25 55.9 .25-45.8 .25-42.7 .25 38.7 .25-18.6 .25 34.7 .25-36.5 .25 47.3 .25-28.4 .26 32.5 .25-7.2 .25-16.1 .25-7 .25-18.2 .25-29.4 .25 50.2 .25-56.7 .25 79.8 .25-51.7 .25 52.4 .25-.3 .26-28.9 .25 52.1 .25-3.4 .25-51.5 .25 34.1 .25 48.7 .25-30.2 .25-26.1 .25-7.1 .25 79.4 .25-68.4 .26 6.2 .25 39.2 .25 .2 .25 22.5 .25 16.7 .25-39.3 .25 47.9 .25-39.8 .25-4.4 .25 6.6 .25-3.8 .26-45.6 .25 56.3 .25 15.8 .25 44.5 .25-50.3 .25 6.3 .25-15.4 .25 21 .25 28 .25 17.3 .25-44.7 .26-58.8 .25 74.4 .25 17.4 .25 23 .25-65.2 .25 9.3 .25 9.8 .25-25.7 .25 47.6 .25-19.3 .25 10.1 .26-20 .25-34.6 .25 7.6 .25 47.8 .25-15.9 .25 12.5 .25-13.9 .25 32.7 .25-8.4 .25-59.9 .25 79.9 .25-46 .26 33.3 .25-36.9 .25-4 .25 27.1 .25-13.5 .25 56.6 .25-29.3 .25-24.8 .25 19.4 .25-24.9 .25 22.5 .26 16.6 .25-19 .25-25.1 .25 10.7 .25-14.5 .25-3.4 .25 66 .25-23.3 .25-19.2 .25 18.1 .25-8.3 .26-27.7 .25-19.7 .25 61.4 .25-55 .25 40.1 .25 3.6 .25-39.2 .25 37.9 .25-4.1 .25 12.1 .25 15.6 .26-30 .25 12 .25-14.6 .25 33.6 .25-34.9 .25-2 .25 18.8 .25-21.5 .25-37.4 .25 86.8 .25-7.8 .26-26.1 .25 22.2 .25-83.6 .25 46.6 .25 18.5 .25-50.6 .25 24.9 .25 34.4 .25-24.2 .25-.1 .25 43.3 .25-2.1 .26-61.7 .25 4 .25 68.7 .25-7.7 .25-19.7 .25-7.2 .25 14.3 .25-60.6 .25 49.9 .25-9.9 .25 12.6 .26-11.6 .25 39.5 .25-45.9 .25 32.6 .25 16.5 .25-7.8 .25-69.7 .25 65.3 .25-84.3 .25 45.9 .25-33.7 .26 45.1 .25-12.6 .25 21.9 .25-46.4 .25-7.1 .25 7.9 .25-10.4 .25 37 .25-.3 .25 22.9 .25-30.3 .26-3.8 .25 22.3 .25-7 .25 21 .25-45.3 .25 35.5 .25-26.9 .25-33.6 .25 77.4 .25-55.5 .25 41.1 .26 29.5 .25-19.6 .25 5.9 .25-29.3 .25 43.4 .25-51.7 .25-3.6 .25 8.9 .25 29.9 .25-17.2 .25-8.1 .25-45.1 .26 5.1 .25 65.8 .25-14.8 .25 34 .25-27.6 .25-18.9 .25 31.1 .25-5.8 .25-3.3 .25-21 .25-39.2 .26 61.9 .25 22.1 .25-72 .25 92.1 .25-93.2 .25 34.8 .25-61.4 .25 79.8 .25-16.6 .25-13.2 .25 2.3 .26 28.8 .25-69.8 .25 62 .25-30.6 .25-.5 .25 22.9 .25-20.4 .25 37.3 .25-19.9 .25-13.5 .25 29.1 .26-36.5 .25 15.6 .25 20.8 .25-37.1 .25-19 .25 38.9 .25-22.3 .25 17.3 .25-4 .25-.9 .25 33.3 .26-93.9 .25 84.5 .25-17.4 .25 10.5 .25 14.9 .25-56.5 .25 14.4 .25-2.7 .25 19.9 .25-49.3 .25 49.8 .26-43.2 .25 84.7 .25-29.5 .25-6.7 .25-23.9 .25-22.7 .25 90.6 .25-41.3 .25-4.7 .25-7.2 .25-37.9 .25 53.1 .26-73.6 .25 48.3 .25-27.4 .25 64.4 .25-56.5 .25 36.3 .25-7.5 .25-21.5 .25 50 .25-58.2 .25 15.9 .26-15 .25 6.6 .25-6.2 .25 25.5 .25 58.5 .25-64.6 .25 15.5 .25 6.1 .25-9.7 .25-2.1 .25 19.3 .26-60.8 .25 3.3 .25 39.8 .25-14.3 .25 32.2 .25-2.5 .25-55.6 .25 32.8 .25-1.7 .25 24.4 .25-50.7 .26 45.4 .25-32.2 .25 26.9 .25 36.6 .25-76 .25 54.8 .25-39 .25-7.1 .25-19.9 .25 62.2 .25-6 .26-25.7 .25-7 .25 24.1 .25-35.2 .25 22.4 .25 24.6 .25 4.5 .25 16.9 .25-28 .25 5.9 .25-28.5 .25 16.5 .26-5.2 .25 .9 .25 4.4 .25 2.4 .25 17.4 .25-34.2 .25 9.9 .25 40 .25-7.5 .25-30.2 .25-2.8 .26-12.5 .25 47 .25-59.7 .25 60 .25-20.5 .25-4 .25 23 .25-89 .25 48.6 .25-8.7 .25 20.6 .26-3.8 .25 38.6 .25-11.5 .25-20.9 .25-28.4 .25 54.3 .25-33.8 .25-21 .25 54.2 .25-52.5 .25 23.5 .26 43.5 .25-33 .25 30.8 .25-34.4 .25 62.1 .25-44.7 .25 17.6 .25-17.1 .25-18.2 .25 19.6 .25 4.2 .26-9.9 .25 37.3 .25-33.1 .25-47.4 .25 15.2 .25 .1 .25 26 .25 5.6 .25-51.5 .25 44.5 .25-22.5 .25 30.5 .26-43 .25 44.1 .25-98.6 .25 84.4 .25 16 .25-20.2 .25-24.6 .25 61.2 .25-14.6 .25-32.6 .25 24 .26-26.5 .25 15.2 .25-6.1 .25 35.5 .25-2.4 .25-22.9 .25-6.4 .25 18.6 .25-12.2 .25-18.7 .25 18.9 .26 32.1 .25-31.6 .25-5.2 .25 37.3 .25-15.1 .25-18.9 .25 64.3 .25-51.6 .25 3.3 .25-4.1 .25-12.6 .26 10 .25 27.9 .25-20.2 .25-43.6 .25 24.3 .25 49.2 .25-27.6 .25-2.9 .25-21 .25 61.8 .25-39.4 .26-1.4 .25 5.9 .25 25.3 .25 25.6 .25-30.2 .25-15.1 .25 17.4 .25-56.9 .25 46 .25-46.1 .25-2.1 .25 27.8 .26-17.7 .25 61.5 .25-22.9 .25-25.1 .25-31.6 .25-1.5 .25 57 .25-28.2 .25 44.5 .25-12.8 .25-1.1 .26 12.7 .25-48.3 .25-21 .25 75.2 .25 23.7 .25-65.4 .25 9 .25-47.2 .25 55.6 .25 13.9 .25-21.4 .26 20.4 .25-2.1 .25 12.3 .25-46.6 .25-24.1 .25 30.9 .25 22.5 .25 23.9 .25-48.3 .25 53.5 .25-10.3 .26 9.6 .25-37.7 .25-20.1 .25-1.5 .25-14.7 .25 45.3 .25-.6 .25 53.7 .25-80.3 .25-4.3 .25 32.5 .26-2 .25 32.8 .25-2.4 .25-7.9 .25-47.1 .25 17.3 .25 1 .25-3.8 .25-11.6 .25 52.4 .25-68.7 .25 33.8 .26 21 .25-7.2 .25-12.4 .25 41.8 .25-36.5 .25 27.7 .25-55.4 .25 42.3 .25-43.6 .25 44.6 .25-9.5 .26-29.7 .25 41 .25-27.1 .25 11.3 .25-13.4 .25 24.9 .25-17.9 .25-1.8 .25 6.5 .25-25 .25 25.8 .26 .8 .25-15.5 .25-4.5 .25 51.2 .25-50.5 .25 48.6 .25-41.3 .25 .3 .25 6.1 .25 8.4 .25-55.5 .26 60.6 .25-48.7 .25 42.8 .25-59.5 .25 27 .25-1.6 .25-1.4 .25-13.1 .25 57.1 .25-33.3 .25 41.7 .26-27.5 .25-15.1 .25 14.4 .25-.8 .25-25.9 .25 52.9 .25-39.7 .25 50.5 .25-14.5 .25 5.7 .25 6.5 .25-23.5 .26-16.3 .25 25.6 .25-20.6 .25-1.3 .25 27.8 .25-32.3 .25-2.9 .25 11.3 .25 24.5 .25-96.3 .25 161.7 .26-76.5 .25-.4 .25-27.7 .25 2.1 .25 39.4 .25 17.3 .25-30.9 .25 45.8 .25-45.9 .25 26.1 .25-32.7 .26-19.7 .25 7.4 .25 52.9 .25-47.9 .25 33.3 .25-48 .25-11.3 .25 13.3 .25 6.8 .25 22.9 .25 2.3 .26-37.5 .25 69.8 .25-50.1 .25-48.2 .25 95 .25-40.5 .25-27.4 .25 61.6 .25-59.2 .25 40.4 .25-18.9 .26-9.2 .25-11.4 .25 83 .25-38.7 .25-24.9 .25 8.5 .25 29.8 .25-39.7 .25-3.6 .25 30.8 .25-22.2 .26 .4 .25 44.4 .25-4 .25-29.3 .25-.9 .25-47 .25 44 .25-7.4 .25 8.3 .25-22 .25 17.5 .25 6.9 .26-11.7 .25 25.5 .25-21.6 .25 16.8 .25-16.2 .25 78.1 .25-37.6 .25-30.1 .25-4 .25 9.5 .25-15.2 .26-32.9 .25 74.9 .25-80.9 .25 48.5 .25-35.6 .25 57.3 .25-58.1 .25 24.9 .25 9.4 .25 19.9 .25-74.1 .26 92 .25-29 .25-19.6 .25 7.5 .25-12.3 .25-2.6 .25 32.5 .25-.8 .25-18.3 .25 29.3 .25-56.7 .26 29.8 .25-15.7 .25 .2 .25-7.7 .25 57.2 .25-77.4 .25-4.4 .25 81.9 .25-37 .25 20.8 .25-32 .26-8.2 .25 26.6 .25 1.5 .25 1.8 .25-20.4 .25 28.2 .25-17 .25-12.3 .25-13.6 .25-49.9 .25 76.4 .25-14.7 .26 32.1 .25-29 .25 47.4 .25-45.4 .25 45.9 .25-59 .25 12.2 .25 5.4 .25-6.3 .25 3.9 .25 1.5 .26 13.3 .25 1.9 .25-8.8 .25-2.1 .25 .2 .25-10 .25 49.7 .25-20.8 .25 4.2 .25-19.6 .25-43.5 .26-17.6 .25 29.8 .25 36.4 .25-18.4 .25 4.9 .25 36.8 .25-33.5 .25 19.8 .25-20.2 .25 14.9 .25 22.6 .26-22.6 .25 7.4 .25-36.3 .25 23.3 .25 32.5 .25-43.4 .25-9.4 .25 28.2 .25-56.2 .25 61 .25 .1 .26 13.7 .25-24.8 .25-20.3 .25 19.7 .25 8 .25 14.5 .25-1.6 .25-33.1 .25-20.9 .25 36.7 .25 17.6 .25-51.9 .26 9.7 .25 24.8 .25-27.7 .25 13.1 .25-13.2 .25 31.3 .25-9.6 .25-11.8 .25 9.1 .25-11 .25 8 .26 35.7 .25-27 .25-18.1 .25 45.8 .25-14.9 .25-44.7 .25-6.9 .25 4.4 .25 76.9 .25-95.5 .25 72.7 .26-42.9 .25-.1 .25 5.5 .25-2.6 .25 21.6 .25 34.7 .25-46.4 .25 20.1 .25 5.6 .25-20 .25-7.8 .26-6.8 .25-8.8 .25 29.9 .25 14.9 .25-29.3 .25-23.3 .25 44.3 .25-17.7 .25 34.2 .25-41.7 .25-10.1 .26 60.8 .25-41 .25 7.1 .25 33.9 .25-16.4 .25-13.2 .25 9 .25-59.3 .25 47.4 .25-19.1 .25 62.6 .25-36.2 .26-2.3 .25 24.2 .25-49.4 .25 53.6 .25-58.1 .25 39 .25 14.6 .25-18.7 .25-16.7 .25-.9 .25 22.1 .26-49.6 .25 45.9 .25 31.7 .25-27.7 .25 19.3 .25-66.7 .25 57.8 .25-69.3 .25 87.2 .25-12.2 .25 4.3 .26-46.4 .25 18.3 .25 15.3 .25-40.4 .25 16.9 .25 3.7 .25 51.6 .25-54.8 .25 18 .25-28.3 .25 11 .26 7.8 .25 13.8 .25-44.8 .25 44.8 .25-16.9 .25-12.6 .25 45.2 .25-55.2 .25 66.6 .25-62.5 .25 44.9 .26-54.5 .25 37.5 .25-30 .25 2.9 .25 14.1 .25-35.4 .25 35 .25 19.2 .25-11.5 .25 38.2 .25-32 .25-12.5 .26 16.9 .25 13.9 .25-19.1 .25 4.9 .25 6.4 .25 20.2 .25-11.6 .25-46.6 .25 27.5 .25 21 .25-18.4 .26-41.5 .25 64.4 .25-12.5 .25-14.8 .25 .7 .25-37.3 .25 51.9 .25-33.5 .25 13.8 .25 12.8 .25 20.2 .26-16.1 .25 43.3 .25-57.1 .25 26.6 .25 3.1 .25-60.6 .25 7.8 .25-22.9 .25 60.8 .25-26.2 .25 31.8 .26-9.5 .25-44.2 .25 31.7 .25-1.8 .25 14.3 .25-7.7 .25-.2 .25-6.9 .25 12.2 .25 18.3 .25-28.8 .26 26.2 .25-45.1 .25 20.4 .25 18.4 .25-38.4 .25 36.2 .25-40.8 .25 17.3 .25-.6 .25 4.5 .25 35.2 .25-9.7 .26 21.2 .25-6.4 .25-48.7 .25-10.6 .25 54.6 .25-20.9 .25 1.3 .25-13.8 .25 15.1 .25-11.9 .25 49.8 .26-30.9 .25-25.8 .25 22.2 .25-32.8 .25 19.4 .25 2.4 .25-9.9 .25 50.2 .25-40.9 .25 18.2 .25 6.2 .26 1.4 .25-37 .25 24.2 .25 21.8 .25-53.5 .25 10.6 .25 2.6 .25 13.2 .25 18.2 .25-26.1 .25 21.2 .26-29.5 .25-40.8 .25 74.5 .25 6 .25 8.7 .25-35.9 .25 9.9 .25 4.5 .25-72.4 .25 74.7 .25-15.1 .26-3.8 .25 32.6 .25-24.1 .25-4.6 .25-.4 .25-16 .25 29.6 .25 2.4 .25-41.6 .25-6.8 .25 3.1 .25 18.9 .26 52.5 .25-86.8 .25 55.2 .25-5.3 .25 .2 .25-73.9 .25 30.4 .25 2.5 .25 7.9 .25 42.2 .25-25.7 .26 7.3 .25-20.8 .25 7.1 .25 4.6 .25-1.1 .25 21.1 .25-62.6 .25 0 .25-5.9 .25 8.5 .25 73.6 .26-64.1 .25-38.7 .25 90.3 .25-2.7 .25 12.6 .25-45.7 .25 36.4 .25-56.2 .25 4 .25 43.4 .25 41.1 .26-29.4 .25-56.2 .25 46.6 .25-46.5 .25 35.4 .25-8.6 .25 3.6 .25 25.6 .25-24.1 .25 13.2 .25 31.7 .26-23.6 .25-19.6 .25 35.6 .25-25.5 .25-3.4 .25-6.7 .25-11.1 .25 0 .25 33.3 .25 .1 .25-35.2 .26 23.5 .25-.1 .25-4.2 .25-17.5 .25-12.1 .25-1.4 .25 45.6 .25-35.2 .25 78.3 .25-63.9 .25-5.2 .25 20 .26 41.8 .25-30.8 .25-3.7 .25 7 .25-7.1 .25 26.8 .25-65.7 .25 27.6 .25 2.2 .25-26.5 .25 73.4 .26-46.3 .25 42.5 .25-46 .25-6 .25 11.3 .25 3.4 .25 57.8 .25-96.4 .25 15.5 .25 26.4 .25-26.9 .26 32.8 .25 4.9 .25-24.6 .25 9.1 .25 6.8 .25 20.8 .25-27.6 .25-15.7 .25 58.9 .25-3.3 .25-20.5 .26-13.5 .25-34.3 .25 73 .25-14.3 .25-17.8 .25-15.3 .25-7.9 .25 10.5 .25 9.1 .25-8 .25 37.8 .26-24.6 .25-13.7 .25-43.9 .25 11.3 .25 30.7 .25-30.4 .25 27.7 .25 4.7 .25 11.4 .25-34.2 .25 47 .25-10.7 .26-11.7 .25 21.8 .25-39.8 .25 23.5 .25 16.6 .25-.4 .25 17 .25-27.8 .25 17.5 .25-39.6 .25 16.1 .26-1 .25-32.3 .25-9.3 .25 9.6 .25 10.1 .25 23.5 .25 7.4 .25-17.6 .25-21.2 .25 49.3 .25-20.2 .26 12.4 .25-28.2 .25-43.2 .25 70.5 .25 10.1 .25-41.4 .25 .8 .25 42.2 .25-60.5 .25 35.7 .25 33.5 .26-68 .25 11 .25 42.3 .25-2.3 .25-19.2 .25 21.6 .25 11.2 .25-.2 .25-9.2 .25 2.5 .25-15.6 .26-17.5 .25 47.6 .25-21.2 .25-43.5 .25 42 .25 23.7 .25-22.9 .25-6.8 .25 29.7 .25-9.3 .25-33.1 .25 1.7 .26-4.1 .25-17.2 .25 39.8 .25-47.5 .25 43.7 .25-19.1 .25-7.3 .25 28.2 .25 17 .25-17.3 .25-16.7 .26 .5 .25 19.2 .25-.3 .25-25.8 .25 19.7 .25-40 .25 60.9 .25-41.1 .25-17.2 .25 34.1 .25-4.5 .26 72.2 .25-79 .25 25.7 .25 4.8 .25 19.7 .25-17.2 .25 10.5 .25-17.9 .25-5.8 .25-32.3 .25 6.9 .26-15.1 .25 50 .25-37.4 .25-10.6 .25 59.2 .25 19.9 .25-83.8 .25 30.7 .25 16.3 .25-11.8 .25-9 .26-15 .25 78.8 .25-59.4 .25-16.6 .25 84.1 .25-49.6 .25-21.1 .25-50.7 .25 54.4 .25 1.2 .25-29.7 .25 38 .26-22.8 .25 30.2 .25-12.3 .25 3.3 .25-9.4 .25 19 .25-20.4 .25-8.1 .25 3.5 .25 46.3 .25 6.4 .26-59 .25-3.2 .25 44.7 .25-27.9 .25 22.2 .25 35.5 .25-32 .25-2.4 .25 11.1 .25-5.1 .25-.9 .26-34 .25-2 .25 33.6 .25-40.2 .25 7.1 .25 26.4 .25 12.9 .25-4.6 .25 3.3 .25 28.9 .25-49.1 .26-1.1 .25 15.3 .25-50.8 .25 11.3 .25 43.4 .25-.6 .25-27.5 .25 16.7 .25-5.5 .25-9.9 .25-18.6 .26 52.7 .25-25.1 .25 4.9 .25-5.3 .25 1.9 .25-28.2 .25 59.1 .25 22 .25-65.6 .25 4.3 .25 52 .25-78.1 .26 24.9 .25 36 .25-13.5 .25-3.8 .25 11.6 .25 36.7 .25-82.6 .25 39.1 .25-33.4 .25 57.8 .25-45 .26 21.5 .25 29 .25-28.7 .25 15.9 .25 11.8 .25-27.1 .25-2 .25-13.3 .25 26.7 .25-8.4 .25-32.1 .26-20.4 .25 16.2 .25 36.8 .25-12.9 .25-4.8 .25 43.8 .25-9.4 .25-16.6 .25 .3 .25-48.5 .25 65.2 .26-16.3 .25-28.1 .25 29.7 .25-32.7 .25 3.9 .25 40.3 .25-8 .25-34.7 .25-10.3 .25 36.6 .25-14.5 .26 9.7 .25 1.6 .25-27.1 .25 12.3 .25-22.2 .25 39 .25 9.1 .25 28.3 .25-58.3 .25 15.3 .25-40.1 .25 52.7 .26-66.2 .25 91.2 .25-52.1 .25 17.2 .25-32.5 .25 69 .25-15.5 .25-7.1 .25-14.9 .25-38.9 .25 8.1 .26 26.7 .25 13 .25 8.5 .25-10.9 .25-31.8 .25 34.9 .25-44.8 .25 13.1 .25 24 .25-22.8 .25 39.8 .26 .8 .25-97.2 .25 109.9 .25-22.8 .25-34.6 .25 48.7 .25-25.6 .25-23.1 .25 9 .25 6.9 .25 7.3 .26-21.3 .25 27.6 .25-15.3 .25 55.2 .25-53.4 .25 20 .25-45.7 .25 17.2 .25 6.9 .25 8.9 .25 2.2 .26-18.6 .25-9.1 .25 15.9 .25-1.2 .25-32.3 .25 61.2 .25-19.7 .25-19.6 .25-25.1 .25 50 .25-39 .25 21.1 .26 41.6 .25-44.6 .25 16.4 .25 16.3 .25-28 .25 13.3 .25 18.1 .25-37.5 .25-1.2 .25 10.4 .25-6.4 .26 20.7 .25 6.2 .25 2.8 .25-4.3 .25-28.1 .25 4.6 .25 29 .25-10.3 .25-64.8 .25 71.8 .25-23.2 .26 11.8 .25 13.5 .25-38.7 .25 36.5 .25-16.9 .25 45.7 .25-56.4 .25-25.3 .25 46.5 .25 9.5 .25-20.5 .26-6.5 .25-.9 .25-21.1 .25 24.4 .25 4.1 .25 35.7 .25-25.7 .25-10.3 .25 5.1 .25-12 .25-47.1 .26 73.7 .25-23.6 .25-9.4 .25 34.8 .25-28.1 .25 11.5 .25 26.9 .25-58.6 .25 28.1 .25-6.7 .25 .1 .26-9.9 .25 4 .25-23.4 .25 9.4 .25 32.6 .25-26.1 .25 38.2 .25 15.4 .25-15.2 .25-25.3 .25 23.8 .25-4.4 .26-40.8 .25 26.6 .25-6.2 .25 29 .25-19.5 .25-6 .25-2.5 .25 18.5 .25-59.6 .25 48.9 .25-24.1 .26 12.2 .25 29.1 .25-57.8 .25 77 .25-42.1 .25 23.4 .25-50.8 .25-1.2 .25 35 .25-8.6 .25-12.1 .26 49.6 .25-13.5 .25-11.7 .25 23.7 .25-11.6 .25-4 .25-15.6 .25-6.4 .25-2.1 .25 38.5 .25-37.9 .26 38.3 .25-3.8 .25 3.5 .25-32 .25-29.2 .25 9 .25 24 .25 16.8 .25-29.3 .25 5.3 .25 26.8 .26-29.6 .25 7.1 .25 25.9 .25-56.4 .25 37.7 .25-18.2 .25-13.2 .25 61.7 .25-67.9 .25 36.4 .25-12.2 .25 25.9 .26 4.3 .25-40.4 .25 32.7 .25 12 .25-87.4 .25 43.5 .25 7.4 .25-21.1 .25 31.8 .25-3 .25 24.4 .26-14.2 .25 19.2 .25-7.2 .25-20 .25-3.7 .25 36.5 .25-24.6 .25 19.1 .25-2.6 .25-4.3 .25-33.8 .26 70.1 .25-53.3 .25 3.9 .25 23.8 .25-25 .25-10 .25 25.9 .25-4.7 .25-20.1 .25 15.4 .25 17.2 .26-34.1 .25 37.5 .25-23.1 .25 17.1 .25-1.7 .25-22.2 .25-10.8 .25 20.8 .25 15.4 .25-67.3 .25 92.8 .26-96.3 .25 71.9 .25-37.6 .25-5.2 .25 34.3 .25-19.4 .25 13.3 .25-25.2 .25 32.4 .25-6.1 .25-39.9 .25 38 .26-16.7 .25 1.1 .25 8.1 .25 21 .25-26.7 .25 43.6 .25-56.2 .25 .1 .25 17.3 .25-12.1 .25 24.3 .26-6.8 .25 25.5 .25-43.1 .25-6.7 .25 27 .25-8.9 .25-16 .25 11.4 .25-21.5 .25 51.6 .25-8.9 .26-21.5 .25 14 .25-18.8 .25-3 .25 10.8 .25 36.7 .25-17.8 .25 9.6 .25 2.7 .25-36.2 .25 6.4 .26-16 .25 20.6 .25-36.1 .25 25.1 .25 .4 .25-19.1 .25 54.7 .25-26.1 .25-22.5 .25 13.9 .25-16.4 .26 35.3 .25 23 .25-55.2 .25-1.8 .25-6.4 .25 36.8 .25-7 .25-30.9 .25 50.3 .25-42.8 .25 34.7 .25-9.8 .26-14.3 .25 21.5 .25-5.4 .25-27.2 .25 23.2 .25-35.6 .25 42.6 .25 15.4 .25-32.3 .25 5.6 .25-17.9 .26 2.6 .25 18.4 .25 41.8 .25-50.3 .25 78.5 .25-59 .25-22.6 .25 12 .25-8.3 .25 4.4 .25 3.9 .26-31.1 .25 37.5 .25-17.7 .25-18.4 .25 46.1 .25-54.3 .25 4.7 .25 10.2 .25 42.8 .25 6.5 .25-39.7 .26-27.1 .25 15.7 .25 12.8 .25 0 .25 30.1 .25-8.7 .25-7.1 .25-24 .25 32.1 .25-1.3 .25-41.9 .26 66 .25-29.4 .25 37.9 .25-24.7 .25-28.9 .25 18.6 .25-25.1 .25 26 .25-9.2 .25-2.1 .25 39.3 .25-60.4 .26 38.1 .25-13.6 .25-14.6 .25 25.5 .25-35 .25 57.1 .25-55.6 .25 48.5 .25-32 .25-29.2 .25 46.9 .26 4.3 .25-35.5 .25-19.8 .25 92.3 .25-17.5 .25-20.8 .25 42.4 .25-16.3 .25-38.1 .25 20.1 .25-59.9 .26 21.8 .25 .3 .25 28.7 .25-.7 .25-10.2 .25-8.1 .25 19.4 .25-40.4 .25 14.1 .25 20.7 .25-55.2 .26 72.5 .25-10.1 .25-14.4 .25-10.6 .25 6.6 .25 35.8 .25-27.4 .25-9.8 .25 48.1 .25-44.7 .25 27.1 .26-84.8 .25 74.8 .25-27.3 .25 45.8 .25-25.5 .25-20.4 .25 9.7 .25-34.4 .25 29.5 .25 55.2 .25-17.8 .25-7.6 .26-50.9 .25 11.5 .25 30.2 .25-26 .25 11.7 .25 21.3 .25-33.4 .25 14.5 .25 28.4 .25-17.4 .25-7.8 .26 11.3 .25-77.9 .25 77.9 .25-49.4 .25 9.6 .25 41.7 .25 10.8 .25-61.1 .25 20.8 .25 14.6 .25 4.9 .26-7.9 .25 12.5 .25 17.4 .25-22.4 .25 9.3 .25 27.1 .25-33.1 .25-19.2 .25 13.4 .25-13 .25 38.3 .26-20.7 .25 33.4 .25-13.5 .25 22.4 .25-71 .25 17.2 .25 13.4 .25 19.5 .25-58.4 .25 55.8 .25 4.4 .26-49.4 .25 49.7 .25-3.3 .25-13.3 .25-47.1 .25 22 .25 49 .25-22.8 .25-31.8 .25 18.7 .25 6.5 .26-14.5 .25 30.4 .25-33.7 .25-.3 .25 20.6 .25-18.5 .25 10.4 .25-8.5 .25 36.5 .25-50.1 .25 49.3 .25-25.4 .26 9.4 .25-14.1 .25-17.1 .25 14.7 .25 14.9 .25-7.3 .25 3.5 .25 5.9 .25-2.4 .25-3.9 .25-.4 .26-23.2 .25 7.7 .25 5.9 .25 5.7 .25 8.3 .25 39.6 .25-36.2 .25 .8 .25-47.3 .25 51.9 .25-34.4 .26 15 .25 43.4 .25-8.5 .25-71.8 .25 38.4 .25-18.6 .25 18.1 .25-11.8 .25-42.1 .25 64.9 .25-11.4 .26 40.7 .25-13.6 .25-2.7 .25-4 .25 24.2 .25-37.1 .25 12.5 .25-3.3 .25-44.2 .25 40 .25 1.6 .26-7.4 .25-20.4 .25 12.7 .25 2.3 .25 27.9 .25-34.8 .25-8.9 .25-17.7 .25 36.5 .25 9 .25-10.4 .25-18.1 .26 41 .25 8 .25-56.2 .25 26.2 .25 1.2 .25 34.4 .25-23.4 .25-3.8 .25-10.1 .25 16.7 .25 5.5 .26-46 .25 11.3 .25 1.8 .25 32.3 .25-60.8 .25 45 .25 .3 .25 .5 .25 .7 .25-19.6 .25 47.4 .26-22.8 .25 17.4 .25-27.3 .25 4.9 .25-2.6 .25 8.4 .25-16.9 .25 14.3 .25-9.9 .25-37 .25 68.8 .26-53.9 .25 16.6 .25 36.2 .25-49 .25 44.8 .25-21.6 .25-18.3 .25 41.6 .25 .3 .25-1.4 .25-1 .26-16.7 .25 21.1 .25 21.8 .25-88 .25 49.6 .25 7.5 .25-30.5 .25 18 .25-10.4 .25-11.6 .25 2.5 .25 16.1 .26-9.2 .25 16.1 .25-24 .25 19.1 .25 28.6 .25 11.4 .25-31.5 .25 14.8 .25 2 .25-10 .25-38.8 .26 28.6 .25-14.9 .25 15.4 .25-34.6 .25 52.8 .25 13.4 .25-29.7 .25 6.8 .25-20.4 .25-8.6 .25 18.3 .26-15.1 .25 23.6 .25 .5 .25 13.6 .25-34.3 .25 34 .25-1.6 .25-14.7 .25-.4 .25-40.2 .25 71.6 .26-31.8 .25 7 .25-2.4 .25-.2 .25-14.1 .25-23.3 .25 47.1 .25 5.1 .25-48.8 .25 51.2 .25-27.1 .26 5.8 .25-27.2 .25 41.9 .25-15.8 .25 30.8 .25-45.8 .25-6.5 .25-13 .25 17 .25 21.9 .25-42 .25 42.7 .26 13.5 .25-18.1 .25 3.6 .25-5.1 .25-2.9 .25 7.5 .25-25.3 .25 41.5 .25-19.2 .25-25.2 .25 48 .26-1.2 .25-24.2 .25-9.2 .25 4.9 .25-18.7 .25 24.1 .25-16.3 .25 5.3 .25 60 .25-72.6 .25-18.6 .26 41.9 .25-20 .25 27.9 .25-12.7 .25 19.1 .25-16 .25 10.8 .25 18 .25-27.1 .25 1.3 .25 28.5 .26-43.8 .25-11 .25 45 .25-59.4 .25 57.8 .25-39.4 .25 23.9 .25-5.2 .25-2.7 .25-1.3 .25-1 .26-8.7 .25 48.9 .25-38.9 .25 42.1 .25-16.9 .25-32.7 .25 17.1 .25 19.2 .25-13.7 .25-.2 .25-11.1 .25 14 .26-3.2 .25-11.8 .25 26 .25-16.3 .25 1.8 .25 10.3 .25 8.1 .25-18.3 .25 34 .25-27.6 .25-2.8 .26-4.7 .25 2.8 .25 18 .25-27.7 .25 0 .25 12 .25 1.4 .25-2.8 .25-19.8 .25 7.1 .25-14.8 .26 39.7 .25-40.8 .25 24.5 .25 10.4 .25 4.1 .25-34.9 .25 50.9 .25-53.1 .25 30.8 .25-18.5 .25 5.8 .26-30.4 .25 85.7 .25-36.7 .25 33.2 .25-36.7 .25 6.7 .25 4.4 .25-9.9 .25 29.7 .25-59.2 .25 21.8 .26 23.1 .25-40.2 .25 5.3 .25 .1 .25 20.6 .25 4.9 .25-39.2 .25 1.7 .25 36 .25 11.5 .25-24 .25 25.6 .26-17.5 .25-16.8 .25 15.4 .25-21 .25 15.6 .25-37.7 .25 23.8 .25 24.5 .25-3.7 .25 10 .25-32 .26 44.2 .25-46.2 .25 3.1 .25 11.5 .25 26.7 .25-15.3 .25 1.5 .25-21.9 .25 22.2 .25-4.7 .25-8 .26-5.1 .25 18 .25-7.2 .25-32.6 .25-2.5 .25 34.5 .25 6.6 .25-35.7 .25 21.6 .25 1.4 .25-5.8 .26-8.5 .25 28.2 .25 18 .25-15.9 .25-19.9 .25-9.8 .25 33.1 .25-11.1 .25-20.4 .25 50 .25-1.4 .26-55.2 .25 20.6 .25 33.1 .25-27.7 .25-19.8 .25 31.4 .25 3.5 .25 13.1 .25-7.1 .25-19.8 .25 5.4 .26-16 .25-5.9 .25 38.1 .25-50.2 .25 20.8 .25 19.6 .25-3 .25 21.6 .25-58.2 .25-38.3 .25 35.2 .25-3.5 .26 45.1 .25-34.5 .25 5.5 .25 20.4 .25 14.9 .25-31 .25 23 .25 26.9 .25-36.7 .25-9.2 .25 18.1 .26 13.7 .25-5.2 .25-11.1 .25-11.2 .25-7.3 .25 30.5 .25 12 .25-20 .25-5.3 .25-20.8 .25 31.3 .26 1.3 .25-28.9 .25 2.9 .25 56.8 .25-50.5 .25-28.6 .25 23.8 .25 39.3 .25-16.2 .25-7 .25-4.3 .26 7 .25 3.1 .25-4.3 .25 8.9 .25-23.6 .25 13.9 .25 9.7 .25 6.5 .25-38 .25 19.5 .25 1.6 .26 33.4 .25-82.2 .25 21.5 .25 40.8 .25 2 .25 1.6 .25-8.2 .25 .8 .25-12.7 .25-33.9 .25 51.9 .25-33.4 .26 10.2 .25 5.8 .25 23.3 .25-2.2 .25-4.6 .25 2.3 .25-4.9 .25-19.9 .25-15.2 .25 47.6 .25-48.1 .26 9.2 .25 26.7 .25-52.2 .25 42.5 .25 3.8 .25-39.3 .25 40.4 .25-6 .25-5.2 .25 28.5 .25-30.9 .26 22.5 .25-38.1 .25 10.9 .25 25.7 .25-33.1 .25 18.2 .25-11.8 .25 .8 .25 3.2 .25-14.2 .25 2.8 .26 22.9 .25 15.8 .25-20.2 .25-23.3 .25-20.9 .25 52.6 .25 6.4 .25-8.3 .25-16.9 .25 21.1 .25-20.6 .26 17.2 .25 .5 .25-28.7 .25 1.7 .25 24 .25 5 .25-6.9 .25-4.6 .25 17.5 .25 14.7 .25-44.5 .25 32.1 .26 .9 .25-12.2 .25-16.2 .25 67.8 .25-47.3 .25-10.9 .25 13.3 .25-3.5 .25-39.7 .25 12.9 .25 50.3 .26-15.9 .25-16.6 .25-18.2 .25 19.6 .25-13.9 .25 19.9 .25-19.3 .25 26.4 .25 27.2 .25-42.1 .25 16.5 .26-9.4 .25-9.1 .25 5.8 .25 9.7 .25 10.9 .25-32.7 .25-3.5 .25 8 .25 2.4 .25 18.1 .25 0 .26-19.5 .25 1.4 .25 1 .25-33.3 .25 37.9 .25-4 .25 5.2 .25 8.2 .25-27.9 .25 29.4 .25-8.2 .26-14 .25 10.8 .25-27.5 .25 20.8 .25-13.6 .25-3 .25 22.1 .25-19.6 .25 4.3 .25 26.7 .25 1.6 .25-21.9 .26 11.4 .25-29.4 .25 45.8 .25 8.6 .25-23.4 .25 23.8 .25-48.8 .25 44.5 .25 .9 .25-44.3 .25-4.7 .26 17.5 .25-28.9 .25 38.9 .25-14.5 .25 5.5 .25 44.7 .25-45.8 .25 2.4 .25-8.5 .25 13.4 .25-18.4 .26 13.7 .25 8.7 .25 5.4 .25-14.7 .25-7.2 .25 11.7 .25-6.8 .25 4.9 .25 3 .25 24.5 .25-54.5 .26 32 .25-7 .25 28.6 .25-11.4 .25 18.2 .25-68.7 .25 43.2 .25-35.3 .25-15.3 .25 50.2 .25 5.8 .26-35.1 .25-4.3 .25-28 .25 76.1 .25-26.1 .25-48 .25 54.3 .25-33.3 .25 20.4 .25 19.7 .25 20.9 .25-45.7 .26 50 .25-39.7 .25 5.5 .25-41.7 .25 47.7 .25 8.2 .25 9.2 .25 9.1 .25-39 .25-19.1 .25 22.3 .26-19.1 .25-5.7 .25 46.4 .25-27.1 .25-14.1 .25-.9 .25 70.4 .25-33.8 .25-45.2 .25 47.2 .25-19.6 .26-28.8 .25 33.7 .25 12.8 .25-13.6 .25-.8 .25 2.3 .25-.1 .25 5.9 .25-4 .25-9.8 .25-12 .26 20.9 .25 12.5 .25 13.5 .25-61.8 .25 33.4 .25-17.1 .25 15.4 .25 27.1 .25-25.3 .25 5.4 .25 18.4 .26-13.7 .25-9 .25 18.9 .25-41.2 .25-4.9 .25 35.2 .25-.4 .25-16.8 .25 24.2 .25 21.5 .25-37.6 .25-11.8 .26 13.8 .25-52.3 .25 54.8 .25-54.6 .25 38.3 .25 38.8 .25-15.3 .25-10 .25 33.6 .25-47.5 .25-4.9 .26 30.2 .25-21.4 .25 34.3 .25-13.2 .25 38.4 .25-40.1 .25-14.1 .25-20.2 .25 39.9 .25 1.9 .25-16.3 .26 22.7 .25-50.6 .25 19.8 .25 2.4 .25 21.4 .25-7.4 .25 7.9 .25-27.6 .25-12.8 .25 26.3 .25-40.6 .26 37.8 .25 7.9 .25-26.4 .25 12.3 .25-13.7 .25 31.6 .25 9.9 .25-26.4 .25-6.1 .25 24.1 .25-24.2 .26 39.1 .25-21.8 .25 8.3 .25-.4 .25-19.2 .25-5.3 .25 7.6 .25 10.5 .25-18.4 .25-12.5 .25 31.9 .25 3.8 .26-8.3 .25 23.5 .25-33.7 .25-9.6 .25 44.1 .25-31.2 .25-3.5 .25 .4 .25 4 .25-6.5 .25 14.4 .26-9.4 .25 3.5 .25 12.8 .25-26.5 .25 31 .25-16.2 .25 12.7 .25 2.6 .25-23.5 .25-10.4 .25 51.8 .26-19.6 .25-42.9 .25 19.9 .25-2.2 .25 13.7 .25 1 .25-5.8 .25 5 .25-23.1 .25-14.3 .25 26.2 .26-28.3 .25 46.3 .25-6.3 .25-24 .25 26.2 .25-6 .25-27.1 .25 39.9 .25-13.1 .25-8.2 .25 5.2 .26-10.3 .25 15.6 .25-31.2 .25 33.1 .25-31.7 .25 44.6 .25 30.7 .25-28.3 .25-21.4 .25-12.2 .25 11.5 .26 15.8 .25-14.3 .25 14.4 .25-43.1 .25 21.6 .25-14.7 .25 14.8 .25 21.1 .25-22.3 .25 3.4 .25 21.4 .25-51.1 .26 40.8 .25-1.8 .25-32.2 .25 32 .25 6.6 .25 18.4 .25-32.2 .25 17.2 .25 .3 .25-20.5 .25-21.7 .26 27.7 .25 11.2 .25-51.5 .25 61.6 .25-16.3 .25 1.1 .25 7.6 .25-30.9 .25-23.1 .25 48.7 .25 .4 .26-18.8 .25-12.1 .25 6.8 .25 30.2 .25-22.6 .25-14.5 .25 20.9 .25-8.1 .25 12.7 .25 6.8 .25-33.3 .26 36 .25 24.8 .25-60.9 .25-.4 .25 48.9 .25-50.1 .25 13.3 .25-10.7 .25-5.3 .25 14.1 .25 6.6 .26 2.1 .25 10.4 .25-62.4 .25 44.4 .25-1.1 .25 13.2 .25 24.2 .25-27.7 .25-32.4 .25 56.6 .25-39 .25-9.4 .26 34.2 .25-41 .25-6.3 .25-35 .25 72.2 .25 7.5 .25-53.9 .25 7.2 .25-3.8 .25 5.7 .25 24.1 .26-30.5 .25 15.7 .25-16.6 .25 20.9 .25 61 .25-77.6 .25 18.1 .25-22 .25 46.5 .25-1.2 .25-15.2 .26-16.7 .25 37.6 .25-12.3 .25-.3 .25-17.6 .25 7.1 .25 6.8 .25 4.5 .25-23.5 .25 15.2 .25-15.2 .26 30.7 .25 13.2 .25-9.6 .25 1.6 .25-44.9 .25 53.5 .25-32 .25-1.2 .25 16.7 .25-55.1 .25 30.7 .26-17.6 .25 59.2 .25-37.5 .25 13.4 .25-2.4 .25 18.4 .25-8 .25-35.1 .25 22.6 .25 21.4 .25-9.7 .25-12.2 .26-15.8 .25 19.9 .25 17.8 .25-20.9 .25-23 .25-5.9 .25 58.9 .25 1.5 .25 1.2 .25-26.3 .25-2.8 .26 22.4 .25-65.7 .25 35.4 .25 24.3 .25-19.9 .25 6.9 .25-21 .25 35.2 .25 4.6 .25 5.9 .25-41.8 .26 1.2 .25 38.7 .25 12.6 .25 17 .25-39.9 .25-31.6 .25 24.6 .25-31.6 .25 45.7 .25-21.1 .25 1.5 .26 45.6 .25-64.3 .25 40.6 .25 1.4 .25-5.6 .25 30.8 .25-29.4 .25 1.4 .25 7.2 .25 15.7 .25-71.8 .26 64.2 .25-14.1 .25-17.5 .25-4.9 .25 21.7 .25-22.3 .25 46.5 .25-45.1 .25-19.3 .25 44.4 .25-50.7 .25 26.3 .26 13.9 .25-9 .25 28.2 .25 4.5 .25-23.7 .25 .6 .25-1.1 .25 34.9 .25-38.5 .25 19.6 .25 1.1 .26-3.9 .25 2.9 .25-39.7 .25 43.9 .25-12.2 .25-6.7 .25 24.3 .25-17.6 .25-23.3 .25 25.9 .25 4.8 .26-27.6 .25-10.3 .25 52.5 .25-23 .25 13.5 .25 15.5 .25-7.9 .25-5.8 .25 20.1 .25-48.3 .25 1.5 .26 33.8 .25-59.6 .25 49.1 .25 13.8 .25-20.7 .25-.6 .25 15 .25-21.8 .25 12.3 .25-28.2 .25 22 .26-1.6 .25-14.1 .25 9.2 .25 4.9 .25-3.6 .25-.2 .25 1 .25 13.2 .25-48.5 .25 14 .25 44.8 .25-63.6 .26 12.2 .25 19.2 .25 32.9 .25 5.8 .25-48.9 .25 22.3 .25-4.2 .25-7.6 .25 9.4 .25-11.5 .25 20.9 .26-43.2 .25 11.1 .25-12.7 .25 47.7 .25-23 .25-27.9 .25 46.8 .25-16 .25-.6 .25 4.4 .25-18.9 .26 14.5 .25-16.9 .25 49.8 .25-37.3 .25 5.2 .25 34.4 .25-47.5 .25 10.2 .25 3.6 .25 5.1 .25 7.2 .26-9.5 .25-10.3 .25 23.8 .25-9.1 .25 11.8 .25-41.6 .25 49.9 .25-34 .25 25.5 .25-11.4 .25 29.7 .26-43.2 .25 5.3 .25 24.4 .25-33.9 .25 9.8 .25-15.2 .25 36.2 .25-12.2 .25-2.7 .25-15.7 .25 33 .25-1.4 .26 5.9 .25-59.1 .25 70.1 .25-48.4 .25 31 .25-24.2 .25 16.5 .25-7.8 .25-23.4 .25 56.8 .25 15.2 .26-30 .25 7.4 .25-37.3 .25 13.4 .25 7.1 .25-.2 .25 24.6 .25-13.3 .25-13.1 .25-19.5 .25 45.6 .26-42.4 .25 47.4 .25-17.1 .25-29.6 .25-13.8 .25 24.2 .25-7.8 .25-5.6 .25 29.7 .25 10.1 .25-39.9 .26 27.3 .25-3 .25-4.9 .25 14.1 .25-64.7 .25 56.9 .25 48.6 .25-65.2 .25-15.2 .25 34.4 .25-22 .26-33.2 .25 33.1 .25 32.6 .25-42.9 .25-7.9 .25 21.9 .25 14.3 .25-45.6 .25 62.2 .25-31.1 .25 1.7 .25 57.6 .26-39.6 .25-12.4 .25-29.9 .25 18.9 .25 1.7 .25-35.5 .25-4 .25 74.3 .25-18.9 .25-20.1 .25 16.2 .26-13 .25 26.8 .25-41.4 .25 22.5 .25 19.3 .25-9.3 .25-2.5 .25-27.4 .25 15.1 .25 .9 .25 39.7 .26-18.6 .25 23.8 .25-23.3 .25 8.4 .25-20.6 .25-39 .25 51.3 .25-12.7 .25-26.2 .25-7.5 .25 13.8 .26 17.3 .25 32.4 .25-59.1 .25-2.6 .25 20 .25 21.4 .25-28.8 .25 32 .25-18.2 .25 26.3 .25-39.1 .26-9.1 .25-5.9 .25-2.5 .25 33.4 .25-23.7 .25 10.2 .25 27.5 .25-14.8 .25-8 .25 8.2 .25 1.4 .26 19.5 .25-24.9 .25-50.8 .25 53.4 .25 13.4 .25-25.4 .25-8.8 .25-.3 .25 18.1 .25 8.6 .25-46.9 .25 18.1 .26 32.6 .25 8.9 .25 .6 .25-48.7 .25 79.5 .25-58.9 .25 .4 .25 18.2 .25-6 .25-11.3 .25-.8 .26 9.4 .25 36.8 .25-58.4 .25 42.4 .25-60.8 .25 26.6 .25 12.2 .25 47.9 .25-44.8 .25-47.1 .25 35.3 .26 21.5 .25-20.6 .25 5.4 .25 16.5 .25 7 .25-11.3 .25 14.2 .25 4.7 .25-5.5 .25-38.9 .25 15.6 .26 1.6 .25 30.4 .25-45.9 .25-29.2 .25 55.9 .25-29.6 .25 26.1 .25-1.7 .25 4.4 .25-22.3 .25 10.3 .26-19.4 .25 32.1 .25-31 .25-3.7 .25 13.2 .25 51.2 .25-28.2 .25-5.2 .25 5.9 .25-12.2 .25 11.5 .25-6.1 .26-26.9 .25 29.8 .25-3 .25-14.9 .25 21.6 .25 11.1 .25-7.4 .25 16.9 .25-59.6 .25 31 .25-14.5 .26 55.4 .25-56.9 .25 36.8 .25-24.1 .25 15.7 .25-6.8 .25-11.6 .25-2.4 .25-23.9 .25 25.9 .25 13.1 .26-35.9 .25 37.9 .25-45 .25-2.3 .25 15.5 .25 26.9 .25-8.3 .25 10.5 .25-52.2 .25 36.7 .25 3.1 .26 35.5 .25-64.1 .25 7.1 .25 19.3 .25 45.4 .25-4.3 .25 4.9 .25-49 .25 19.2 .25-50 .25 42.8 .26-41.5 .25 21 .25 69.7 .25-42.3 .25-26.4 .25 3.2 .25 9.2 .25 7.9 .25 1.2 .25 26.6 .25-44.1 .25 5.2 .26 7.8 .25-12.5 .25 40.5 .25-42.8 .25-2.8 .25-3.5 .25 15.9 .25-35.6 .25 37 .25 .4 .25 8 .26-15.7 .25 3.8 .25 2.7 .25 3.2 .25-20.7 .25 46.7 .25-21.2 .25-17.5 .25 41 .25-23.3 .25 12.5 .26-63 .25 34.7 .25 15.2 .25-13 .25-16.2 .25 22.1 .25 22 .25-31.2 .25-11 .25 2.6 .25 56.9 .26-34.3 .25-1.3 .25-44.5 .25 50 .25-30.1 .25-7 .25 28.4 .25 11.1 .25-31.4 .25 42 .25-6.3 .26-21.1 .25-22.1 .25 21.9 .25 22.9 .25-39.3 .25 27.1 .25 7.7 .25-22.7 .25-1.1 .25 37.7 .25-56.4 .25 34.7 .26 9.7 .25-29.6 .25 20.2 .25 1.7 .25-21.8 .25-21.8 .25 28.7 .25 36 .25-42.2 .25 33.8 .25-48.6 .26 50.9 .25 8.4 .25 .9 .25-38.8 .25 12.3 .25-20.3 .25 5.9 .25 24.7 .25 21.1 .25-69.3 .25 14.2 .26 60.6 .25-43.2 .25-19.4 .25 34.2 .25-14.2 .25 17 .25 10.3 .25-32.7 .25 11.2 .25 6.5 .25-2.4 .26-10.4 .25-.2 .25 19.8 .25-8.8 .25-9.1 .25-37.6 .25 19.6 .25 45.2 .25-41.7 .25 20.9 .25-9.1 .26-17.3 .25 31.9 .25-20.9 .25 19 .25-28 .25 1.6 .25 41.5 .25-34 .25 5.7 .25-3.9 .25-12.4 .25 55.9 .26-41.1 .25-1.6 .25 5.8 .25-12.7 .25 12.8 .25 20 .25-27.5 .25 14.4 .25 31.6 .25-31.6 .25-27.8 .26 2.3 .25 15.5 .25-9.1 .25 5.3 .25-28.9 .25 73 .25-30 .25 2.6 .25-23.6 .25 3.5 .25-4.5 .26 7.3 .25 16 .25-5.8 .25-11.4 .25 38.6 .25-27.1 .25 2.3 .25-10.6 .25-20.6 .25 18.3 .25-2.3 .26 7 .25-37.9 .25 78.7 .25-52.1 .25 18.2 .25-27.3 .25 26 .25-10.1 .25-2.6 .25 12.2 .25-2.6 .26 3.7 .25-2.3 .25 7.8 .25 6.2 .25-36.3 .25-.4 .25 19.2 .25-15.8 .25 18 .25-10 .25-12.7 .25 7.3 .26 20.1 .25-47.8 .25 50.4 .25 3.8 .25-4.5 .25-5.6 .25-13.4 .25 35.4 .25-39.7 .25 27.2 .25 3.9 .26 1.2 .25 .9 .25-5.2 .25-22.7 .25 29.9 .25-59.6 .25 32.8 .25-21.6 .25 11.6 .25 14.1 .25 18.1 .26-11.6 .25-19.1 .25 3 .25-15.1 .25-.5 .25 22.9 .25 7.3 .25 16.9 .25-34.5 .25 29.1 .25-1.9 .26-45.3 .25 44.6 .25 11.4 .25-29.2 .25-14.5 .25 14.2 .25-13.5 .25 5.1 .25 36.1 .25-39.1 .25 4.5 .26 29 .25-29.2 .25 3 .25 24 .25 3.1 .25-16.9 .25 1.2 .25 7.7 .25-32.6 .25 6 .25 11.2 .26 16 .25-10.8 .25 29.3 .25-2.9 .25-65.1 .25 55.8 .25-21.4 .25 1.7 .25-15.4 .25-10 .25 15.8 .25 6.7 .26-17.2 .25 46.7 .25-22.5 .25 8.7 .25-3 .25 42.3 .25-15.6 .25-35.5 .25-14.6 .25 10.7 .25 23.1 .26-29.4 .25 43.3 .25-27.9 .25-4.9 .25-9.9 .25 9.5 .25 5.4 .25-22.3 .25 32 .25-15.2 .25-18 .26 39.7 .25-35.6 .25 4 .25 37.9 .25 9.7 .25-5.9 .25-36 .25 36.5 .25-11.7 .25-13.5 .25 4.6 .26-7.4 .25-9 .25-20.3 .25 20.4 .25 74.3 .25-56.3 .25-20 .25 26.5 .25-18 .25-6.1 .25-4.6 .26 16.3 .25 27.4 .25-61.3 .25 9.3 .25 14.2 .25-.3 .25 2.8 .25 13.5 .25-5.8 .25-12.6 .25 7.7 .25 15.2 .26-18.6 .25-.9 .25 16.3 .25 4.1 .25-30.4 .25 18.5 .25 17.6 .25-47.6 .25 43.3 .25-20.8 .25-7 .26-27.6 .25 52.6 .25-34.1 .25 46.4 .25 4.9 .25-45.3 .25 62 .25-54.8 .25 40.2 .25-71.5 .25 16.6 .26 24 .25 .9 .25 28 .25-40.6 .25 6.9 .25 7.1 .25-22.1 .25 29.1 .25-41.4 .25 57.5 .25 2.4 .26-20.5 .25-14.2 .25 14.5 .25-7.6 .25-11.5 .25 24.3 .25-5.6 .25 .7 .25-31.6 .25 33.9 .25 17.3 .26-34.3 .25 3.4 .25-13.1 .25 7.8 .25 3.8 .25-21.2 .25 28 .25-9.5 .25 14.6 .25-21.8 .25 33.4 .25-42.5 .26 34.3 .25 6.2 .25-37.6 .25-2 .25 7.8 .25 29.5 .25-29.1 .25-8.9 .25 5.8 .25 11.8 .25 12.4 .26 5.8 .25-47.3 .25 59.6 .25-64.4 .25 .7 .25 28.2 .25 12.7 .25-.8 .25-3.4 .25-5.2 .25-33.4 .26 41.1 .25-40 .25 36.8 .25-2.6 .25 24.8 .25-46 .25 69.2 .25-35.3 .25-24.8 .25 8.1 .25 7.3 .26 11.8 .25-20.1 .25 5.2 .25 20.6 .25-33.2 .25 26.1 .25-32.2 .25 57.8 .25-24.3 .25-29.2 .25 44.2 .26-42 .25 9.9 .25 43.2 .25-45.9 .25 3.6 .25-1.2 .25 37.6 .25-38.5 .25 35.5 .25-51.4 .25 68.6 .25-26.4 .26-21.6 .25-8.9 .25 8.6 .25 14.4 .25-19.5 .25-11.7 .25-10.4 .25 47.8 .25-22.5 .25 19.6 .25-10.9 .26 5.1 .25 14.4 .25-50.4 .25 27.8 .25 19 .25-41.9 .25 2.8 .25-2.3 .25 13.4 .25 22.2 .25-31.9 .26-.7 .25 24.7 .25-8.5 .25 31.6 .25-39.7 .25-14.5 .25 36.7 .25-25.3 .25 23.5 .25 .3 .25-10.3 .26-.8 .25 22.1 .25-25.7 .25 4.4 .25 11 .25 30.4 .25-50.6 .25 5.1 .25 25.2 .25 21.3 .25-42.3 .26-23.7 .25 41 .25 3.3 .25 20.3 .25-40.4 .25 4.5 .25 8.8 .25-19.8 .25-2.4 .25 4.2 .25-2.1 .25-3.4 .26 13.8 .25-18.5 .25 46.3 .25-22.3 .25-6.4 .25-4.4 .25 6.2 .25 24.5 .25-22.3 .25-18.8 .25 10 .26 31.5 .25-20.6 .25-.6 .25-40.1 .25 22.9 .25 8.9 .25-3.7 .25 47.1 .25-10.5 .25-24.4 .25-20.3 .26 34.4 .25-29.7 .25 19.4 .25 29.3 .25-28.3 .25 8.3 .25-32.1 .25 37.1 .25-16.8 .25 21.1 .25-21.4 .26 31.8 .25-33.4 .25 22.9 .25-52.4 .25 45.8 .25-39.7 .25-34.6 .25 40.3 .25 14 .25-11.2 .25 8.9 .26 4.4 .25 9.8 .25-25.6 .25 23 .25 17.1 .25-22.8 .25 13.6 .25-10.1 .25-12.7 .25 14.6 .25-36.5 .25 24.7 .26-14 .25 35.9 .25-4.1 .25-13.3 .25 4.4 .25 2.8 .25 12.7 .25-53.9 .25 25.1 .25 19.8 .25 9.3 .26-45.5 .25 .8 .25 14.7 .25 25.7 .25 21.8 .25-10.6 .25-1 .25-18 .25-14.2 .25 1.7 .25 24.9 .26-31.9 .25 4.4 .25 34 .25-9.3 .25-20.5 .25 15.8 .25-23.9 .25 49.5 .25-17.8 .25-25.8 .25 3.7 .26 18.3 .25-21.3 .25 12.7 .25 9.7 .25-44.9 .25-8.2 .25 9.2 .25 40 .25-26.1 .25-16.5 .25 27.3 .26 31.5 .25-30.9 .25 19.5 .25-13.8 .25-6.5 .25-6.5 .25-39.6 .25 10.5 .25 46.2 .25 1.9 .25-2.4 .26 7.7 .25-26.2 .25-8.4 .25 45.6 .25-10.2 .25-28.6 .25 6.9 .25-20.8 .25 40.2 .25-19.3 .25 18.2 .25-20.7 .26 6 .25 31.8 .25-20.4 .25 28.1 .25-14.1 .25-40.9 .25 24.8 .25-16.6 .25-18.5 .25 29.6 .25-3.2 .26-8 .25-7.3 .25 18.8 .25 9.7 .25 35.8 .25-59.1 .25 18.9 .25 19.6 .25-49.7 .25 24.3 .25 13.3 .26-3.2 .25-7.2 .25-30.4 .25 41.2 .25-27.1 .25 26.6 .25-21.1 .25-8.5 .25 9.3 .25-11.9 .25-1.9 .26 4.9 .25 37.4 .25-21.4 .25-5.4 .25 33.3 .25-14.7 .25-1.9 .25-32 .25 52.2 .25-43.8 .25 10.5 .26 11.7 .25-10.5 .25-10.3 .25 7.9 .25 4.1 .25 20.1 .25-40.7 .25 59.3 .25-50.1 .25 31.7 .25-17.6 .25 5.9 .26 6 .25-23.6 .25 2.2 .25-6.9 .25-17.8 .25 37.6 .25 2 .25 1.2 .25-23.9 .25 57.8 .25-70.4 .26 25.7 .25 5.9 .25 51.6 .25-39.6 .25-21.6 .25 6.9 .25-29.9 .25 23.1 .25 39.4 .25-37.5 .25-4.4 .26-2.4 .25 16.4 .25-9.9 .25 24.5 .25-12.7 .25 14.5 .25-26.7 .25 2.6 .25-15.1 .25 40.5 .25-5.4 .26-26.3 .25-3.4 .25-35.3 .25 31.7 .25 16.1 .25-13.6 .25-23 .25 56.3 .25-29.5 .25 1.3 .25 6.6 .26 9.3 .25 1.8 .25-31.8 .25 48.4 .25-39.4 .25 3.6 .25 4 .25 12.1 .25-24.3 .25 8.9 .25 27.4 .25-5.3 .26 10.4 .25-40.4 .25 10.7 .25-13.8 .25 9.6 .25-9.2 .25 6.3 .25 25 .25-8.1 .25-1.4 .25 14.1 .26 23.1 .25-27.4 .25-31.3 .25 11.2 .25-11.9 .25 22.3 .25-12.6 .25 14.7 .25-12.9 .25-3.6 .25 5 .26-25 .25 24.2 .25-.4 .25 17.8 .25 21.3 .25-38.6 .25 51.1 .25-53 .25 16.4 .25-33.8 .25 9.6 .26 5.2 .25-12.8 .25 41.3 .25-11.7 .25-33.8 .25 20.7 .25 10.1 .25 22.9 .25-50.1 .25 29.8 .25 14.4 .26-15.3 .25-18.4 .25 20.3 .25-9 .25 4 .25 15.9 .25-12.4 .25 7 .25-38.6 .25 32.9 .25 13.1 .25-22.3 .26 17.5 .25-12 .25 3.8 .25-41.2 .25 4.6 .25 35.1 .25-17.2 .25 41.5 .25-15.1 .25-22 .25-7.6 .26 18.9 .25 29.6 .25-18.7 .25-4 .25-52.6 .25 65.6 .25-67.8 .25 45.5 .25 16.1 .25-37.9 .25 28 .26 2.6 .25 27.1 .25-43.4 .25 9.7 .25 13.6 .25-22.9 .25 8.8 .25 .5 .25-5.4 .25-48.4 .25 51.6 .26 9.1 .25-21.1 .25 11.8 .25 3.8 .25 4.1 .25 17.4 .25-22.7 .25-11.8 .25 25.8 .25-81.2 .25 67.2 .26-16.6 .25 3.8 .25 18.2 .25-51.5 .25 48.6 .25 .5 .25-4.3 .25-24.4 .25 12.1 .25 15.4 .25-.2 .25 1.4 .26-10.6 .25 28.2 .25-20.1 .25 8.7 .25-8.7 .25 11.7 .25-1.2 .25-18.5 .25-13.3 .25 61.1 .25-26.1 .26-47.9 .25 48.2 .25-3 .25-32.1 .25 17.3 .25-20.8 .25 30.2 .25-20.6 .25-13.6 .25 27.6 .25 3.7 .26-2.6 .25 31.2 .25-29.7 .25-4.8 .25-40.4 .25 45 .25-4.5 .25 14.5 .25-10.1 .25 22.1 .25-31.5 .26 21.5 .25-75.8 .25 56.1 .25-3.4 .25-6.1 .25 1.8 .25-.7 .25 2.4 .25-1.3 .25-6.4 .25 23.3 .26 2.5 .25-17.1 .25 3.3 .25 4.8 .25 12.3 .25-13.1 .25-6.5 .25 31.6 .25-22.9 .25-.1 .25-13.3 .25-11.6 .26-26.9 .25 55.1 .25-9.3 .25-8.5 .25-4.6 .25-24.7 .25 10.5 .25 24 .25 3.6 .25-28.8 .25 22.2 .26 30.7 .25-4.9 .25-12.3 .25 9.4 .25-12.1 .25 .9 .25 31 .25-18.8 .25-1.2 .25 10.2 .25-45.3 .26 43 .25-31.8 .25 10.4 .25-3.5 .25 2.8 .25 14 .25-.2 .25 3 .25-34.4 .25 31.5 .25 26.1 .26-33.6 .25-12.1 .25-5.8 .25 18.6 .25-29.3 .25 19.4 .25 34.7 .25-40.1 .25-16.1 .25 5.3 .25 11 .26 17.2 .25 1.2 .25-39.3 .25 3.4 .25 15.7 .25-2.8 .25 10.4 .25 23 .25-16.9 .25-6.6 .25-1.9 .25-10.2 .26-.1 .25 10.9 .25-16.9 .25 5.4 .25 32.9 .25-26 .25-2.2 .25-1.8 .25 1.5 .25-1.7 .25 5.1 .26 16.1 .25-36.2 .25 7.9 .25 37.4 .25 4.7 .25-4.9 .25-21.2 .25 19.2 .25-19.2 .25-.8 .25-36.8 .26 45.7 .25 1.3 .25-20.8 .25 61.7 .25-41.7 .25-13.4" fill="none" stroke="#000" stroke-width="3.0" stroke-linejoin="bevel"/>
<path shape-rendering="crispEdges" clip-path="url(#cb)" d="M373.3 3131.4l.25 35.9 .25-65.8 .25 34.6 .25 6.9 .25 13.5 .26-49.4 .25 52.7 .25-44.4 .25 31.1 .25-14.9 .25 7.1 .25-20.8 .25-3.8 .25 47.1 .25-54.1 .25 8.4 .26-7.8 .25-11.3 .25 78 .25-85.8 .25 89.4 .25-24 .25-24.8 .25-17.8 .25 11.2 .25 7.3 .25-4.4 .26 42.6 .25-28 .25-62.9 .25 128.1 .25-57.1 .25-3.1 .25 20.7 .25-18.7 .25-5.5 .25 9.4 .25-3.8 .25 26.1 .26-42.2 .25 31.8 .25 12.4 .25-81 .25 68.3 .25-1.7 .25 37.1 .25-58.3 .25 37.1 .25-8.4 .25-35.9 .26 5.8 .25 32.6 .25-32 .25 3.6 .25 14.9 .25 20.7 .25-35.3 .25 51.2 .25-48.2 .25 10.4 .25 31.7 .26-4 .25-88.8 .25 114.5 .25-52.9 .25 10.8 .25-19.6 .25 3.9 .25-14.3 .25 5.2 .25 19.2 .25 35 .26-26.9 .25-19.7 .25 .7 .25-15 .25 33.4 .25 25.6 .25-15.2 .25-19.7 .25-17 .25-.1 .25 6 .26 50.6 .25-19.8 .25-23.5 .25 6 .25-12.6 .25 51.9 .25-45 .25 83.8 .25-55.4 .25-13.2 .25 10.7 .25-29.3 .26 27.1 .25-5.2 .25-15.9 .25 38.9 .25-57.5 .25 52.7 .25-29.9 .25 10 .25 16 .25-12.3 .25-4.5 .26 19.4 .25-64.1 .25 78.4 .25-24.1 .25-26.7 .25 15.5 .25-13.2 .25 63.5 .25-30.8 .25-6 .25-28.8 .26 50.6 .25-17.9 .25-46 .25 36.5 .25-.6 .25 12.4 .25-29.4 .25 73.7 .25-24.7 .25-5.4 .25-16 .26 3.5 .25 51.4 .25-52.9 .25 23.5 .25-86.9 .25 74.2 .25-31 .25 38.8 .25-6.8 .25 15 .25-39.7 .26-10.7 .25 61.8 .25-41.5 .25-5.7 .25-13.7 .25 44.4 .25-47.9 .25 63.4 .25-33.4 .25 16.8 .25-4 .25-32 .26 13.7 .25-55 .25 70.4 .25 16.2 .25-44.5 .25 22.3 .25 16.8 .25-40.4 .25-2.8 .25 68.9 .25-25 .26-35.8 .25 45.8 .25-56.5 .25 42.9 .25-12.1 .25 6.2 .25 30 .25-21 .25 13 .25-6 .25-34 .26 10.2 .25 21.2 .25-11.1 .25-28 .25 36.2 .25 9.1 .25-25.5 .25 30.3 .25 15.8 .25-70.6 .25 69 .26-28.5 .25-5.9 .25 17.7 .25-49.9 .25-.5 .25 35 .25 45.2 .25-43.4 .25 49.2 .25-52.2 .25-6 .26 12.6 .25-21.1 .25 25 .25 25.9 .25-10.1 .25-34.7 .25 75.9 .25-54.6 .25 35.9 .25-80.6 .25 87.8 .25 18.6 .26-72.6 .25 2.1 .25 37.8 .25-11.9 .25 28 .25-26 .25-23 .25 12.8 .25 8.3 .25 12.5 .25-39.3 .26-16.2 .25 8 .25 62.5 .25-34.4 .25 23.1 .25-11.1 .25-17.2 .25-52 .25 54.4 .25 7 .25 12 .26-24.8 .25 50.9 .25-53.2 .25-3.8 .25 41.8 .25-57.7 .25-15.2 .25 69.8 .25-35.5 .25 29.2 .25 5.1 .26-34.5 .25 11.5 .25 37.3 .25 5.5 .25-39 .25 37.6 .25-3.2 .25-22.9 .25 5.3 .25-19.6 .25-36.3 .26 74.1 .25-62.2 .25 65.2 .25-32.2 .25-22.8 .25-29.8 .25 92.3 .25-76.4 .25 40.7 .25-5.5 .25-8.7 .25-30.3 .26-12 .25 45.8 .25 23.2 .25 4.3 .25 32.5 .25-14 .25-59.2 .25 63.3 .25-10.5 .25-14.6 .25 3.1 .26 4.3 .25 3.3 .25-9.3 .25-46.1 .25 16.7 .25 13 .25 19.1 .25-18.6 .25-3.3 .25 25.7 .25 6.6 .26-31.1 .25 22.4 .25 1.1 .25-16.3 .25 1.3 .25 20.9 .25-58.3 .25 29.4 .25 11 .25-20.2 .25-14.6 .26 30.8 .25 58 .25-29.7 .25-25.6 .25-4.5 .25-28.4 .25 20.2 .25 17.7 .25-24.6 .25 32.6 .25-35.7 .26 56.7 .25-69.3 .25 38.4 .25-22.6 .25 24.5 .25 25.9 .25-26 .25-5.6 .25-4.2 .25 2.7 .25-6.3 .25 21.6 .26 25.4 .25-27.5 .25 20.8 .25-26.1 .25 2.3 .25-7.6 .25 13.2 .25-25.5 .25 1 .25-2.2 .25 6.9 .26-8.2 .25-3.9 .25 18.6 .25 50.5 .25-34.4 .25-48.9 .25 82.8 .25-50 .25 15.6 .25-45.3 .25 23.7 .26 14.7 .25-6.2 .25 37.1 .25-80.2 .25 27.9 .25 35.7 .25-7.1 .25-24.8 .25 27.3 .25 3.6 .25-37 .26 21.4 .25-11.5 .25-11.4 .25 38.2 .25-51.8 .25 13.6 .25 43.1 .25 5.6 .25-30.6 .25-4.3 .25 22.9 .26-10 .25-.7 .25 2.9 .25-15.7 .25-25.1 .25-7.5 .25 58.1 .25-16.1 .25 11.9 .25-11.3 .25 7.4 .25-37.9 .26 8.9 .25 33.2 .25-41.5 .25 43.9 .25-17.7 .25-9.4 .25 20.3 .25 8.5 .25-23.1 .25-10.1 .25 20.5 .26-41.2 .25 23 .25 26.9 .25-27.1 .25 22.4 .25-16.4 .25-4.3 .25 3.3 .25-22.6 .25 29.5 .25-6.3 .26 17 .25 26.1 .25-19.6 .25-14.5 .25 57.8 .25-61.5 .25-1.5 .25-15.2 .25 15.8 .25-15.3 .25 23.9 .26 9.4 .25-20.6 .25 33.8 .25-50.3 .25 53.3 .25-55.5 .25 43.3 .25-1.6 .25 12.5 .25-17.8 .25-6.7 .26 34.2 .25 5.8 .25-36.4 .25 31.1 .25-44.6 .25-11.5 .25 36.4 .25-79 .25 68.6 .25 22.4 .25-62.3 .26 29.8 .25 21 .25-9.8 .25-30.7 .25-4.4 .25 34.9 .25 22.1 .25-10.9 .25-26.2 .25 13.9 .25-6.2 .25-.2 .26-25.8 .25 40.6 .25-4.2 .25 42 .25-41.2 .25 34.1 .25-20.8 .25-17.7 .25 14.6 .25-10.2 .25 45.1 .26-38.6 .25-12.3 .25 3.5 .25-8.4 .25 23.7 .25-29.1 .25 26.2 .25-6 .25-26.7 .25-9.2 .25 12.5 .26 41.3 .25-16.4 .25 3.3 .25-12 .25-31.8 .25 9.6 .25 49.5 .25-32.4 .25 1.9 .25 19.4 .25-5.7 .26-32.6 .25 27.8 .25 .2 .25 6.3 .25 61.5 .25-73.3 .25-16.7 .25-23.6 .25-6.7 .25 70.1 .25-20.3 .26 11 .25-17.2 .25 28.5 .25-28.1 .25-7.7 .25 .7 .25 4.9 .25-12.9 .25 26 .25 4.5 .25-7.5 .25 5 .26-14 .25-13.9 .25 24.5 .25 33.6 .25-1.1 .25-43.3 .25-3.6 .25 1.6 .25 65.8 .25-70.8 .25-40.9 .26 57.8 .25 4.2 .25-27.8 .25 38.5 .25 6.9 .25-46.7 .25 44.6 .25-33.7 .25 25.4 .25-4.6 .25 12.5 .26-29.1 .25 11.8 .25 2.2 .25 6 .25 2.9 .25-34.7 .25 5.8 .25-3 .25 44.4 .25-32.8 .25 43.7 .26-67 .25-4.7 .25 8.3 .25 19 .25-1.7 .25 15.4 .25 13.7 .25-35.1 .25-3.1 .25 30.6 .25 20.3 .26-17.3 .25-2.5 .25 6 .25 24.4 .25-7.4 .25-31 .25-37.8 .25 68.8 .25-33.2 .25 10.2 .25-13.4 .25 5.4 .26-21.6 .25 22.2 .25 15.1 .25-18.1 .25 2 .25-15 .25 5.6 .25-.3 .25 11.8 .25 4.2 .25 2 .26-9.6 .25-20.7 .25-5.9 .25 43.3 .25-8.4 .25-3.4 .25-38.3 .25 55.5 .25-19.5 .25 50.1 .25-55.5 .26 26.6 .25-18.9 .25-19.1 .25 47.2 .25 19.7 .25-55.9 .25 21.5 .25-23.6 .25-20 .25 51.2 .25 6.8 .26-8.9 .25 18 .25-18.9 .25-38.9 .25 39.3 .25 14.1 .25-39.1 .25-2.6 .25 54.3 .25-45 .25 12.3 .26-18.6 .25 24.6 .25-7 .25 14 .25-68.7 .25 33.8 .25-3.9 .25 .2 .25 12.4 .25-24.6 .25 15.5 .25-42.3 .26 35.3 .25-14.8 .25 60.6 .25-16 .25-2 .25 21.2 .25-19.1 .25-.7 .25 13.2 .25-39.5 .25 28.5 .26-14.1 .25 33.6 .25-26.5 .25 11.4 .25-.2 .25-36.7 .25 13.2 .25 29.4 .25-1.9 .25-35 .25 31.8 .26-11.5 .25-32.5 .25 2.8 .25 24.9 .25 1.5 .25-5.6 .25 8.9 .25-4.5 .25-24.4 .25 17 .25 3.1 .26 8.7 .25-22.5 .25 28.6 .25-19.2 .25 32.1 .25-15.3 .25-12.8 .25 18.8 .25-17.3 .25 3.4 .25 11.6 .26-22.6 .25 8.1 .25 13.8 .25-11.7 .25-14 .25 37.8 .25 4.8 .25-42.3 .25 37.9 .25-7.7 .25 33.6 .25-38.7 .26-9.8 .25 33.6 .25-35.8 .25 33.2 .25-17.3 .25-31.5 .25-8.4 .25 34.6 .25-28.3 .25 38.6 .25-31.6 .26 50.7 .25-41 .25 14.5 .25 15.3 .25-16.1 .25 2.7 .25-3.8 .25-16.1 .25 28.9 .25-.4 .25-14.1 .26 10.3 .25-9.5 .25 23.4 .25-40.2 .25 35.4 .25-37.3 .25 1.1 .25 31 .25-27.4 .25-14 .25 32.1 .26-13.3 .25 26.5 .25-39.3 .25 17.1 .25-27.1 .25 12.3 .25 19 .25 17.4 .25-35.1 .25-5 .25 28.8 .26-25.1 .25 10.4 .25 14 .25 9.5 .25-13 .25-20.7 .25 37.9 .25-16.1 .25 0 .25 12 .25 5 .25-27 .26-12.7 .25 26 .25 17.9 .25-22.9 .25 7.3 .25-11.2 .25 26.7 .25-36.4 .25 25.7 .25-31 .25 22.8 .26 8.7 .25-5.1 .25-14.8 .25 .4 .25-9.1 .25 44.4 .25-12.2 .25-9 .25 36.8 .25-33.2 .25-17.2 .26 22.2 .25-12.4 .25 10.7 .25-10.4 .25 19.4 .25-40.4 .25 3.3 .25 11.6 .25-30.7 .25 26 .25 11.8 .26 36.9 .25-19.4 .25-32.8 .25-17.5 .25 40.4 .25-26.5 .25 30.4 .25-8.2 .25 6.9 .25-4.9 .25 2.1 .26-15.1 .25 29 .25-54.8 .25 18.4 .25 50.2 .25-7.7 .25-72.3 .25 63.7 .25-31.5 .25 30.8 .25-79.6 .26 90.8 .25-63.9 .25 24.5 .25 16.2 .25-.9 .25 12 .25 23 .25-52.1 .25-27.1 .25 43.5 .25-14.9 .25-8.5 .26 46.3 .25-18.9 .25 21.5 .25-43.4 .25 32.9 .25-49.1 .25 10.5 .25 36.3 .25-26.8 .25 4.8 .25 15.9 .26-8.3 .25-5 .25 37.7 .25-58.9 .25 35.7 .25 3.5 .25-28.2 .25 31.8 .25-51.2 .25 9.4 .25 21.6 .26-27.2 .25-3.2 .25 38.3 .25 28.7 .25-5.9 .25-16.9 .25-29.6 .25 3.5 .25 13.1 .25-40.6 .25 43.3 .26-17.6 .25 35.9 .25-9.3 .25-13.7 .25-18.8 .25 65.3 .25-70.5 .25 46.9 .25-41.2 .25 24.1 .25 23.4 .26-9.9 .25-57.1 .25 43.3 .25 6.5 .25 20.1 .25-7.7 .25-46 .25-5 .25-8.9 .25 29.1 .25 18.8 .25 13.4 .26-49.6 .25 37.4 .25 17.5 .25-19.7 .25-4.3 .25-24 .25 25.4 .25-29.9 .25 10.3 .25 12.8 .25 49.2 .26-2.2 .25-43.9 .25-12.4 .25-20.2 .25 67.4 .25-47 .25 1.8 .25-7.8 .25 15.8 .25 7.5 .25-2.8 .26-8 .25-14.7 .25 39 .25-6.3 .25 6.4 .25-17 .25 51.4 .25-77.8 .25 25.3 .25 22.8 .25-15.1 .26 2.7 .25 5.6 .25-9.7 .25-53 .25-6.3 .25 96.9 .25-42.9 .25-2.4 .25 29.5 .25-17 .25 .4 .26-5.1 .25 30.7 .25-7.8 .25-40.9 .25 4.1 .25-1.8 .25 1 .25 34.1 .25-32.6 .25 19.5 .25-24.8 .25 23.1 .26-16.5 .25 27.5 .25-42.9 .25 29 .25-7.8 .25 23.3 .25-44.1 .25 9 .25-12.2 .25 48.2 .25-29.1 .26 12.9 .25 4.7 .25-13.9 .25 16.5 .25-32.2 .25 47.4 .25-5.7 .25-1 .25-29.2 .25 32.9 .25 14.2 .26-38.2 .25-17 .25 36.7 .25-19.2 .25 15.3 .25-14 .25-3.8 .25 45.8 .25-70.2 .25 36.2 .25-21.8 .26 2.1 .25 37.6 .25-51.7 .25 39 .25 10.3 .25-28.3 .25-33.3 .25 13 .25 76.3 .25-38.6 .25-9.4 .26 12.1 .25 8.3 .25-6.5 .25 9.9 .25-51.1 .25 26 .25 24.3 .25-24.1 .25-25.4 .25 36.2 .25-29.4 .25 46.6 .26-17.2 .25-59 .25 50.1 .25 26.6 .25-54.6 .25 33.8 .25-25.6 .25 22 .25 29.1 .25-64.7 .25 34.9 .26 29.7 .25-55.1 .25 21.7 .25-42.6 .25 21.8 .25 17.4 .25 39.1 .25 .2 .25-28.8 .25 27.1 .25-32.7 .26-18.3 .25 11.2 .25-19.3 .25 9.8 .25 10.1 .25 16.6 .25 7.8 .25-9.2 .25-6 .25-24.5 .25 30.2 .26 12.5 .25 2.2 .25 1.6 .25-3.4 .25-55.6 .25 15.9 .25 17.8 .25-6.5 .25 15.9 .25 14.5 .25 7.1 .26-29.7 .25-11.4 .25-8 .25 34.2 .25-22.3 .25 33.7 .25-27.9 .25 11.8 .25-13.7 .25 38.9 .25-32.6 .25 3.8 .26 6.9 .25-28.9 .25 9 .25-3.7 .25-15.8 .25 48.3 .25-34.2 .25 51.1 .25-31.5 .25 20.4 .25-7.3 .26-24.1 .25-10.7 .25 7.4 .25-7.7 .25 2.3 .25 19.3 .25-13.6 .25 15.6 .25 14.7 .25-38.3 .25 26.2 .26 26.1 .25-1.7 .25-37.1 .25 8.3 .25 5.4 .25-12.2 .25 13 .25 1.4 .25 13.8 .25-29.6 .25-18 .26 42.9 .25-2.2 .25-25.6 .25-.6 .25-2.3 .25 25.1 .25-13.6 .25 13.9 .25-16.5 .25 28.5 .25-28 .26 32.2 .25-64 .25 65.7 .25-30.2 .25-22 .25 26.9 .25-14.1 .25 31.3 .25-37.4 .25-6.6 .25 1.5 .25 28.9 .26-33.5 .25 19.5 .25 5.9 .25 13.5 .25-26.4 .25 4.8 .25 19.8 .25 4.9 .25-15.3 .25 27.7 .25-44.7 .26 1.7 .25-4.3 .25 27.4 .25-61.1 .25 45.6 .25-19.7 .25 13.8 .25-6.1 .25 34.4 .25-39.8 .25 34.3 .26 19.8 .25-25.4 .25-30.3 .25 12.8 .25 9 .25 26.1 .25-41.2 .25 15.2 .25 21.2 .25-26.9 .25 22.7 .26 8.2 .25-21.1 .25-2.4 .25 26.8 .25-53.8 .25 44.2 .25-19.3 .25 18.7 .25 1.9 .25-5.3 .25 9 .26-11.5 .25-9.3 .25 29 .25-34 .25-2.2 .25 17.9 .25-16 .25 2.1 .25-8 .25 13.7 .25 11.3 .26 4.3 .25-7.6 .25-1.8 .25-15.1 .25 26.2 .25-2.9 .25-2.8 .25-34.1 .25-24.2 .25 68.7 .25 6.5 .25 3.3 .26-27.7 .25-3.6 .25-.3 .25 9.7 .25-7.6 .25-5.1 .25-43.1 .25 50.5 .25-11.4 .25 20.1 .25-11.2 .26-1.3 .25-41 .25 61.5 .25-10.5 .25 10.2 .25-21.4 .25 4.9 .25 21.8 .25-23.4 .25-.1 .25 3.5 .26 7 .25-19.8 .25 11 .25 0 .25 .4 .25 12.3 .25-7.1 .25-3.1 .25 12.1 .25-24.1 .25 33.8 .26-32.7 .25 21.9 .25 4.1 .25-13.1 .25 3.7 .25-18.3 .25 30.4 .25 2 .25-20.7 .25-28.3 .25 50.9 .26-41 .25-18.3 .25 47.8 .25-31.1 .25 23.6 .25 7.2 .25-2.1 .25 0 .25 11.3 .25-16.2 .25 9.8 .25-44.9 .26 9.6 .25 25.7 .25 .4 .25-18.5 .25-30.4 .25 17.8 .25 16.3 .25-18.1 .25 60.4 .25-.7 .25-35.4 .26 21.6 .25-15.3 .25 4.6 .25-7 .25-2.5 .25 12.1 .25 1.2 .25-23.2 .25 17.5 .25 4 .25 .7 .26 8.4 .25 5.2 .25-45.2 .25 49.1 .25-26 .25 4 .25 2.4 .25-10.8 .25-40.4 .25 16 .25 36.7 .26 23.8 .25-33 .25 7.3 .25 13 .25-29.4 .25 19.4 .25 2.7 .25-40 .25 13.7 .25 22.2 .25-31.5 .26 22.5 .25 13.2 .25 1.4 .25-3 .25-1.2 .25 10.9 .25-8 .25 16.8 .25 1.1 .25-31.7 .25-5 .25 13.6 .26 18.5 .25-15.4 .25 20.2 .25-1.9 .25-10.6 .25-19.6 .25-29 .25 25.3 .25 19.8 .25 9.7 .25-27.5 .26-6.5 .25 23 .25-23.6 .25-2.8 .25 21.1 .25-.8 .25 14.5 .25 10.9 .25-22.3 .25-4.1 .25 12 .26-.8 .25-24.5 .25 18.5 .25-46.3 .25 35.2 .25-10.8 .25 23.9 .25 .5 .25 4.2 .25 6.7 .25-40.4 .26 7.3 .25 25 .25-14 .25 0 .25 14.9 .25-13.2 .25 17.4 .25-16.5 .25-11.1 .25 15.7 .25-25 .26 9.3 .25 37.1 .25-30.5 .25 8.1 .25 2.9 .25 17.5 .25-37.6 .25 30.8 .25-30.3 .25 3 .25-10.4 .25 28.7 .26-27.5 .25 34.2 .25-42.8 .25 20.8 .25 7 .25-3.3 .25-12.5 .25 29.5 .25-16.4 .25 11.7 .25-10.9 .26 13.5 .25-14.7 .25-14.6 .25 30.5 .25-14.7 .25-19.4 .25 11.9 .25-13.6 .25 42.4 .25-7.9 .25-16.5 .26-18.6 .25 28.7 .25-27.1 .25 33.1 .25-42.8 .25 44.1 .25-45.5 .25 37 .25-3.2 .25 8.6 .25-12.3 .26-43.1 .25 29.7 .25 13.6 .25 3.5 .25-22.8 .25 37.5 .25-34 .25 .3 .25 14.1 .25-9.6 .25 6 .26-11.9 .25 8.7 .25-14.6 .25 22.5 .25-14.6 .25 5 .25 14.4 .25 3.7 .25-38.3 .25 60.2 .25 4.8 .25-59.5 .26-4.6 .25 .5 .25-13.2 .25 17.9 .25-5.7 .25 14.1 .25-9.6 .25-22.8 .25 24.5 .25 25.4 .25 6 .26-39.4 .25 39.3 .25-12.1 .25 1.6 .25-55.6 .25 45.8 .25 2.3 .25-22.4 .25 10.5 .25 40.6 .25-27.6 .26 35.9 .25-46.5 .25-10.2 .25 15 .25-37.1 .25 79.3 .25-73.4 .25 33.4 .25-9 .25 14 .25-11.2 .26-7.9 .25 31.7 .25-13.4 .25 6.7 .25 1.5 .25-27.7 .25 10.7 .25-15.2 .25 13.6 .25-6.9 .25-39.1 .26 22.7 .25 37.4 .25-3.5 .25-22.2 .25-8.5 .25 27.9 .25 11.5 .25-20.6 .25-31 .25 19.6 .25 15.1 .25-6.1 .26 11.1 .25-25.7 .25 40 .25-22.3 .25-16.6 .25 17.6 .25-22.1 .25-2.6 .25-15.2 .25 32.9 .25 19 .26 5.1 .25-24.3 .25 32.8 .25-54.8 .25 38.5 .25 .4 .25-7.4 .25-15.7 .25 14.9 .25-15.6 .25 12.4 .26-17.7 .25-16.8 .25 41.3 .25-15.1 .25 30.3 .25-28.6 .25-33.2 .25 12.6 .25-19 .25 32 .25 22.7 .26-38.6 .25-20.8 .25 40.2 .25 13.6 .25 11.2 .25-30.5 .25-21.5 .25 48.2 .25-14.3 .25 4.5 .25-28 .26 21.4 .25-32.3 .25 41.4 .25-13.1 .25-2.6 .25 4.7 .25-7.8 .25 2.6 .25-14.1 .25 17.1 .25-3.3 .25 9.7 .26-27.7 .25 4.6 .25 43.7 .25-46.8 .25-11.5 .25 47.6 .25-15 .25-21.6 .25 6.2 .25 11.9 .25-34.3 .26 33.1 .25-12.6 .25-21.3 .25 37 .25-21.5 .25 31.9 .25-9 .25-13.8 .25 12.7 .25-3.2 .25-1 .26 8.4 .25-23.2 .25-21.3 .25 40.3 .25 28.4 .25-26 .25 0 .25-25.2 .25 5.6 .25 32.3 .25-29.4 .26 32.9 .25-39.7 .25-16 .25 48.8 .25-31.5 .25 18.2 .25 3.1 .25-15.4 .25-5 .25 17 .25 2.7 .26-3.4 .25-19.7 .25-30.8 .25 23.7 .25 60.6 .25-46.5 .25 44.3 .25-64.7 .25 11.1 .25-8.8 .25-1.5 .26 16.9 .25 5.4 .25-29.4 .25 31.2 .25-17.4 .25 27 .25-1.5 .25-25.6 .25 17.4 .25 3.3 .25-19.6 .25 56.5 .26-20.1 .25-21.3 .25-31.5 .25 10.7 .25 6 .25 21.5 .25-20.2 .25 13.8 .25 24.6 .25-9.6 .25-60 .26 36.9 .25 1.4 .25-17.2 .25-1.1 .25 15.6 .25 2.8 .25 15.4 .25-60.3 .25 24.7 .25 13.5 .25 .6 .26 19.1 .25-41.3 .25-24.4 .25 60.9 .25-15.4 .25-34 .25 38.5 .25 22.2 .25 13.9 .25-49.9 .25 16.8 .26-22.1 .25 35.7 .25-37.2 .25 19.6 .25 29.4 .25-40.1 .25 6.6 .25 26.7 .25-34.5 .25 21.9 .25 7.2 .26-5.6 .25 .7 .25-16.3 .25 11.4 .25 6.1 .25-5.4 .25-13.6 .25-3 .25 19.1 .25-11.8 .25 15.5 .25 20.9 .26-36.6 .25-30.5 .25 29.6 .25-.5 .25 23.2 .25-11.1 .25-30.4 .25 34 .25-8 .25 6.6 .25-56.8 .26 11.4 .25 6.5 .25-15 .25 24.7 .25 5.8 .25-4.7 .25-5.4 .25-9.7 .25 56.3 .25 9.4 .25-56.1 .26 20.7 .25-12.3 .25-3.1 .25 59 .25-47.8 .25 12.7 .25 3.4 .25-1.7 .25-74.3 .25 58.1 .25 21.4 .26-40 .25 6.7 .25-16.7 .25 34 .25-21.5 .25 33.9 .25-36.3 .25 26.4 .25-13.6 .25 16.8 .25-.2 .26-12.5 .25 6.3 .25 16.1 .25-58.8 .25 34.8 .25 19.4 .25 14.8 .25-34.2 .25-9.7 .25 46.9 .25-26.3 .25-14.5 .26 16.4 .25-2.6 .25-26.6 .25 49.7 .25 7.8 .25-20.1 .25-5.7 .25-32.3 .25-3.6 .25 40.9 .25-18.1 .26 12.6 .25-4.4 .25-32.8 .25 39.3 .25-36.5 .25 21.4 .25-21.4 .25 33.2 .25 18.7 .25-71.6 .25-20.3 .26 18.3 .25 33.1 .25-2.3 .25-1.5 .25 2.3 .25-42 .25 30.4 .25-20.3 .25 28.6 .25-20.6 .25 40 .26-.7 .25 3.5 .25-36.6 .25-13.9 .25 39.4 .25-10.3 .25 19.6 .25-.6 .25 17.6 .25-56.9 .25 43.8 .26 4.9 .25-13.4 .25 2.3 .25-2.1 .25 7 .25-41.2 .25 26.3 .25-4.9 .25 7.7 .25 15.2 .25-17.1 .25 7.3 .26-15.9 .25 4.9 .25 18.1 .25-23.7 .25 19.7 .25-26.4 .25 31.4 .25-10.5 .25 .2 .25 10.6 .25-15.1 .26 9.7 .25-2.8 .25-42.7 .25 24.8 .25 29.2 .25-27.2 .25 20.3 .25 13 .25-8.4 .25-39 .25 53.9 .26-16.5 .25 1.8 .25-7.6 .25-30.6 .25 20.7 .25-24.3 .25 33.5 .25-32.4 .25 25.5 .25-20.5 .25 20.6 .26-31.2 .25-11 .25 48.7 .25-2.9 .25-23.7 .25 7.1 .25 33.4 .25-20.4 .25-18.8 .25-24.9 .25 48.6 .26 6.2 .25-26.4 .25 11.3 .25 7.9 .25-5.7 .25 9.3 .25-26.7 .25 50.3 .25-34.4 .25-13.9 .25 5.4 .25 56.9 .26-44.9 .25 16.4 .25-57.8 .25 3.2 .25 23.3 .25 13.4 .25-23.4 .25 1.8 .25 51.2 .25-67.5 .25 29 .26 30.8 .25-47.9 .25 48.7 .25-36.7 .25-19.6 .25-2.2 .25 19.8 .25 23.5 .25-34.2 .25-.1 .25-13.5 .26 58.7 .25-26.5 .25-2.7 .25 10 .25-.1 .25-8.1 .25 23.2 .25-20 .25-11.8 .25 43.2 .25-37 .26 10.8 .25-15.7 .25-22 .25 38 .25 12.3 .25-50.9 .25 26.5 .25 36.9 .25-49.1 .25 6.3 .25 33.1 .26-26.5 .25-11.1 .25 35.9 .25-29.1 .25 8 .25-11.4 .25-15.7 .25 24.7 .25 3.9 .25-25.8 .25 10.3 .25-32 .26 48.7 .25 16.1 .25-56.5 .25 31.3 .25 6.7 .25-11 .25-31.7 .25 63.6 .25 26.3 .25-31.8 .25 .8 .26-40.5 .25 27.2 .25-12.9 .25 8.2 .25 22.5 .25-48.7 .25 14.8 .25-23.7 .25 32.4 .25 24 .25-37.3 .26-18.3 .25 24.5 .25 26.9 .25-18.2 .25-32.1 .25-2.9 .25 48 .25-8.5 .25 34.4 .25-45.3 .25-2.7 .26-71.7 .25 72.7 .25-34.5 .25 29.3 .25 15.8 .25-28.4 .25-16.4 .25 56.5 .25-34.8 .25-12.3 .25 46.1 .26-29.3 .25 3.3 .25-10.8 .25-32 .25 56.4 .25 .7 .25-30.2 .25 9.8 .25 4.4 .25 43.9 .25-46.1 .25 2.1 .26 4.5 .25 8.2 .25-2.9 .25 .5 .25-37.7 .25 17 .25-5.9 .25 8.8 .25-7.6 .25 27.5 .25-44.2 .26 17.5 .25-11.8 .25 22.6 .25-8.3 .25-5.6 .25 13.2 .25 19.3 .25-24.8 .25-24.9 .25 16.2 .25 32.9 .26-28.6 .25-10.9 .25 10.7 .25 21 .25 13.5 .25-50.2 .25 16.1 .25-55.6 .25 50.3 .25-3.9 .25 28.6 .26-25.8 .25-24.8 .25 32.1 .25 9.1 .25 30.9 .25-35.2 .25 52 .25-64.2 .25-6.9 .25 42.6 .25-12.4 .26-5.2 .25 35 .25-12.7 .25-15.9 .25 13.7 .25-39.3 .25 .9 .25 14.1 .25-14.7 .25 46.6 .25-34 .26-2.9 .25 .6 .25 10 .25-7.8 .25-19.6 .25 26.1 .25 28.4 .25-29.7 .25 2.4 .25 18 .25-36.1 .25-12.1 .26 1.6 .25 10 .25 3.5 .25 35.8 .25-10.4 .25-38.4 .25 54.2 .25-23 .25-42.5 .25 53.9 .25-29.7 .26-19.4 .25 46.6 .25 20.2 .25-18.3 .25-32.5 .25 15.3 .25-37.5 .25-.7 .25 51.5 .25-34.8 .25 10.3 .26-8.7 .25 20.7 .25 5.9 .25-10.4 .25-27.4 .25 19 .25-7.8 .25-2.6 .25 4.7 .25 12.6 .25 22.6 .26-31.4 .25-11.9 .25 8.1 .25 15.4 .25-38 .25 40.8 .25-31.9 .25-9.3 .25 8.4 .25-1.1 .25 11.1 .26 16.5 .25 21.6 .25-39 .25-3.2 .25 41.1 .25-76.1 .25 29.4 .25 2.2 .25 4.4 .25 5 .25-14.9 .25 5.6 .26 31.7 .25-20.2 .25-14.8 .25 19.3 .25-35.5 .25 13.8 .25 2.4 .25 .7 .25-11.1 .25 78.7 .25-20.7 .26-25.6 .25 15 .25-9.1 .25 8 .25 26.6 .25-59.3 .25-11.1 .25 21.8 .25 24.9 .25-7.3 .25-48 .26 37.6 .25-36 .25 13.5 .25-14 .25 14.9 .25 8.2 .25 6 .25 12.8 .25-8.4 .25-11.7 .25 18.9 .26-34.6 .25 20.1 .25-13.8 .25-3.9 .25 52 .25-51.7 .25 14.7 .25-25.6 .25 25.8 .25 1.2 .25 24.3 .26 17.2 .25-45.2 .25 1 .25 8.7 .25-42.3 .25 35.9 .25-3 .25-42.4 .25 47.4 .25 12.4 .25-85.4 .25 43.1 .26-21.7 .25 54.3 .25-21.1 .25-18.9 .25 45.4 .25-7.2 .25 5.2 .25-35.2 .25 30.3 .25 5.4 .25 6.9 .26-14.1 .25-34.1 .25 64.2 .25-51.8 .25-2.5 .25 18.6 .25 10.1 .25-1.8 .25-45 .25 6.8 .25 12.1 .26 3.9 .25 26.5 .25 21.8 .25-26.3 .25-15.7 .25-10.3 .25 54.2 .25-8.3 .25-4.3 .25-45.9 .25 20.4 .26 2 .25 24.5 .25-38.6 .25 21 .25 8.7 .25 1.9 .25-6 .25-44.1 .25 39 .25 16.3 .25-25.3 .26-17.2 .25 45.5 .25-41 .25 72.9 .25-80.5 .25 3.9 .25 49.8 .25-33.2 .25-16.3 .25-18.2 .25 12.2 .25 22.1 .26-28.1 .25 18.5 .25 2.1 .25-45.4 .25 17.5 .25 7.8 .25 48.8 .25-11.2 .25 11 .25-60.6 .25 15.6 .26-7.7 .25-6.2 .25 33.1 .25 26.1 .25-26 .25-29.8 .25 2.3 .25 6.7 .25-25.6 .25 43.2 .25-61.1 .26 65.4 .25-12.1 .25 34 .25-50.9 .25-37 .25 12.9 .25 9.4 .25-25.9 .25 28.9 .25 13.9 .25 21.2 .26 11.3 .25-50.1 .25 49.4 .25-12.9 .25-4.8 .25 .8 .25-23.8 .25 32.5 .25 2.3 .25-28.9 .25 28 .26-5.9 .25-22.8 .25 21.5 .25 15.2 .25-42.6 .25 42.5 .25-25.6 .25 12.4 .25-12.1 .25-8.5 .25 5.9 .25 29.9 .26-16 .25 18.3 .25-48.9 .25 35 .25-21.2 .25 81.8 .25-67.3 .25 15.2 .25-9 .25 38.8 .25-7.1 .26-8 .25-7.1 .25 5.6 .25-22.1 .25 3.4 .25-24.1 .25 64.1 .25-1.8 .25-42 .25 22.9 .25 17 .26-16.5 .25-8.4 .25 44.1 .25-56.1 .25 46.8 .25-46 .25 6.3 .25 44.2 .25-18.9 .25-4.3 .25 9 .26 10.5 .25-2.5 .25-33.2 .25 22.1 .25 28.1 .25-23.2 .25 .3 .25-19.4 .25-15.4 .25 70 .25-66.6 .26 25.4 .25-13.8 .25-10.1 .25 25.7 .25-1.8 .25-30.8 .25 5.2 .25 6.7 .25-7.7 .25 26 .25 9.7 .25-15.1 .26 .7 .25-37.1 .25 69.7 .25 21.6 .25-46.6 .25-8.3 .25 28.5 .25-63.8 .25 26.8 .25 38.6 .25-23.2 .26 3.8 .25-27.6 .25 19.6 .25-47.6 .25 41.3 .25 25.9 .25-27.1 .25-5.4 .25-25.1 .25 32.6 .25 37.4 .26 7.4 .25-80.9 .25 52.4 .25 3.8 .25-20.1 .25-8.8 .25-10 .25-7.4 .25 21.3 .25 37.2 .25-47.6 .26 56.8 .25-44.9 .25-24.3 .25 7.9 .25 66.4 .25-53.1 .25 18.1 .25 48 .25-46.5 .25-.5 .25 17.3 .26-9.5 .25-39 .25 13.3 .25-7.4 .25 44.3 .25-50.7 .25-32.4 .25 40.4 .25 22.6 .25 9 .25-18.7 .26 30 .25-42.1 .25 21.2 .25-9.3 .25 10.3 .25 2.5 .25 19.8 .25-30.5 .25 47.5 .25-32.1 .25-3.4 .25-33.7 .26 1.4 .25 32.5 .25-24.7 .25 34.5 .25 4.4 .25-7 .25-21.2 .25 15.6 .25 35.7 .25-57.8 .25 11.8 .26-4.9 .25 3.5 .25 21.3 .25-31 .25 14.4 .25-3.7 .25 9.9 .25-41.1 .25 29.1 .25-29.5 .25 15.6 .26 49.2 .25-43.2 .25-8 .25 24.4 .25 22.5 .25-52.8 .25 23.5 .25 22.9 .25-45 .25 3.1 .25-34.9 .26 50.7 .25-12.4 .25 9.5 .25-24.4 .25 24.1 .25 13.3 .25-10.2 .25 1.8 .25-42.6 .25 5.9 .25-6.1 .26 48.8 .25-44 .25 16.7 .25 20.6 .25-65.7 .25 41 .25-27.7 .25-17.8 .25 67.4 .25 2.4 .25-67.9 .25 46.9 .26-54.1 .25 53.8 .25-14.5 .25-73.6 .25 2.5 .25 18.5 .25-12.7 .25 44.2 .25-28.7 .25 38.7 .25-106.5 .26 35.9 .25 49.8 .25-38 .25-73 .25 23.4 .25-6.7 .25 7.4 .25 22.7 .25 27.3 .25-69.3 .25 4.3 .26-23.9 .25 22.2 .25 9.3 .25 13.7 .25-3.2 .25-34.3 .25-47.9 .25 81.9 .25-40 .25-12.2 .25 64.2 .26-31.7 .25 9.8 .25 1 .25-1.9 .25 17.3 .25 6.3 .25 65.9 .25-57.4 .25-19.1 .25 18.4 .25-18.9 .26-8.6 .25 40.2 .25 67 .25-65.4 .25 7.4 .25 48.6 .25 16.2 .25-12.9 .25-31.9 .25 37.1 .25-13.2 .25 35.8 .26 18.2 .25-9 .25-8.6 .25 22.3 .25 6.1 .25-1.8 .25-31.8 .25-37.7 .25 27.7 .25 22.2 .25 54.2 .26-66.3 .25 40.8 .25 18.1 .25 7.9 .25-31 .25 31.2 .25-21.3 .25-37.7 .25 1.8 .25 37.2 .25 23.5 .26-14 .25-43.6 .25 9.1 .25-15.8 .25 64.2 .25-46.1 .25-20.5 .25 27.5 .25 15.4 .25-3.4 .25 15.1 .26 24.7 .25-68.2 .25 59.7 .25-38.1 .25 24.7 .25 11.7 .25-51.2 .25 45.3 .25 35.2 .25-67.3 .25-13.1 .26-1.6 .25 16.7 .25-16.7 .25 42.4 .25-26.6 .25 11.9 .25 35.1 .25-40 .25-1.1 .25 26.2 .25 24.2 .25-33.9 .26-7 .25 14.3 .25-21.6 .25-6.9 .25-12.3 .25 7.6 .25-14.4 .25 51.3 .25-52.2 .25 27.8 .25 35.4 .26-51.7 .25 12 .25 1.5 .25-48.2 .25-4.2 .25 4.9 .25 13.3 .25 23.7 .25-6.3 .25 63 .25-57.3 .26 13.2 .25-63.5 .25 84.4 .25-45.2 .25 1.2 .25-67.1 .25 77.8 .25-28.4 .25 17.2 .25-23.1 .25 11.8 .26-33.7 .25 32.2 .25-69.1 .25 20.9 .25-15.5 .25 1.5 .25-6.2 .25 3.9 .25 14.4 .25-21.9 .25 32.3 .26-57.6 .25 26.5 .25 7.9 .25-7 .25 14.9 .25-67.5 .25 51.8 .25-32.4 .25-12 .25-7.7 .25-5.5 .25 48.9 .26 2.2 .25-29.7 .25-7.1 .25 48.9 .25-43.6 .25-3.3 .25 13.7 .25 26.9 .25-24.7 .25 12.5 .25 78.1 .26-96.2 .25 49.4 .25-46.5 .25 63.3 .25 4 .25 42 .25-60.6 .25 23.2 .25-.3 .25 29.2 .25 2.1 .26 4.3 .25 20.4 .25-18 .25-20.8 .25 4.1 .25 39.8 .25-21.2 .25-1.2 .25 29.3 .25-49.2 .25 14.8 .26 40.1 .25-54.6 .25 62.4 .25-46.8 .25 5.9 .25 53.6 .25-50.4 .25-11.9 .25 55.7 .25-19.6 .25 3.6 .26 12.2 .25-20.9 .25 29.6 .25-23.3 .25 1.8 .25 35.9 .25-42.1 .25 18.8 .25 .3 .25-30.4 .25 27.4 .25 11.5 .26-20.5 .25-4.9 .25-3.1 .25 30 .25-17.1 .25-7.2 .25 49.5 .25-91.2 .25 46.6 .25-40.8 .25 38 .26 49.4 .25-40.8 .25-20.7 .25 35.5 .25-13 .25-5.3 .25-3.5 .25-3.5 .25-37.5 .25 41.2 .25 12.3 .26-13.1 .25 17.3 .25-19.7 .25-3.9 .25 6.4 .25-12 .25 9.3 .25 2.3 .25-25.5 .25 55.1 .25-21.8 .26-13.6 .25 .3 .25-31.1 .25-6.5 .25 23.2 .25 35.7 .25-31.7 .25 37 .25-18.2 .25 12.8 .25 20.4 .26-6.8 .25-44.7 .25 3.9 .25 50.9 .25-34.5 .25-2.4 .25-11.9 .25 8.2 .25-5.7 .25 17.6 .25-33.5 .26 9.5 .25 49.4 .25-3.4 .25-36.3 .25-7 .25 22.3 .25 11.1 .25-32.7 .25 32.1 .25-21.4 .25 9.1 .25-12.5 .26 41.8 .25-34.2 .25-29.3 .25 19.5 .25 22.1 .25-83.5 .25 69.6 .25 22 .25-4.4 .25-14.6 .25-17.2 .26 53 .25-51.4 .25-37.7 .25 43.2 .25-37.5 .25-8.3 .25 24.9 .25-2.7 .25-15.1 .25 27.9 .25-16.7 .26-33.6 .25 66.6 .25-38.9 .25-3 .25-50.5 .25 21.1 .25 14.6 .25-23.5 .25 48.4 .25-41.9 .25 31.6 .26-27.9 .25 13 .25-42.8 .25-41.2 .25 12.9 .25 31.5 .25 37 .25-90.2 .25 33.7 .25 17.9 .25-16.2 .26-41.4 .25-22.3 .25 43.9 .25 6.1 .25-10.7 .25 .2 .25 39.8 .25-9.6 .25-4.4 .25-20.9 .25-26.7 .25 49.9 .26-38.8 .25-17 .25 81.6 .25-40.6 .25 17 .25-30.2 .25 12.6 .25 25.9 .25-52.9 .25 64.2 .25-9.6 .26-19.7 .25-13.7 .25 62.8 .25-65.4 .25 34.3 .25 50.5 .25 27.5 .25-83.7 .25 57.4 .25 2.4 .25-6.3 .26 28.5 .25-38.8 .25 66.2 .25-26.9 .25 26.6 .25-6.7 .25-34.1 .25 36.9 .25-34.7 .25 36.7 .25-35.9 .26 65.5 .25-25.7 .25-41.7 .25 25.2 .25 12.9 .25-17.7 .25 18.3 .25 .5 .25-3.5 .25 43.8 .25-41.1 .26-39.9 .25 29.7 .25 35.7 .25-54.5 .25 73.9 .25-16.6 .25-51.5 .25 12 .25 5.2 .25-14 .25 .1 .25 28.5 .26 4.7 .25 6.7 .25-24.5 .25-20.8 .25 2.1 .25 44.5 .25-24.5 .25-33.7 .25 94.3 .25-65.7 .25-14.9 .26 2 .25 65.8 .25-64.9 .25 9.6 .25 17 .25-27.3 .25-.9 .25 22.4 .25 8.1 .25-12.7 .25-40.4 .26 39 .25 20.5 .25-19.5 .25 19.9 .25-24.7 .25-25.1 .25 27.8 .25 7 .25-4.7 .25 28.2 .25-5.6 .26 7.2 .25-22.9 .25 7.7 .25 2.7 .25-47.9 .25 37.1 .25-12.8 .25 25.8 .25 47 .25-55.8 .25 54.3 .26-33.4 .25 46.5 .25-34.2 .25-8.7 .25-57.6 .25 67.6 .25-26.5 .25 27.6 .25-13.4 .25 29 .25-23.4 .25 23.6 .26-2.2 .25-7 .25-5.5 .25-25 .25-1.5 .25 49.4 .25 12.9 .25-35.9 .25-5.1 .25 19.7 .25-13 .26-.5 .25 28.4 .25 15.6 .25-58.3 .25 3.7 .25 46.4 .25-23.2 .25 13.3 .25-4.6 .25 13.8 .25 15.8 .26-11 .25-42.3 .25 24.4 .25 21.9 .25-52.7 .25 50.6 .25-20.4 .25 39.2 .25-38.7 .25-9.9 .25 34.1 .26-15.4 .25 25.5 .25-35.8 .25-8.2 .25 12.8 .25 5.8 .25-15.7 .25 8.1 .25-17.2 .25 12.7 .25-13.9 .26 55.3 .25-25.9 .25 33.8 .25-27.9 .25-16.3 .25-2.4 .25 23.2 .25-12.9 .25 13.2 .25-8 .25-28 .25 9.3 .26 10.7 .25-10 .25 9.5 .25 34.6 .25-24.6 .25-9.5 .25 18.7 .25-17 .25 16.4 .25-35 .25 35.5 .26-34.1 .25 14.7 .25 23.2 .25-18.3 .25-4.8 .25 31.3 .25-24.2 .25-3.7 .25 30 .25-22.3 .25 7.3 .26 21.7 .25-25.4 .25-41.8 .25 53.2 .25-15.1 .25 32.3 .25-49.8 .25 22.1 .25-12.1 .25 13.1 .25-13.3 .26 21.1 .25-22 .25 2.7 .25-1.4 .25 33.3 .25-21.6 .25 5.9 .25-37.1 .25 14 .25 26.7 .25 4.3 .26-12.9 .25 18.9 .25-2.8 .25-2.7 .25 10.2 .25-49.4 .25 60.1 .25-18.4 .25-48.9 .25 42.4 .25-7.3 .25-6.8 .26 41.9 .25-28.6 .25-13.6 .25 50.5 .25-75.2 .25 11.5 .25 47.4 .25-14 .25-25.8 .25 26.5 .25-5.8 .26-13.5 .25 42 .25-45.2 .25-1.1 .25 10.6 .25 8.6 .25-21.7 .25 29.8 .25-14.9 .25 11.1 .25 25.9 .26-33.8 .25 4.9 .25 2.2 .25-5.5 .25 15.7 .25 5.7 .25-11.8 .25-12.2 .25 25 .25-28.5 .25 30.4 .26-9.4 .25-7.3 .25 15.3 .25-18.4 .25 29.2 .25-27.3 .25 18 .25-28.6 .25 26.3 .25-25.9 .25 22.2 .26-28.8 .25 19.9 .25-13.4 .25 8 .25-2.1 .25 3.1 .25 20 .25-22.7 .25 1.6 .25 9 .25-30.3 .25 35.9 .26-30.5 .25 37.1 .25-18 .25 25.3 .25-46.5 .25 12.4 .25 27.1 .25-41.8 .25 8.9 .25 11.6 .25-5.8 .26 22.2 .25-32.4 .25 59.9 .25-45.9 .25 15.7 .25-.4 .25 2.3 .25-5.5 .25-12.2 .25 1.4 .25-5.2 .26-2.3 .25-3.2 .25 38 .25-10.9 .25-39.6 .25 29 .25-29.5 .25 45.4 .25-2.8 .25-18.7 .25 18.2 .26-23.8 .25 18.9 .25-12 .25 37.7 .25-46.5 .25 16.9 .25 21.7 .25-14.1 .25 7.7 .25-20.2 .25 2.9 .26-6.4 .25 15.3 .25 20.2 .25-32.8 .25 27.9 .25-63.4 .25 62.7 .25-25.2 .25-22.6 .25 32.7 .25-42.4 .26 31.2 .25 29 .25-23.5 .25 5.2 .25-9.4 .25-11.7 .25 26.1 .25-17 .25 27.9 .25-5.2 .25-9.8 .25-13.4 .26 33.4 .25-14.4 .25-22.7 .25 18.6 .25 7.7 .25-21.6 .25 15.5 .25 1.3 .25-4 .25-22.8 .25 8.7 .26-17.7 .25 27 .25 10.5 .25 10.7 .25-18.3 .25-1.7 .25 19.9 .25-44.7 .25 16.3 .25 36.7 .25-34.2 .26 10.4 .25-4.4 .25-12.3 .25 33.4 .25-14.7 .25-32.9 .25 12.3 .25-2.9 .25 28.4 .25 2.5 .25 14.4 .26-28.4 .25-30.9 .25 47.7 .25-25.4 .25 18.4 .25-6.6 .25-27.4 .25 30.4 .25-14.1 .25 32.6 .25 7.3 .26-23.3 .25-2.5 .25-17 .25 8.2 .25 36.8 .25-63.3 .25 36.1 .25-9.2 .25-6.9 .25 16.2 .25-8.9 .25 4.4 .26-6.4 .25 25.9 .25 22.3 .25-34.6 .25-7.4 .25-9.9 .25-22.9 .25 28.6 .25-18.5 .25 57.2 .25-16.1 .26-12.6 .25 5.9 .25-6.8 .25 27.4 .25-39.6 .25 24.3 .25-18.2 .25-4.3 .25 30.8 .25-17.5 .25 2.5 .26 6.8 .25 10.9 .25-10.8 .25-21 .25 12.3 .25-9.9 .25-4.1 .25 26.1 .25-6.2 .25-25.6 .25 12 .26 14.2 .25 3.1 .25-7.3 .25 18.8 .25-12.6 .25 7.1 .25-25.4 .25-4.7 .25 22.9 .25-40.6 .25 48.9 .26-10.9 .25 2 .25-15.3 .25 7.5 .25-13.1 .25 2.5 .25-.3 .25-11.3 .25 20.5 .25 6.1 .25-3.7 .25 3.8 .26 12.3 .25-24.1 .25 23.1 .25-22 .25-.9 .25 22.4 .25-13.3 .25 11.9 .25-28.1 .25 28.6 .25-20.7 .26 25.3 .25-11.1 .25-54.7 .25 50.1 .25 15.6 .25-8.5 .25-4.7 .25 .3 .25 3.3 .25-25.4 .25 1 .26 15.1 .25-30.4 .25 26.6 .25 20.5 .25-19 .25-5.4 .25-7.2 .25 49.1 .25-28.6 .25-12.8 .25-9.4 .26 4.3 .25-16.2 .25 27.6 .25-19.8 .25 31.3 .25-29.3 .25 28.9 .25-29 .25 9.8 .25 22.5 .25-33 .26 26.7 .25-3.4 .25 0 .25-9.8 .25-29.2 .25 26.7 .25-15.9 .25-10.7 .25 37.9 .25-20.4 .25 2.4 .25 20.7 .26-1.3 .25 8.1 .25-24.5 .25 17.6 .25-7.5 .25-15.5 .25 9.9 .25-33 .25 23 .25 1.4 .25 42.3 .26-26.9 .25-4.8 .25 3.4 .25-20.5 .25 6.5 .25 42.4 .25-25.5 .25-14.2 .25 20.1 .25-5.6 .25 5.1 .26-27.7 .25-3 .25 .5 .25 13.6 .25 25.1 .25-31.6 .25-14.4 .25-8.3 .25 32.3 .25 2 .25-1.3 .26-9.9 .25 15.8 .25-27.5 .25-1.1 .25 14 .25 31.8 .25-47.8 .25 11.1 .25 26.7 .25-49.9 .25 31 .26 1.1 .25-9.5 .25 27.1 .25-22.9 .25 1.9 .25 .1 .25 16.9 .25-28 .25-5.2 .25 28.3 .25-13.6 .25-1.7 .26 .8 .25 18.5 .25-5.1 .25-14.8 .25 10.4 .25-22.7 .25 16.3 .25-14.3 .25 16.2 .25-17.2 .25-9.8 .26 59.9 .25-56 .25 20.9 .25-6.4 .25-3.4 .25 33 .25-35.8 .25 39.1 .25-16.5 .25 11.5 .25-12.4 .26-39.4 .25 28.1 .25-10.2 .25 13.1 .25 7.8 .25-15.3 .25-19 .25 53.7 .25-50.7 .25 3.9 .25 42.8 .26-21.4 .25-24.8 .25-8.7 .25 1.9 .25 29.2 .25-23.5 .25 6.4 .25 30.3 .25-4 .25 17 .25-36.7 .26 23.7 .25-29.8 .25 36.1 .25-27.6 .25 7.9 .25 9.6 .25-11.6 .25-9.8 .25 24.2 .25-24.2 .25 9.1 .25-1.2 .26-13.6 .25 22.1 .25 5.1 .25-5.9 .25-25.5 .25 14.2 .25 8.9 .25 12.5 .25-5.1 .25-11.2 .25-2.6 .26-5.8 .25 4.8 .25-11.1 .25 23.7 .25 16.3 .25-16.2 .25-19.1 .25 .4 .25 8.2 .25 .9 .25 15.9 .26-27.2 .25 1.4 .25 27.1 .25-26.3 .25 9.2 .25 27.2 .25-26.4 .25 25.5 .25-37.5 .25 11.4 .25 19.6 .26-26.9 .25 16.1 .25-33.2 .25 11.6 .25 11.1 .25-20.5 .25 28.4 .25-25.2 .25 5.9 .25 .7 .25 38 .26-21.8 .25 0 .25-2 .25-10.6 .25 19.3 .25 13.1 .25-40.1 .25 2.1 .25 37.1 .25-31.5 .25 5.8 .25-10.1 .26 20.2 .25-11.1 .25 17.5 .25-18.7 .25 .6 .25 5.4 .25-29.2 .25 14.7 .25 13.9 .25 .1 .25-31.7 .26 42.7 .25 .7 .25-5 .25 7.7 .25-15 .25 1.4 .25 9.1 .25-16.4 .25-12.8 .25 35.2 .25-36.6 .26 35.9 .25-5.9 .25 9.4 .25-20 .25-13.4 .25 6.3 .25-28.9 .25 34.9 .25-3.2 .25 28.3 .25-54.9 .26 59.5 .25-38.8 .25-3.3 .25-1 .25 22.7 .25 12.2 .25-44.4 .25 33.4 .25-24.1 .25 18.8 .25-7.6 .26 2.9 .25-9.7 .25 .9 .25-19.7 .25 37.3 .25-6 .25-39.5 .25 56.2 .25-26.7 .25-14.9 .25 32.8 .26-4.1 .25-27.4 .25 70.8 .25-65.8 .25 46.3 .25-16 .25-32 .25 17.3 .25-15.3 .25-21.6 .25 76.3 .25-59.2 .26 33.5 .25-4.1 .25 5.2 .25-14.5 .25-7.8 .25 27.2 .25-17.3 .25-7.6 .25-2.4 .25-11.2 .25 25.9 .26-.1 .25-21.5 .25 9.5 .25 17.3 .25-5.6 .25 1 .25-17.6 .25 44.4 .25-16.9 .25-15.5 .25 9.2 .26-2.5 .25-10.2 .25 9 .25 2.1 .25-15.8 .25 18.7 .25 7.5 .25-56 .25 15.7 .25 11.6 .25 11.5 .26-1.3 .25-27.1 .25 12 .25 23.9 .25 6 .25-23.5 .25 4.5 .25 37.1 .25-64.6 .25 6.5 .25 40.3 .26 15.1 .25-56.2 .25 34 .25-2.1 .25-19.6 .25 29.9 .25-20.3 .25-8.3 .25 30.3 .25-12.4 .25-7.8 .25-1 .26-7.2 .25-1.6 .25 30.9 .25-11.9 .25 1.6 .25-47.9 .25 53.4 .25-31.5 .25 6.4 .25-.6 .25 6.9 .26-7.4 .25 .6 .25-24.1 .25 24.9 .25 6.5 .25-4.2 .25-22.7 .25 27.8 .25 30.8 .25-40.3 .25 13.9 .26 28.6 .25-24.1 .25 8.8 .25-31.4 .25-13.6 .25 18.8 .25 18.2 .25 11.1 .25-42 .25 .5 .25-3.4 .26 9.6 .25-9.2 .25 30.2 .25-32 .25 20.7 .25-17 .25-16.9 .25 35.1 .25-8.7 .25-37.6 .25 19.1 .26-20 .25 35 .25-4.2 .25-22.5 .25 13.2 .25 24.4 .25-26.5 .25-15.5 .25 4.3 .25-18.3 .25 6 .25-7.7 .26 24.2 .25-18.7 .25 2.1 .25 8 .25 14.2 .25-42.5 .25 18.8 .25-47.7 .25 28.1 .25 7.9 .25-44.3 .26 48.8 .25-1.3 .25-25.2 .25-3.4 .25 8.4 .25-1.9 .25 4 .25-3.7 .25-21.8 .25-5.6 .25 25.1 .26-18.7 .25-20.5 .25 20.8 .25 21.3 .25-30.5 .25 24.2 .25 28.3 .25-69.2 .25 77.3 .25-35.3 .25 16.1 .26 19.7 .25-45.9 .25 37.3 .25-49.5 .25 44.1 .25-2.6 .25 52.6 .25-55.5 .25 7.2 .25 51.4 .25-84.5 .26 29.7 .25 40.4 .25-1.2 .25 2.3 .25-47.1 .25 24 .25 11.3 .25-32.8 .25 53.8 .25-20.2 .25 4.2 .25 19.8 .26 4.5 .25-50.8 .25 28.2 .25 9.2 .25 5.3 .25 46.4 .25-69.3 .25 67.4 .25-52.1 .25-11.6 .25 14.1 .26-17.6 .25 42.7 .25-37.8 .25 17.6 .25-1.3 .25 15.1 .25 3 .25-30.2 .25-16.4 .25 .6 .25 36.5 .26-9.4 .25-18.9 .25-5.1 .25 18.7 .25 17 .25-43.4 .25-.8 .25 8.3 .25 3.5 .25 19.8 .25 3.1 .26 3.1 .25-2.7 .25 1.8 .25 .7 .25-20.3 .25 6.6 .25-15.1 .25 15.3 .25-7.1 .25 22.6 .25 16.2 .26-1.5 .25-17.4 .25-34.1 .25 33.9 .25-69.2 .25 47.8 .25 35.1 .25-23.9 .25-56.7 .25 51.4 .25 11.2 .25-44 .26 23.7 .25 21.7 .25-4 .25-41.1 .25 3.6 .25 5 .25 55.1 .25-10.8 .25-24.8 .25-6.3 .25 25.7 .26-25.1 .25 33.9 .25-6 .25 35.9 .25-42.8 .25-2.6 .25 22.8 .25-15.5 .25 21.6 .25-8.3 .25-1.2 .26-2.4 .25-6.7 .25-10.7 .25 2.9 .25 27.8 .25-28.5 .25 3.4 .25 4 .25 45.1 .25-56.2 .25 25 .26 4.3 .25-12.1 .25 15.3 .25-50.4 .25 27.7 .25-9.3 .25 6.3 .25 18 .25-6.1 .25-15.9 .25 35.2 .26-21.5 .25 .9 .25-1.8 .25 26 .25-10.3 .25 27 .25-40 .25 17.9 .25 20.5 .25-18.3 .25-20.7 .25 6.3 .26-14.9 .25 16.5 .25 9.8 .25 16 .25-51.8 .25 7.4 .25 49 .25 5.5 .25-44 .25-44.9 .25 65.9 .26-18.6 .25 12.1 .25-15.9 .25 1.6 .25 15 .25-7.2 .25-2 .25 .2 .25 29.4 .25 .4 .25 6.6 .26-27.3 .25-7.3 .25 19.1 .25-1.4 .25-22.9 .25 24.1 .25-18.9 .25-13.3 .25 17.3 .25-9.6 .25 15.1 .26 26.5 .25-3.1 .25-35.7 .25 14.8 .25-33 .25 49.2 .25-47.8 .25 50.3 .25 13.9 .25-19.9 .25-36.4 .26 39.3 .25-43.9 .25 20.4 .25 2.1 .25-18.9 .25 27.6 .25-23.8 .25 28.2 .25-4.1 .25-24.6 .25 27.2 .26 6.1 .25-19.2 .25-10.1 .25 1.1 .25 30.3 .25-10.5 .25 9.9 .25 .4 .25-33.7 .25 30 .25-19.2 .25 11.6 .26-6.4 .25 2.6 .25 5.6 .25-33.2 .25 27.2 .25 19.7 .25-10.9 .25-.2 .25-29.4 .25 6.9 .25-1.1 .26-1.5 .25-6 .25 21.2 .25-7 .25-12.9 .25-2.5 .25 28.3 .25-38.9 .25 20 .25-11.9 .25 29.9 .26 9.7 .25-32.1 .25 14.7 .25-15.4 .25 23.4 .25-31.8 .25 28.1 .25-28.5 .25 12.8 .25-6.3 .25 7.4 .26 18.8 .25-8.3 .25-22.7 .25 19.8 .25 11 .25-30.8 .25-6.5 .25 21 .25-44.4 .25 42.6 .25-8.5 .26-8.7 .25 75.3 .25-60.9 .25 2.7 .25 11.2 .25-21.8 .25 5.4 .25 36.1 .25-43.7 .25 13.6 .25-11.9 .25 20.7 .26 12.3 .25-17 .25 7.6 .25-17.8 .25-12.1 .25 32.6 .25-29.6 .25 32.3 .25-20.3 .25-12.5 .25 14.9 .26 4.1 .25 3.4 .25-33.2 .25 20.1 .25-20.1 .25 32.1 .25-23.6 .25 14.4 .25 22.6 .25-29.6 .25 15.2 .26-13.6 .25 1.7 .25-25.7 .25 15.7 .25 56.1 .25-46 .25 1.1 .25-9.5 .25 2.9 .25-5.9 .25 14.1 .26-35.3 .25 31 .25 6.8 .25-6.9 .25 21 .25 20.3 .25-39.5 .25-19.3 .25 54.4 .25-16.5 .25 13.5 .26-68.2 .25 21.1 .25 18.7 .25-5.8 .25-1 .25 4.4 .25 13.5 .25-2.4 .25-11 .25-6.9 .25 25.1 .25 .6 .26-7.6 .25 4 .25-14.7 .25-6.7 .25 20.7 .25-.9 .25 13.7 .25 7.8 .25-24.3 .25-15.1 .25 35 .26 4.4 .25-31.8 .25 35 .25-11.2 .25-6.5 .25-2.6 .25-12.6 .25 10.8 .25-7.6 .25 15.3 .25 5.3 .26 5.8 .25-23.1 .25 13.9 .25-6.4 .25 8.1 .25 27.7 .25-35.9 .25 10.2 .25 14.1 .25-24.6 .25-.9 .26-18.6 .25-3.3 .25 34.5 .25-22.3 .25-11.9 .25 11 .25 26.2 .25-24.3 .25 12.1 .25-14.3 .25 11 .26 3.5 .25-42.2 .25 54.2 .25-8 .25-22.4 .25 18 .25 12.7 .25-14.4 .25 2 .25-14.1 .25-19.4 .25 45.8 .26-15.6 .25-3.9 .25 12.5 .25 27.5 .25-15.6 .25-5.4 .25 18.1 .25-21 .25-55.1 .25 42.9 .25 2.3 .26 10.9 .25 8.4 .25 14.1 .25-14.2 .25-4.4 .25 15.2 .25-48.3 .25 24.4 .25-13.5 .25 36.7 .25-6.6 .26-21.1 .25 3.7 .25-31.2 .25 15.7 .25 8.5 .25-2.9 .25-4.9 .25-.5 .25-2 .25 43.9 .25-21.6 .26 25 .25-8.5 .25 1.2 .25-37.9 .25 30.4 .25 34.2 .25-54.8 .25 14.5 .25-5.9 .25 15 .25-8.2 .26 3.7 .25-17.5 .25-10.8 .25 34.4 .25-15.2 .25 15 .25-18.7 .25 24 .25-9 .25-11.3 .25-21.6 .25 9.1 .26 19 .25 4.3 .25-20.2 .25 4.8 .25 6.1 .25 30.8 .25-26.7 .25-8.1 .25 30.2 .25-9.1 .25-37.7 .26 14.1 .25 23.3 .25 11.2 .25 5.6 .25-27.4 .25-30.7 .25 35.1 .25-17.6 .25 26.2 .25-7.5 .25-17.8 .26 49 .25-12.4 .25-26.6 .25-4.9 .25 6.6 .25 9.8 .25-2.2 .25-21.9 .25 7.2 .25 .8 .25-17.4 .26 38.8 .25-29.7 .25 45.5 .25-32.3 .25-8.4 .25 10.6 .25-8.9 .25 24.2 .25-17.8 .25-16.8 .25 45.7 .26-18.2 .25-35.8 .25 9.9 .25 22.2 .25-21 .25 11.9 .25 15.1 .25-7.9 .25 .8 .25 1.6 .25-5.9 .25 14 .26 22.1 .25-57.7 .25 38.9 .25-14.5 .25-3.4 .25-.7 .25 28.2 .25-32.6 .25 33.7 .25-43.8 .25-8.9 .26 29.4 .25-9.2 .25 6.2 .25 19.1 .25-1.5 .25-13.6 .25 2.6 .25-19.9 .25 8.6 .25-4.7 .25 17.2 .26 7.3 .25-8.8 .25 3 .25-1.7 .25-15 .25 15.3 .25-16.4 .25 32.1 .25-14.9 .25-19 .25 37.7 .26-49.2 .25 19.1 .25-29 .25 33.4 .25-5.1 .25-14.3 .25 44.2 .25-23.1 .25-11.1 .25 19.5 .25-12.7 .26 10 .25 19.2 .25-17.2 .25-16.8 .25 6 .25 12.8 .25-.7 .25 12.9 .25-23.4 .25-8.5 .25 9.4 .26-.4 .25-3.5 .25 13.6 .25 3.2 .25-6.6 .25 12.8 .25-1 .25-27.3 .25-1.1 .25 8.3 .25 21.5 .25-5.4 .26-31.1 .25 27.2 .25-11.3 .25 15.3 .25 7.9 .25-4.4 .25-3.7 .25-19.7 .25 22.7 .25-47.8 .25 13.5 .26 36.1 .25-18.1 .25-5.8 .25-5.8 .25 18.5 .25-1.8 .25-15.8 .25 24.2 .25-5 .25-24.6 .25 16.7 .26-11.7 .25-1.8 .25 25.9 .25 .3 .25-21.7 .25 6.8 .25 14 .25 12.1 .25-5.6 .25-9.5 .25-18.3 .26 7.1 .25 11.2 .25-22.6 .25 12 .25 3.7 .25 14.6 .25-2.7 .25-16.7 .25 17.2 .25 20 .25-12.4 .26-16.3 .25-12.4 .25 48.1 .25-27 .25-16.7 .25 4.4 .25 6.5 .25 11.5 .25-13.3 .25-2.3 .25-1.9 .25-21.9 .26 32.5 .25-3.8 .25-26.7 .25 13.1 .25-20.1 .25 39.3 .25-28.4 .25 35.4 .25-11 .25-1.4 .25 11.6 .26-30.5 .25 4.4 .25 30.5 .25-13.7 .25-18.6 .25-7.6 .25 5.4 .25 11.2 .25 28.5 .25-51.9 .25 49.7 .26-19.8 .25-18.5 .25-3.8 .25 39.3 .25-24.7 .25 14.6 .25-14.3 .25 12.3 .25 2.2 .25 10.9 .25-24.1 .26 31.5 .25 8 .25-20.9 .25-3.6 .25-20.2 .25-2.1 .25 41.9 .25-36.4 .25 21.6 .25-.3 .25-18.4 .26-15.9 .25 30.7 .25-8.5 .25 1.5 .25 17.4 .25-5.7 .25-13.8 .25-9.9 .25 21.8 .25-15.5 .25-13.3 .25 41.9 .26-12.4 .25 20.3 .25-55.7 .25 10.1 .25 17.6 .25-9 .25 2.7 .25-2.5 .25-4.4 .25-22 .25 40.3 .26-7.2 .25 11 .25-15.7 .25-4.3 .25 11.2 .25-12.4 .25 4.6 .25 14.6 .25-11.8 .25 14.5 .25 .5 .26-9.3 .25-6 .25-7.4 .25 26.5 .25-24.1 .25-4.1 .25 22.5 .25-25.1 .25 29.2 .25-32.6 .25 21.3 .26-17.7 .25 16.6 .25 .4 .25-5 .25 1.1 .25-19.9 .25 30.8 .25-5.8 .25-11 .25-2.3 .25 14.5 .26-6.3 .25-4.6 .25-7 .25-17.4 .25 27.7 .25-17.6 .25 15.3 .25 24 .25-19.8 .25-15.7 .25 29.5 .25-17.4 .26-.4 .25-3.5 .25-2.3 .25 10.5 .25 28 .25-50.5 .25 28.6 .25-11.3 .25-9.8 .25 5.2 .25-2.5 .26 7.9 .25 .3 .25-6.7 .25 19.4 .25-35 .25 13.7 .25-4.3 .25 22.1 .25-6.7 .25-12 .25 26.4 .26-21.3 .25 48.2 .25-7.7 .25-36.4 .25 22.9 .25 7.5 .25-6.1 .25-19.8 .25 18.6 .25-14.2 .25 9.4 .26-12.2 .25-27.5 .25 51.5 .25-15.9 .25-21.8 .25-9.1 .25 16.6 .25 .1 .25 2.8 .25 2.2 .25-6.4 .26 5.3 .25 6.4 .25-2.6 .25 13.8 .25-24.4 .25-9 .25 34.6 .25-23.4 .25 33.3 .25-24.6 .25-2.8 .25 5.4 .26-.9 .25-15.7 .25-13.6 .25 7.1 .25 41.2 .25-21.9 .25 21.3 .25-.4 .25-27.9 .25-17.2 .25 42.7 .26-29.7 .25-7.7 .25 20.3 .25-11 .25 9.7 .25 4 .25-4.8 .25 7.1 .25-31.4 .25 22.4 .25 12.7 .26-25 .25 24.8 .25-18.7 .25 20.5 .25-36.4 .25 25 .25-10.9 .25 15.6 .25 2.3 .25-3 .25-24.1 .26 1.3 .25 19 .25 10.7 .25-2.5 .25 12.2 .25-17.2 .25 16 .25-1.5 .25-3.8 .25-22.7 .25 1.1 .26 1.1 .25 3.1 .25 11.4 .25-14.2 .25 11.2 .25 6.4 .25-11.1 .25-10.8 .25 22.2 .25-7.1 .25 13.6 .25-18.8 .26 4.9 .25 19.6 .25-7.4 .25-16.3 .25 1 .25-12.6 .25-3.5 .25-7.1 .25-9.7 .25 35.8 .25 13.2 .26-9.1 .25-12.3 .25 .9 .25 25.5 .25-35.5 .25 15.9 .25 16.2 .25-21.7 .25-7.6 .25 2.3 .25 10.4 .26-.2 .25-10.7 .25 42.2 .25-12 .25-2.4 .25-14.7 .25-.8 .25 16 .25 .5 .25 3.5 .25-29.4 .26 4.9 .25 10.5 .25 4.3 .25-24.3 .25 28 .25 11.3 .25-31.4 .25 14.5 .25 25.6 .25-45 .25 4.4 .26 15.1 .25 9.2 .25-30.9 .25 21.9 .25-19.3 .25 8.5 .25-27.6 .25 9.8 .25 21 .25-18.3 .25 13.6 .25-.2 .26 14.1 .25-17.3 .25 31.8 .25-18 .25 5.2 .25-34.2 .25 13.8 .25-17 .25 47.4 .25-63 .25 19.6 .26 16.8 .25-30.3 .25 24.5 .25-10.3 .25 25.2 .25-.3 .25-3.8 .25 1.8 .25-27.2 .25 22 .25 13.8 .26-27 .25-6.7 .25 25 .25-12.6 .25-13.3 .25 10.4 .25 25.7 .25-10.1 .25-7.9 .25-46.7 .25 13.2 .26 12.2 .25 7.6 .25-26.3 .25 28.8 .25-11.1 .25 1.4 .25-10.7 .25 3.6 .25-21.2 .25 45.9 .25-24.2 .26-15.5 .25 5.2 .25 18.5 .25-4.7 .25-34 .25 14.7 .25 17.3 .25-.3 .25-4.5 .25-17.2 .25 20.6 .26-31 .25 16.1 .25-5.2 .25 19.1 .25 3.5 .25 1.5 .25 2 .25 31.7 .25-23.7 .25 15.6 .25-26.7 .25-3.3 .26 1.5 .25 22.4 .25-27 .25 .8 .25 39.5 .25-26.9 .25-5.7 .25 20.6 .25 15.9 .25-27.7 .25 43.7 .26-18.5 .25-13 .25 5.9 .25 12 .25 9.3 .25-27.1 .25 6.2 .25 3.7 .25 31.2 .25-32.5 .25 20.4 .26-38.6 .25 23.5 .25-14.1 .25 25.9 .25-12.3 .25 17.2 .25-41.9 .25 22 .25-2.9 .25-9.4 .25 41 .26-41.9 .25 12.4 .25-9.3 .25 19.9 .25 8.8 .25-36.1 .25 9.5 .25-5.1 .25 13.2 .25 39.6 .25-54.6 .26 2.8 .25 24.4 .25-27.4 .25 15.8 .25 24.9 .25-26.3 .25-2.7 .25-15 .25 6.3 .25 32 .25-12.8 .25-7.4 .26-25.9 .25 28.6 .25-6.3 .25-8.6 .25 4.9 .25 13.7 .25-8.8 .25-12.5 .25 16.7 .25-20.4 .25 30.6 .26-11.1 .25 14.4 .25-57.5 .25 40.2 .25 11.7 .25 17.8 .25-11.9 .25 4.4 .25-24.1 .25-8.5 .25 9.9 .26 13.2 .25-5.3 .25-17.2 .25 23.7 .25 10 .25-14.8 .25-24 .25 5.3 .25-13.6 .25 48.8 .25-35.3 .26 7.1 .25 12.2 .25 2.2 .25 9.4 .25-21.3 .25 14.6 .25-34.8 .25 38.5 .25-29.3 .25 29.6 .25 1.1 .26-11.5 .25-3 .25 19.8 .25-28 .25 22.1 .25-7.4 .25-8.2 .25 13.5 .25-22.3 .25 17.7 .25-22.7 .25 16.4 .26-9 .25 28.5 .25 5.1 .25-33.7 .25 42.2 .25-20.9 .25-23.3 .25 7.5 .25-5.1 .25 .2 .25 10.7 .26 .9 .25-.5 .25 25.4 .25-53.7 .25 55.7 .25-28.5 .25 4.1 .25-28 .25 36.1 .25 3 .25 7.7 .26-4.2 .25-3.6 .25-33.8 .25 35.3 .25 1.2 .25-24.6 .25 1.2 .25 .2 .25 18.8 .25-23 .25 43.7 .26-6.6 .25-18.9 .25 .5 .25 21.8 .25-11.9 .25-17.4 .25 22.7 .25-9.2 .25-25.7 .25 19.9 .25 15.9 .26-17 .25-25.7 .25 27.5 .25-13.9 .25 27.1 .25-30.2 .25 32.8 .25-21.1 .25 10.4 .25-23.7 .25-13.9 .25 31.7 .26 4.7 .25-32.5 .25 34 .25-6.8 .25 7.4 .25 7.9 .25-20.8 .25-11.3 .25 13.6 .25-1.5 .25 31.9 .26-16.1 .25-3.8 .25-1.6 .25 .2 .25 6.5 .25-.8 .25-15.7 .25 8.2 .25-25.2 .25 24.6 .25 3 .26-13.9 .25-6.8 .25 15.2 .25 11.9 .25-10.8 .25 16.1 .25-36 .25-4.4 .25 31.5 .25-25.1 .25 9.6 .26 5 .25-4.4 .25 36.6 .25-40.1 .25 31 .25-20.5 .25-24.1 .25 9.2 .25 14 .25 3.7 .25-5.5 .26-2.6 .25-11.3 .25 24.9 .25 6.6 .25-12.1 .25-2.4 .25-2.3 .25 5.5 .25-11.9 .25 13.6 .25-6 .25 6 .26-34 .25 24.7 .25-5.8 .25 17.9 .25-18.4 .25 20.1 .25-32.2 .25 9.8 .25-3 .25 28.5 .25-12 .26-12.6 .25 4.6 .25 4.5 .25-17.1 .25 28.2 .25-12.8 .25-3.1 .25 3.3 .25-22.2 .25 35.9 .25-20.7 .26-.2 .25-28.9 .25 50.8 .25-20 .25-3.2 .25 7.3 .25-5.9 .25-15 .25-7.8 .25 23.7 .25 14.1 .26-23.4 .25-.1 .25 31.7 .25-15.7 .25 .1 .25-13.9 .25 4 .25 11.6 .25 6 .25 16.3 .25-18 .26-29.1 .25 20 .25-14.2 .25 14.4 .25-27.9 .25 34.4 .25-4.2 .25 5.1 .25 6.5 .25-12.2 .25-1.7 .25-23.1 .26 28.9 .25 3.6 .25-14 .25 6.9 .25 8 .25-18.8 .25 9.6 .25 6.9 .25-20 .25 2.2 .25 11.7 .26-6.3 .25 5.1 .25 6.5 .25 5.3 .25 11.1 .25-15.4 .25-17.8 .25 17.4 .25-20.6 .25-.5 .25-1.5 .26 .1 .25 26.6 .25-7.8 .25 10.5 .25-8.4 .25-10 .25 .3 .25 15.6 .25-17.9 .25-3.2 .25-11.1 .26 38 .25-26.7 .25-18.8 .25 26.5 .25-2.6 .25 16.4 .25-21.3 .25-5.6 .25 19.7 .25 16.5 .25-9.6 .26-15 .25 10.1 .25-22 .25 11 .25 .8 .25 15.6 .25-36 .25-3 .25 54.6 .25-10.8 .25-19.8 .25-22.3 .26 8.9 .25 2.7 .25 5.5 .25 5.3 .25 5.2 .25-17.7 .25 51.4 .25-34.9 .25-42.9 .25 36.1 .25 14.1 .26-40.3 .25 39.6 .25-8.6 .25-8.7 .25 14.6 .25 16 .25-16.4 .25-6.5 .25-13.4 .25-7.1 .25 11.7 .26-7.2 .25 24.2 .25-34.7 .25-1.7 .25-4 .25 40.6 .25-26.4 .25 14.1 .25 .5 .25-8.6 .25 8.6 .26 1.9 .25-14.3 .25 16.8 .25 10.1 .25-13.1 .25-17.5 .25 .3 .25-2 .25-8.5 .25 19.2 .25 7.4 .26-11.8 .25-3.8 .25 29.9 .25-8.7 .25 1.8 .25-14.8 .25-15.3 .25 23.2 .25-5.7 .25 30.4 .25-41 .26 17.5 .25-20.7 .25-11.9 .25 30.5 .25 1.7 .25-9.2 .25-27.4 .25 21 .25 26.3 .25-28.2 .25 19.1 .25-41.7 .26 20.9 .25 16.3 .25-17.5 .25 15.9 .25 19 .25-36.6 .25-15.5 .25 2 .25 27.2 .25 18.1 .25-28 .26 15.4 .25-5.8 .25 5.2 .25-11.4 .25 13.1 .25-18.9 .25 11.7 .25 16 .25-16 .25-26.8 .25 18.4 .26 14.1 .25-3.6 .25-37.1 .25 31.9 .25-14.4 .25 3.4 .25 47.9 .25-37 .25 37.2 .25-2.7 .25-30.9 .26-2 .25 10.5 .25-6.7 .25-19.3 .25 7.3 .25 16.2 .25 6.4 .25-26.9 .25 9 .25-3.2 .25 10.3 .26-6.7 .25-6.2 .25 1.8 .25-8.4 .25 11.1 .25 1.4 .25-18.2 .25-9 .25 40.3 .25-46.2 .25 7.1 .25 7.6 .26 39.8 .25-8.9 .25 3.5 .25-14 .25 11.4 .25-13.1 .25-13.9 .25 19.3 .25-21.5 .25-8.8 .25 39.8 .26 .8 .25-36.9 .25 46.9 .25 2.8 .25-31 .25-8.1 .25 23.8 .25-30.5 .25 26.6 .25 8.2 .25-18.5 .26 1.3 .25-14.1 .25 .9 .25 22.6 .25 2.3 .25 4.1 .25-36.1 .25 20.4 .25 11.9 .25-.8 .25-17.5 .26 12.2 .25 4.9 .25 2.7 .25-36.7 .25 8.2 .25 40 .25-42.6 .25 30.9 .25-10.8 .25 18.6 .25-18.7 .26 1.4 .25-16.2 .25 17.2 .25 5.4 .25-16.1 .25 14 .25 11.2 .25-28.3 .25 17.5 .25-1.7 .25-5.4 .25 25.6 .26-38.2 .25 14.8 .25-14.4 .25-29.9 .25 30.5 .25 12.9 .25 1.1 .25-24.5 .25 43.8 .25-28.2 .25 16 .26-19.5 .25-3.5 .25 8.2 .25 1 .25 8.7 .25-14.5 .25 13.3 .25 3.8 .25 6.9 .25-34.7 .25 21 .26 9.7 .25-20.3 .25-4.1 .25 1.7 .25-21.3 .25 50.4 .25-4 .25-4 .25-1.9 .25-7.3 .25-8 .26 .4 .25 28.7 .25 4.1 .25-46.1 .25 34.4 .25-20.1 .25 14.5 .25-22.3 .25 11.4 .25-7.7 .25-5.1 .26 33.4 .25-14.4 .25 11.9 .25-23.4 .25 21.4 .25-24.3 .25 1.6 .25 15.8 .25 12.2 .25-43 .25 43.3 .25 6.1 .26-18.6 .25-3.4 .25 14.9 .25-1.9 .25-1.1 .25-.9 .25-14.3 .25 27.8 .25-8.2 .25-21.5 .25-6.2 .26 25 .25-29 .25 34.1 .25 20.8 .25-42.4 .25 4.3 .25 8.2 .25-14.2 .25 29.8 .25-45.1 .25 14.1 .26 35.5 .25-15.2 .25-20.6 .25 27.8 .25-28.1 .25 12.2 .25-.3 .25 8.4 .25-12.6 .25 15 .25-26.9 .26 10.5 .25 12.4 .25 7.4 .25-13.4 .25-18.2 .25 14.9 .25-4.5 .25-2.3 .25 29.9 .25-7.7 .25-21.6 .26 25.1 .25-33 .25 13.4 .25 11.4 .25 2.2 .25-32.4 .25 13.7 .25 13 .25-.8 .25 18.2 .25-27.6 .25 15 .26-30.2 .25 7.5 .25 22.6 .25-22.6 .25 .3 .25-13.9 .25 32.6 .25-11.8 .25 25.6 .25-40.2 .25 5.5 .26 10.2 .25 20.2 .25-6.1 .25-7.5 .25-5.3 .25-3.4 .25 6 .25 4 .25-2.3 .25 24.8 .25-25 .26 14.1 .25 2.1 .25-21.3 .25 33.5 .25-34.9 .25 28.4 .25 12.2 .25-39.7 .25 6.1 .25 23.2 .25-22.6 .26 8.5 .25 22.2 .25-28.8 .25 .6 .25 27.2 .25-27.7 .25 15 .25-25.9 .25 38.5 .25-16.4 .25 3.7 .26-25.7 .25 30 .25-.3 .25-13.1 .25 18.6 .25-25.6 .25 11.6 .25-7.8 .25-11 .25 12.9 .25 21.7 .25-2.7 .26-38 .25 5.7 .25 17.1 .25-20.6 .25 30.4 .25-11.2 .25-15.7 .25 13.9 .25-12.9 .25 2.3 .25-5.2 .26 28.4 .25-10.4 .25-31.4 .25 50.4 .25-28.9 .25-2.8 .25 20.1 .25-14.6 .25 15.4 .25-12.7 .25-23.7 .26 25.2 .25-8.9 .25 4.4 .25-6.2 .25 4.1 .25 19.5 .25-.4 .25-24.4 .25 22.8 .25-9 .25 13.7 .26-.9 .25-8.7 .25-44.4 .25 50.9 .25 6.9 .25-8.9 .25-21 .25 5.5 .25 25.7 .25 12.1 .25-27.3 .26 8.7 .25-20.6 .25 30.6 .25-22.6 .25 25.2 .25-17.9 .25-17.3 .25 8.7 .25 16.1 .25-7.1 .25-12.8 .26 32.4 .25-18.7 .25 23.9 .25-40 .25 7.4 .25-22.6 .25 29 .25-19.7 .25 29.6 .25 2.6 .25-12.6 .25 13.3 .26-24 .25 9.2 .25-9.1 .25 3.1 .25 .9 .25 4.8 .25 14.8 .25-13.9 .25-13.7 .25 21.3 .25-15.2 .26 22.7 .25-15.8 .25 18.4 .25-18.5 .25-9.2 .25 16.4 .25-29 .25 20.9 .25 20.5 .25-34 .25 14.9 .26 4 .25 7.4 .25-18.3 .25 5.4 .25-1.9 .25 12.5 .25 9.6 .25-2.1 .25-3 .25-13.5 .25-5.7 .26-.9 .25 17 .25-.8 .25-30 .25 16 .25-3 .25-7.3 .25 7 .25 1.6 .25 8.5 .25 7.9 .26-7.2 .25-19.6 .25 11.2 .25 1.1 .25 24.1 .25-16 .25 11.4 .25-19.4 .25 23.8 .25-27.3 .25 13.2 .25 15.6 .26-18.4 .25 14.9 .25-15.6 .25-2.2 .25-23.3 .25 35.3 .25-.7 .25-8.1 .25-2.5 .25-22 .25 41.2 .26-11.2 .25-23.1 .25 18 .25 4.4 .25 3.4 .25-6.6 .25 4 .25 8.9 .25-20.7 .25-7.7 .25 15.2 .26 13.5 .25 5.8 .25-32.8 .25 24 .25-1.3 .25 17.5 .25-28.3 .25-5.5 .25 38 .25-25.7 .25-11.8 .26 13.3 .25-6.1 .25 9.6 .25-13.7 .25-1.3 .25 0 .25-.7 .25 22.2 .25-5.3 .25-12.6 .25 17.9 .26-8.1 .25-4.2 .25-31.4 .25 36.8 .25-11.9 .25-2.4 .25 15.3 .25-17.8 .25 2.1 .25 6.8 .25 20.4 .25-4.1 .26-36.8 .25 43.4 .25-32.7 .25 11.2 .25-16.7 .25 25.9 .25-1.4 .25 6.8 .25-41 .25 34.4 .25-20.3 .26 16.7 .25 19.4 .25-23.3 .25-2.6 .25 5.1 .25-5.2 .25 18.2 .25 .6 .25-4.2 .25-7.2 .25 4.9 .26-28.3 .25 11.2 .25 13.2 .25-14 .25 10.5 .25-14.9 .25 31 .25-9.4 .25 15.5 .25-12.2 .25 6 .26 29.5 .25-51.5 .25-15.2 .25 21.4 .25-8.7 .25 30.2 .25-42.8 .25 12.4 .25 17.7 .25-1.1 .25-11.4 .26-8.1 .25 25.9 .25-23.6 .25 5.4 .25 12.5 .25-20.1 .25 16.8 .25-6.4 .25-7 .25-2.8 .25 27.1 .25-14.5 .26 5.7 .25 3.2 .25-12.4 .25 12.7 .25-1.1 .25 .5 .25-17.8 .25-.5 .25 26.8 .25-14.3 .25 1.4 .26-.8 .25-4.8 .25 1.9 .25 20.4 .25 15.8 .25-34.5 .25-16.8 .25 15.3 .25-19.2 .25 7.6 .25 7.5 .26-2 .25 6.2 .25-7.4 .25 2.4 .25 12.4 .25-5.9 .25-12.2 .25-1 .25 16 .25-14.5 .25 9.9 .26 3.3 .25-4.2 .25-6.3 .25 3.3 .25 24 .25-27.7 .25 12.2 .25-1.2 .25-13.3 .25 1.1 .25-23.7 .26 23.2 .25-9.4 .25 20.2 .25 21.9 .25 1.5 .25-34.7 .25-16.2 .25 21.3 .25 4.6 .25 1 .25-15.4 .25 23.5 .26-30.9 .25 14.4 .25 30.1 .25-27.5 .25 8 .25-1.7 .25-15 .25 7.2 .25 4.6 .25 2.8 .25-12.7 .26-6.3 .25 31.9 .25-16.2 .25 11.7 .25-10.1 .25-2.7 .25 14.1 .25-7.9 .25 5.9 .25 5.1 .25-6.8 .26-3.9 .25 16.4 .25-22.3 .25 9.9 .25-5.8 .25-3.8 .25 21.6 .25-15.8 .25-1.2 .25-15.3 .25 10.1 .26 2.2 .25 11.7 .25-4.4 .25 9.2 .25 4.8 .25-15 .25 7.4 .25-15.1 .25-9.8 .25 36.3 .25-12.7 .26-17 .25 31.3 .25-35.8 .25 25.4 .25-15.2 .25-18.4 .25 18.4 .25-10.5 .25 30.4 .25-25.6 .25 12.4 .25 4.1 .26-6.7 .25 13.4 .25-19.7 .25 9.1 .25 10.8 .25-17.6 .25-6 .25-2.8 .25 19 .25-23.3 .25 4.2 .26 8.8 .25 8 .25 3.8 .25-32.3 .25-2.5 .25 27.9 .25-15 .25 1.8 .25 4.7 .25 17.8 .25-22.6 .26 28.3 .25-11.6 .25 .5 .25-27.2 .25 45.4 .25-36.8 .25 23.3 .25 3.9 .25-3.4 .25-29.7 .25 15.7 .26-9.2 .25 19.9 .25-13.5 .25-4.3 .25 29.8 .25-20.9 .25-3.3 .25 .2 .25 6.6 .25 14.4 .25-15.4 .26-5.6 .25-.5 .25 17.6 .25-2.3 .25-19.8 .25 28.3 .25-23 .25 7.4 .25-4.3 .25-26.8 .25 26.5 .26-17.6 .25 28.2 .25-10 .25 7.9 .25-10 .25 6.4 .25 9.4 .25-17.8 .25-1.2 .25 6 .25 7.8 .25-3.2 .26-2.2 .25-15.8 .25 25.3 .25 7.3 .25-8.1 .25-14.1 .25 9.4 .25 .8 .25 11.6 .25-15.9 .25 15.3 .26-13 .25 2.3 .25 25 .25-19.4 .25-2.3 .25-1.8 .25 3 .25-9.1 .25-36.4 .25 34.3 .25 1.7 .26 10.8 .25-13.3 .25-9.3 .25 10.8 .25-4.9 .25-6.5 .25-10.8 .25 39.6 .25-9.2 .25 12.4 .25-3.6 .26-21.5 .25 21.8 .25-31.1 .25 27.7 .25-15.4 .25 4.5 .25-27.9 .25 15.7 .25-4.2 .25 15.2 .25-5.3 .26-12.7 .25 22.5 .25-12.1 .25 5.1 .25-.5 .25-1.2 .25 22.9 .25-10.2 .25 1.8 .25 6.1 .25-28.9 .25 36.5 .26-15 .25-15.4 .25-4.6 .25 22.7 .25-21.5 .25 7.5 .25 7.6 .25 7.8 .25-24.4 .25 19.9 .25-23.1 .26-.9 .25 32.4 .25-7.6 .25-5.9 .25-6.3 .25-10.6 .25 31.1 .25-24 .25 8.5 .25 4.9 .25-30 .26 20.4 .25 9.7 .25 3 .25-16.4 .25-9.8 .25-2.4 .25 8 .25 19.9 .25-7.1 .25 12.8 .25-16.6 .26-4.5 .25 15.8 .25-12.9 .25-1.5 .25-16.5 .25 20.6 .25 4.4 .25-19.9 .25 6.7 .25 43.3 .25-25.9 .26-20.5 .25 23.9 .25-35.1 .25 36.6 .25-24.2 .25 19.7 .25-14.8 .25 11.9 .25-10.3 .25 0 .25-.1 .25-4.8 .26 18.2 .25-13.3 .25-7.8 .25-12.6 .25 29.8 .25 9 .25-31 .25 18.1 .25-12.9 .25 7.3 .25 3.6 .26 16.3 .25-15.1 .25-11.5 .25-2.6 .25 16.8 .25-.1 .25-2.8 .25 6.7 .25-4.5 .25 3.2 .25-17.3 .26 28.5 .25-13.4 .25 5 .25-8.7 .25-.2 .25 22.4 .25-38 .25 9.3 .25 4.2 .25 16.7 .25 .8 .26-14.4 .25-11.4 .25 1 .25 25.4 .25-21.4 .25-25.5 .25 40.5 .25-7.3 .25 1.1 .25-22.3 .25 37.4 .26-27 .25 21.3 .25 .9 .25-31.4 .25 12.6 .25 6.7 .25-.7 .25 5.8 .25-13.8 .25-2.9 .25 20.7 .25-7.6 .26 4.8 .25-.7 .25-.9 .25 19.5 .25-14.1 .25-11.6 .25-7.5 .25-4 .25 3.6 .25 4.8 .25 5.6 .26 5 .25-9.9 .25-9.4 .25-1.5 .25 3.2 .25 34.5 .25-17.7 .25-1.9 .25 2.6 .25-6.3 .25 3 .26 3.1 .25-21.7 .25 11.1 .25 7.1 .25-6.3 .25 26 .25-24.7 .25 19.2 .25-18.2 .25 12.3 .25-10.7 .26-13.3 .25 27.1 .25-14 .25-4.3 .25 13.2 .25 4.7 .25-10.6 .25-6.4 .25 3.1 .25 7.1 .25-26.2 .26 19 .25-7.1 .25 28.9 .25-13.9 .25-1.4 .25 13.4 .25-24.6 .25 8.8 .25-17.1 .25 15.4 .25-3.8 .25-6.4 .26 22.4 .25-22.3 .25 2.3 .25 11.8 .25-10.3 .25-1.8 .25 4 .25 10.6 .25-25.9 .25 36.2 .25-9.3 .26 7.7 .25-6.9 .25-19.2 .25-2.7 .25 3.5 .25 6.2 .25 5 .25 23.1 .25-37.1 .25 3.1 .25-8.9 .26 16.9 .25-1.7 .25 13.6 .25-1.3 .25-25 .25 19 .25-14 .25-9.8 .25 21.3 .25 11.3 .25-36.7 .26 25 .25-8.5 .25 12.6 .25 20.3 .25-22.4 .25-8.4 .25-2.6 .25 3.5 .25 3.1 .25 9.2 .25-16.8 .26 .7 .25 40.8 .25-41 .25 36.6 .25-19.6 .25-21.6 .25 16.7 .25 17.5 .25-26.3 .25-1.8 .25-8.9 .25 10.6 .26 9.7 .25-13.6 .25 2.2 .25 3.6 .25 20.8 .25-2.6 .25-29.6 .25-5.3 .25 28.1 .25-23.1 .25-6.5 .26 32.6 .25 5.3 .25-24.2 .25-17.8 .25 44.7 .25-9.3 .25-24.8 .25 38.9 .25-6.1 .25-30 .25 15.3 .26 9.1 .25 2.6 .25 2.1 .25-19.3 .25-2.9 .25 12.9 .25-12 .25 4.9 .25-22.1 .25 13.7 .25-18.7 .26 29.6 .25-6.1 .25 13.6 .25-5.3 .25-1.9 .25 14.4 .25-3.5 .25-1.8 .25-6 .25-16.3 .25 1.8 .26 14.8 .25-3.3 .25-28.6 .25 .5 .25 27.7 .25-30.2 .25 25.3 .25 12.6 .25-23.1 .25 35.5 .25-45 .25 6.8 .26 31.9 .25-10.6 .25-14 .25 15.8 .25-5.3 .25-8.7 .25 3.7 .25 1.5 .25 2.2 .25-34.4 .25 15.6 .26 6.4 .25 15.4 .25-32.7 .25 25.4 .25 10.3 .25-20.3 .25-19.3 .25 43 .25-19.5 .25-4.6 .25 5.4 .26 8.2 .25-8.1 .25-12.7 .25 21.7 .25-18.9 .25 26.3 .25-22.8 .25 36.3 .25-50.2 .25 28.9 .25 10.3 .26-7.4 .25-34.4 .25-1.3 .25 27.5 .25-1.9 .25 9.4 .25-13.1 .25 4.7 .25-4.3 .25-11.3 .25 14.8 .26 4.7 .25-35 .25 20.1 .25 1.1 .25-2 .25 .3 .25 4.7 .25-7.8 .25 11.3 .25 22.2 .25-14.9 .26 21.6 .25-31.4 .25 1.3 .25-1.2 .25-16.1 .25 14.7 .25-12.9 .25 35.2 .25-30.6 .25 3.4 .25 7 .25 1.8 .26 7.7 .25-10.9 .25 2.8 .25 5.2 .25 25 .25-5.4 .25-27.1 .25 7.2 .25-9.7 .25 1.9 .25 2.2 .26 17.9 .25-26 .25 12.7 .25 5.2 .25-21.9 .25 18.3 .25 8.5 .25-26.3 .25 7 .25 10.8 .25-2.3 .26-4.5 .25 11.2 .25-5.4 .25-3.2 .25 1.1 .25 11.7 .25-26.4 .25 5.7 .25-9.1 .25 24.8 .25-36.7 .26 28 .25 12.5 .25-1.9 .25-12.7 .25 38.4 .25-32.2 .25-6.9 .25 17.2 .25-10.5 .25-1.4 .25 6.4 .26-2.4 .25-1.8 .25-.7 .25 11.5 .25-31.2 .25 19.4 .25-22.4 .25 3.3 .25-.2 .25-32.1 .25 78.5 .25-54.4 .26 6.6 .25 2.5 .25 10.7 .25 .2 .25-6.4 .25-3 .25 8.3 .25 10.9 .25-8.4 .25-13.7 .25 13.2 .26-12.7 .25-13.7 .25 19.5 .25 2.4 .25-12 .25 6.3 .25 6.3 .25 8.6 .25-10 .25-7.3 .25-4.2 .26 6.2 .25-6.8 .25 6.1 .25 16.2 .25-31.5 .25 28.8 .25-8.2 .25-5.1 .25-1.9 .25-1.4 .25 12.6 .26-12.3 .25 4 .25 7.2 .25 24 .25-40.5 .25 20.8 .25 7.4 .25-28.1 .25 11.3 .25 8.8 .25-15.3 .26 23.5 .25-29.9 .25 5.3 .25 17.8 .25-24.7 .25-17.2 .25 26.7 .25-12 .25 14.1 .25-32.3 .25 16.3 .25-22.6 .26 48.7 .25-20.9 .25-19.9 .25 38.7 .25-27.8 .25-17.3 .25 43.4 .25-24.2 .25 39 .25-20.7 .25-8.5 .26 7.7 .25-28.7 .25 38.7 .25-11.5 .25-6.7 .25-18.4 .25 27.8 .25-12.7 .25 14 .25 12.4 .25-11.1 .26 12.4 .25-9.4 .25 10.2 .25-24 .25 15.6 .25 1.5 .25 7.5 .25-5.7 .25 19.3 .25-20.6 .25-20.6 .26 15.2 .25-16.1 .25 4.3 .25 10.5 .25 7.2 .25-14.1 .25 .5 .25 18.9 .25-17.1 .25 18.8 .25-9.5 .26-5.8 .25 5.6 .25 6.1 .25 10.2 .25-10 .25-12.5 .25 5.9 .25 16.8 .25 3.1 .25-22.3 .25 13.7 .25-2.2 .26-.7 .25-1.5 .25 8.1 .25-14.8 .25 14.8 .25-28 .25 9.6 .25 3.8 .25-31.1 .25 48.9 .25 1.4 .26-14.5 .25-2.9 .25 7.7 .25-2 .25-4.5 .25-15.8 .25 17.6 .25-25.9 .25 15.2 .25-4.3 .25 18.6 .26-28.4 .25 19.2 .25-20.5 .25 34.6 .25 .3 .25-4.8 .25-.5 .25 13.5 .25-25.8 .25 21.5 .25 3.1 .26-8.5 .25 3.8 .25 2.1 .25-16.9 .25-8.3 .25 19.1 .25-26.5 .25-1 .25 6.3 .25 5.2 .25 19.4 .26-7.8 .25 6.4 .25-4.6 .25 7.8 .25-25.2 .25 14.7 .25 9.4 .25-5.6 .25-13.5 .25-13.6 .25 14.8 .25-.3 .26-4.4 .25 .4 .25 6.9 .25 1.2 .25 2.9 .25-10.2 .25 6.2 .25 15.6 .25-23.3 .25 32.1 .25-15.6 .26 28.9 .25-35.1 .25 21 .25-12 .25-2.3 .25 7.6 .25-9.4 .25 18.9 .25-22.4 .25 .6 .25 10.7 .26-1.9 .25-11.4 .25 .2 .25 3.6 .25 3.5 .25 10 .25-41.2 .25 46.4 .25-1.8 .25-11.3 .25 14.9 .26-3.3 .25-20.3 .25 3.1 .25 24.2 .25-29.8 .25-7.9 .25-17.4 .25 22.7 .25-3.3 .25 8.9 .25 8.5 .26-1.4 .25-12.7 .25 19.9 .25-20.1 .25 26.9 .25 1.4 .25-42.3 .25 27.9 .25-12.3 .25 17 .25-7.5 .25-19.8 .26 29.5 .25 8.7 .25-24.4 .25-8.7 .25 2.9 .25 20.7 .25-6.7 .25-8 .25 21 .25-27.7 .25 17.8 .26-5.3 .25 16.3 .25-4.6 .25-13.9 .25 17.4 .25-24.3 .25 10.4 .25 5.4 .25 3.2 .25 8.8 .25 3.6 .26-20.5 .25 2.2 .25-4.4 .25 4 .25-8.3 .25 7.4 .25 8.9 .25-7.1 .25-12.7 .25 11.2 .25 2.1 .26-13.8 .25 10.7 .25 8.9 .25-5.9 .25-4 .25-.4 .25 7 .25 5.4 .25-2.3 .25-19.8 .25 30.1 .26-6.4 .25-16.7 .25-.1 .25 .8 .25 26 .25-7.7 .25-4.8 .25 3.5 .25 7.8 .25-18.3 .25 4.9 .25 9.9 .26 22.1 .25-20.9 .25-20.6 .25 34 .25-13.2 .25-6.3 .25-16.2 .25 19.1 .25-21.3 .25 11.9 .25-10.8 .26 12.6 .25 7.7 .25 5.7 .25-30.3 .25 25.7 .25 8.8 .25-16.1 .25-12.9 .25 19.1 .25-3.7 .25-4.2 .26 21.1 .25-16.9 .25 16 .25-3.1 .25 5.6 .25-29.1 .25 24.3 .25-11.2 .25-3.9 .25 31.2 .25-30.9 .26-11.5 .25-.1 .25 5.8 .25 21 .25-41.5 .25 23.8 .25-4.2 .25-4.9 .25-13.7 .25 35.3 .25-18.6 .26 5.2 .25 16.9 .25-20.7 .25 4.5 .25-13.4 .25 5.4 .25 17 .25-10.2 .25-7.4 .25 15.2 .25-11.7 .26 5.3 .25 12.2 .25-4.6 .25 11.6 .25-7.2 .25-11.1 .25 5.4 .25 14.7 .25-12.8 .25-10.1 .25-4.5 .25-9.6 .26 21 .25 7.4 .25-16.6 .25 3.9 .25 6.9 .25 11.2 .25 .2 .25-34 .25 20 .25-5.5 .25 9.2 .26 11.3 .25-6.6 .25-23.2 .25 35 .25-5.8 .25-4.2 .25 12.2 .25-13.3 .25-2.2 .25-3.7 .25-10.7 .26 6.3 .25 24.5 .25-26.5 .25 23.1 .25-20.7 .25-2.2 .25 15.3 .25-23.9 .25 7 .25 7.7 .25-1.3 .26-4.7 .25 9.3 .25-24.8 .25 15.7 .25-4.4 .25 8.5 .25-13.9 .25 3.1 .25 7.6 .25-1.4 .25-2 .26-13.4 .25 29.5 .25-3.4 .25-10 .25-3 .25-3.2 .25-3 .25-15.9 .25 29.3 .25 10.9 .25-7 .25-23.6 .26 32.7 .25-38.1 .25 31.8 .25-14.9 .25 1.8 .25 0 .25-2.6 .25-2.7 .25 8.5 .25-17.2 .25 21.5 .26-18.6 .25 17 .25 8.1 .25-20.3 .25-.3 .25 31.6 .25-44 .25 19.2 .25 2.6 .25-11.2 .25 20 .26-6.7 .25-2.7 .25-12.5 .25 2.7 .25 28.9 .25 8.9 .25-25.5 .25-3.9 .25 12.6 .25-3.5 .25-13.8 .26 19.3 .25-5.2 .25-11.5 .25 4.6 .25 12 .25 11.2 .25-10.9 .25 2.4 .25-18.1 .25 .1 .25 .3 .26 6.9 .25-1.5 .25-6.2 .25 14 .25-5.9 .25-.8 .25 2.7 .25-10.6 .25-9.2 .25 16.1 .25-15.8 .25 19.2 .26 8.8 .25-35 .25 36.8 .25-2 .25-15.8 .25-.5 .25 1.8 .25-15.9 .25 2.3 .25-3.9 .25 20 .26-16.8 .25 6.2 .25-16.1 .25 26.6 .25 7.6 .25-17.3 .25 18.1 .25-8.9 .25 9.2 .25-.7 .25-8.2 .26-10.1 .25-.3 .25 23.1 .25 .6 .25-29.1 .25 8.1 .25-8.4 .25 31.7 .25-31.4 .25 30.6 .25-37 .26 12 .25 6 .25-16.2 .25 14.1 .25-2.2 .25 5.5 .25-8.6 .25 27.2 .25-6.3 .25-9.3 .25-19.9 .26 14.5 .25 8.2 .25-8 .25-8.3 .25 18.6 .25-6.2 .25 12.2 .25-5.3 .25-20.2 .25 15.2 .25 1.1 .25-9.4 .26-5.9 .25 22.3 .25 7.2 .25-24.2 .25 8.3 .25 17.6 .25-28.4 .25 3.9 .25 10.8 .25-7.4 .25-3.8 .26-6 .25 13.1 .25-.1 .25 15.1 .25-.4 .25-22.7 .25-13.9 .25 20.7 .25-24.8 .25 24.6 .25-14.6 .26 30.3 .25-9.9 .25-11 .25 17.4 .25-11.3 .25 15.3 .25-28.5 .25 3.8 .25-7 .25 15.8 .25-10.8 .26 20.1 .25-14.4 .25-16.2 .25 7.5 .25 15.3 .25-27.7 .25 18.1 .25 10.2 .25-14.7 .25 2 .25-13.7 .26 14.8 .25 15.9 .25-8.3 .25 9.3 .25-14.2 .25 6.8 .25 11.1 .25-17.4 .25 .6 .25-5.4 .25 21.9 .25-35.9 .26-4.2 .25 26.5 .25-9.4 .25 11.7 .25 6.2 .25 13 .25-9 .25-30.9 .25 16 .25-12 .25 10.7 .26-17.7 .25 18.4 .25 10.9 .25 23.7 .25-41.3 .25-1.2 .25 20.8 .25 6.8 .25-12.9 .25-26 .25 6.9 .26 10.4 .25-5.4 .25 14.3 .25-3.8 .25 7.6 .25-12 .25-12.7 .25 37.3 .25-37.1 .25 2.4 .25 21.3 .26-16.4 .25-5.5 .25 .5 .25 7.9 .25-7.3 .25-9.9 .25 24.3 .25 13 .25-19.7 .25-12.6 .25 7.4 .26-11.8 .25 7.1 .25 35.4 .25-20.8 .25-16.5 .25 22.9 .25-12.5 .25 3.6 .25 12.8 .25-35.4 .25 10.6 .25 2.8 .26 10.9 .25 4.3 .25 4.6 .25-13.2 .25-8 .25 23.9 .25-34.3 .25 10 .25-3.6 .25 9 .25 .5 .26 13 .25-33.3 .25 5.8 .25 8.2 .25 12.3 .25 1.5 .25-19.5 .25 14.1 .25-2.1 .25-16.6 .25-15.3 .26 48.2 .25-21.2 .25 7.9 .25-6.2 .25 9 .25-28.6 .25 25.2 .25 6.9 .25-11.9 .25-7.8 .25 .9 .26 7 .25 8.3 .25-14.1 .25 34 .25-5.4 .25 2.2 .25-32.5 .25 20.4 .25-32 .25 16.6 .25-1.6 .26 1.3 .25 14.6 .25-8.8 .25-5.5 .25-15.8 .25 25.9 .25-28.9 .25 18 .25 4.7 .25-13.2 .25 27.2 .26-16.5 .25 14.3 .25-16.5 .25 2.4 .25 10.8 .25 7.9 .25-27.5 .25 17.1 .25 8.8 .25-13.6 .25-.1 .25 3.6 .26-24.9 .25 8.6 .25 18 .25-6.1 .25 13.1 .25-10.7 .25 9.7 .25 5.6 .25-27.3 .25 12 .25-17.2 .26 12.6 .25 15.9 .25-14.9 .25-10.8 .25-19.3 .25 15.4 .25 7.6 .25 9.2 .25-30.5 .25 26.2 .25 1.3 .26-1 .25-7 .25 2.6 .25-8 .25 30.4 .25-20.7 .25-18.5 .25 20.5 .25-11.3 .25 14.6 .25 6.7 .26 8.7 .25-25.2 .25-8.9 .25 31.7 .25-38.5 .25 13 .25-7.1 .25 34.7 .25-14.6 .25 18.6 .25-19.8 .26-.5 .25-23 .25 21.5 .25 2.6 .25-2.7 .25 15.3 .25-2.2 .25-24.7 .25 10.4 .25 8.1 .25-4.7 .25-25 .26 24.1 .25 7.8 .25-29.7 .25 32.2 .25-26.7 .25 18.4 .25-8.2 .25-7.2 .25 12 .25-12.7 .25 12.8 .26 8 .25-30.7 .25 15.9 .25-4.1 .25-3.5 .25 19.2 .25-18.9 .25 19.6 .25-19.7 .25-4.8 .25 23.9 .26-17.7 .25 15.6 .25-13.2 .25 35.6 .25-24.9 .25-19.4 .25 16.7 .25-1.2 .25 18.9 .25 1.5 .25-38.6 .26 20.9 .25-11.8 .25 3.6 .25-20.3 .25 26.6 .25 2 .25-.8 .25-24.3 .25 50.5 .25-41.3 .25 13.3 .26-11.2 .25 .6 .25 20 .25 9.3 .25-15.4 .25-.1 .25 11.5 .25 4.7 .25-9.4 .25-11.9 .25-10.5 .25 19.7 .26-16.1 .25-4.1 .25-6.9 .25 21.1 .25-14.6 .25 40.4 .25-29.9 .25-14 .25 30 .25-10.1 .25-2.4 .26 6 .25 15.1 .25-30.8 .25 .4 .25 8.1 .25-7 .25 10.1 .25-14 .25 25.1 .25-22.1 .25 36.4 .26-15.9 .25 9.6 .25-20 .25-13.6 .25 16 .25 4.9 .25 .7 .25-.9 .25 8.3 .25-.8 .25-7.3 .26 8.7 .25-34.2 .25 24.3 .25-3.5 .25 9.1 .25 8.3 .25-.8 .25-19.1 .25 21.1 .25-12 .25-1.7 .26 1.2 .25-20 .25 31.1 .25-9.2 .25-3.5 .25 8.6 .25-7.5 .25 2.3 .25 5.2 .25 1.9 .25 6.9 .25-18.8 .26-1.9 .25 16.6 .25-25.1 .25 3.3 .25 2.2 .25-.3 .25 15.4 .25-11.9 .25 11.1 .25-11.8 .25-2 .26 2.6 .25-5.1 .25 30.7 .25-27.8 .25 16.2 .25-3.6 .25 15.8 .25-18.1 .25 12.7 .25-14 .25-19.7 .26 31.5 .25-5.5 .25-11.8 .25 5.8 .25 6.2 .25-16.1 .25 26.6 .25-13.3 .25 9.9 .25-8.3 .25 9 .26-23.3 .25 36.1 .25-17.8 .25 14.4 .25-9.1 .25-1.3 .25 5.9 .25-17.4 .25-6 .25-4.6 .25 10 .26 4.4 .25-21.7 .25 37.9 .25-7 .25 3.1 .25-15.4 .25-19.6 .25 16.9 .25 31.3 .25-27.2 .25 14.1 .25-6.9 .26-13.4 .25 3.1 .25 22.1 .25-14.8 .25-3.2 .25-1 .25 8.9 .25-6.9 .25-17.4 .25 36.8 .25-12.1 .26-2.3 .25 .3 .25 16.4 .25-37.4 .25 14 .25 4.3 .25-4.5 .25-16.1 .25 13.7 .25 10.7 .25 16.6 .26-32.2 .25 14.1 .25 9.1 .25-14.9 .25 16 .25-36.4 .25 24.6 .25-3.7 .25-7.5 .25 6 .25 20.2 .26-4.6 .25-12.9 .25-4.3 .25-5.4 .25-.9 .25 24.4 .25 6.1 .25-15.5 .25-.1 .25-2.2 .25 .6 .26-4.9 .25-25.9 .25 33.8 .25-14.1 .25-6.5 .25 12 .25-6.1 .25-1.4 .25-2.3 .25-8.2 .25 17.6 .25 5.3 .26 5.4 .25-27.4 .25 23.8 .25 20.9 .25-27.4 .25-.1 .25-6.6 .25 6.8 .25-7.9 .25 6.2 .25 12.8 .26-5.3 .25-9.9 .25 9.8 .25-1.1 .25 7.3 .25-4.2 .25 13.8 .25-9.8 .25 3.8 .25-8.7 .25-1.1 .26 14.1 .25-16.7 .25-1.7 .25-4 .25-8.1 .25 25.5 .25-28.1 .25 32.7 .25-5.1 .25-24.5 .25 27.7 .26-26.2 .25 10.5 .25 14 .25-9.9 .25-15.2 .25-7.7 .25 12.9 .25 .8 .25 6.5 .25-10.3 .25 .4 .26-14.7 .25 14.8 .25 10.4 .25 11.4 .25-5.1 .25 1.8 .25-33.1 .25 12.1 .25 10.4 .25-14.6 .25 24 .26-12.4 .25-15.9 .25 25.5 .25-7.1 .25-17 .25-1.6 .25 19.1 .25 8 .25-15.1 .25 4.5 .25 22.2 .25-20.5 .26 7.1 .25 6.9 .25-10.2 .25 10.7 .25-21.4 .25 6.2 .25-4.9 .25 21 .25-11.1 .25-22.3 .25 12.4 .26 .2 .25 2.6 .25-2.8 .25 8.3 .25-26.3 .25 21 .25-3.3 .25 8.1 .25-12.7 .25 17.4 .25-17.8 .26 13.8 .25-8 .25 4.3 .25 11.5 .25-5.3 .25-6.9 .25 16.2 .25-28.4 .25 2.4 .25 18.9 .25-27.2 .26 35.6 .25-7.8 .25 6.3 .25 4.4 .25-35.3 .25 8.8 .25-7.1 .25-8.3 .25 21.2 .25-3.8 .25 15.2 .26-20.9 .25 18.5 .25-11.6 .25 15.5 .25-9.7 .25-17.7 .25-1.8 .25 16.5 .25-2.5 .25-17.5 .25 10.9 .25 17.6 .26-9 .25-16.8 .25 5.1 .25 31.9 .25-8.7 .25-14.8 .25 13 .25-9.6 .25 .8 .25 4.9 .25-20.6 .26 13.6 .25 9.1 .25-2.3 .25-5.7 .25 11.9 .25-13.1 .25 5.6 .25-4.9 .25-9.2 .25 21 .25-15.1 .26-1 .25-9.8 .25 11.5 .25 13.7 .25-11.9 .25-.3 .25 25.2 .25-38 .25 19.4 .25-4.2 .25 18.7 .26-25.1 .25-24.9 .25 45.9 .25-12.4 .25-5.1 .25 10 .25-18.8 .25 6.9 .25 8.1 .25-18.9 .25 4.5 .26 15.7 .25-15.2 .25-10.8 .25 36.4 .25-26.5 .25 29.1 .25-23.1 .25-3.6 .25 5.9 .25-6.2 .25 23.3 .25-8.3 .26-5.6 .25-5.5 .25-8.2 .25 14.9 .25-10.3 .25 7.5 .25 12.9 .25-24.2 .25 14.6 .25-17 .25 13.2 .26 0 .25-15.9 .25 6.6 .25 6.7 .25 32.3 .25-38.8 .25 11 .25-13.4 .25 3.5 .25 32.2 .25-21.8 .26-8.3 .25 31 .25-21.5 .25-1.8 .25 2 .25-2.7 .25 23.6 .25-18.6 .25-.2 .25-6.9 .25-10.3 .26 22 .25 4.5 .25-25.4 .25 8.2 .25 5.2 .25-6.2 .25 2.9 .25-1.4 .25-6 .25-1.8 .25-.4 .26 6.5 .25 17.3 .25-24.1 .25 17.8 .25 4.6 .25-1.4 .25-1.6 .25 2.6 .25 5.7 .25-36.6 .25 29.6 .25-16.8 .26-2.8 .25-.2 .25 3.4 .25 13.3 .25 3.3 .25-1.9 .25-16.4 .25 7.9 .25 .4 .25 14.6 .25-21.9 .26 14.2 .25 5.4 .25-22.5 .25 22.1 .25-11.2 .25 9.9 .25-19.6 .25 31.4 .25-24.6 .25-5.1 .25 13.3 .26-12.1 .25 5.7 .25 24 .25-7.6 .25-12.5 .25-11.5 .25 9.1 .25-7.5 .25 8.7 .25-10 .25-15.2 .26 22.2 .25-7.2 .25 14 .25 5.6 .25-19.7 .25 3.1 .25 .1 .25 5.1 .25 15.3 .25-2.9 .25-18.8 .26-8.3 .25 10.7 .25 4.7 .25 5.5 .25-6.6 .25 28.3 .25-31.3 .25-5.4 .25 21.6 .25-14 .25-17.6 .25 18.4 .26-17.2 .25 31.1 .25-6.9 .25-20 .25 9.2 .25-5.9 .25-14.3 .25 39.2 .25-30.5 .25-2.4 .25 31.6 .26-27.1 .25 16.9 .25-10.7 .25-8 .25 23.2 .25-14.6 .25-1.8 .25 26.2 .25-6.6 .25 4.9 .25-16.4 .26-5.1 .25 2.5 .25 10.8 .25-11.5 .25-4.7 .25-8.6 .25-4.7 .25 14.8 .25 8.3 .25 5.1 .25-6.6 .26 2.9 .25-5.5 .25-11.2 .25 12.4 .25-8.4 .25-10.8 .25 8 .25 26.4 .25 14.3 .25-22.4 .25-8 .26 9.6 .25-26 .25 5.9 .25 6.5 .25 8 .25 5 .25-13.6 .25-18.1 .25 16.1 .25 10.2 .25-9.8 .25 8.6 .26 10.3 .25-7.6 .25-8.6 .25 23.8 .25-17.3 .25-6.8 .25-8.9 .25 6.6 .25 17.3 .25-5.1 .25-8.4 .26-4.5 .25-10 .25 16.2 .25 12.8 .25-20.2 .25 4.1 .25-5.3 .25 4.4 .25 7.9 .25 24.4 .25-17 .26-4.7 .25-10.9 .25 .1 .25 17.9 .25-22.4 .25 9.5 .25-15.5 .25 5.2 .25 8.5 .25-2.8 .25 5.3 .26-11.8 .25 17.9 .25 1.6 .25 4.3 .25-4.2 .25 1 .25-7.8 .25-5 .25 23.2 .25-3.4 .25-4 .26-12.7 .25 18.1 .25-14.2 .25-.9 .25 2.9 .25 .5 .25 5.3 .25-16.4 .25 18.8 .25-26.5 .25 12.9 .25 27 .26-10.9 .25-13.9 .25 6.8 .25-5.7 .25 23.1 .25-26 .25 6.8 .25-16.4 .25 27.4 .25-29.4 .25 30.6 .26-24.8 .25 11.6 .25-2.4 .25-5.8 .25-8.3 .25 24 .25-15.9 .25-3.9 .25 9.7 .25 27.5 .25-7.4 .26-27 .25 19.6 .25-23.6 .25 4 .25 7.4 .25 5.7" fill="none" stroke="#f00" stroke-width="3.0" stroke-linejoin="bevel"/>
<text transform="translate(342.8 3553.0) scale(1 1.03)" font-size="78.8" text-anchor="end">0</text>
<text transform="translate(342.8 3276.0) scale(1 1.03)" font-size="78.8" text-anchor="end">200</text>
<text transform="translate(342.8 2998.9) scale(1 1.03)" font-size="78.8" text-anchor="end">400</text>
<text transform="translate(342.8 2721.9) scale(1 1.03)" font-size="78.8" text-anchor="end">600</text>
<text transform="translate(342.8 2444.8) scale(1 1.03)" font-size="78.8" text-anchor="end">800</text>
<text transform="translate(342.8 2167.8) scale(1 1.03)" font-size="78.8" text-anchor="end">1000</text>
<text transform="translate(498.7 3624.4) scale(1 1.03)" font-size="78.8" text-anchor="middle">10</text>
<text transform="translate(749.6 3624.4) scale(1 1.03)" font-size="78.8" text-anchor="middle">20</text>
<text transform="translate(1000.5 3624.4) scale(1 1.03)" font-size="78.8" text-anchor="middle">30</text>
<text transform="translate(1251.4 3624.4) scale(1 1.03)" font-size="78.8" text-anchor="middle">40</text>
<text transform="translate(1502.3 3624.4) scale(1 1.03)" font-size="78.8" text-anchor="middle">50</text>
<text transform="translate(1753.2 3624.4) scale(1 1.03)" font-size="78.8" text-anchor="middle">60</text>
<text transform="translate(2004.1 3624.4) scale(1 1.03)" font-size="78.8" text-anchor="middle">70</text>
<text transform="translate(2255.0 3624.4) scale(1 1.03)" font-size="78.8" text-anchor="middle">80</text>
<text x="550.3" y="2288.8" font-size="91.5" text-anchor="start">(b)</text>
<path d="M1536 2304H1788" stroke="#000" stroke-width="2.7"/>
<path d="M1536 2424.5H1788" stroke="#f00" stroke-width="2.7"/>
<text transform="translate(1814.6 2338.7) scale(1 1.03)" font-size="98.5" text-anchor="start">MSR400</text>
<text transform="translate(1814.6 2459.0) scale(1 1.03)" font-size="98.5" text-anchor="start">MSR850</text>
<text transform="translate(122.6 3266.6) rotate(-90)" font-size="112.4">Intensity, a.u.</text>
<text transform="translate(1180.0 3785.0) scale(1 1.03)" font-size="123.0" text-anchor="start">2θ,</text>
<text x="1386.0" y="3718.3" font-size="73.5" text-anchor="start">o</text>
</svg>
</body></html>
